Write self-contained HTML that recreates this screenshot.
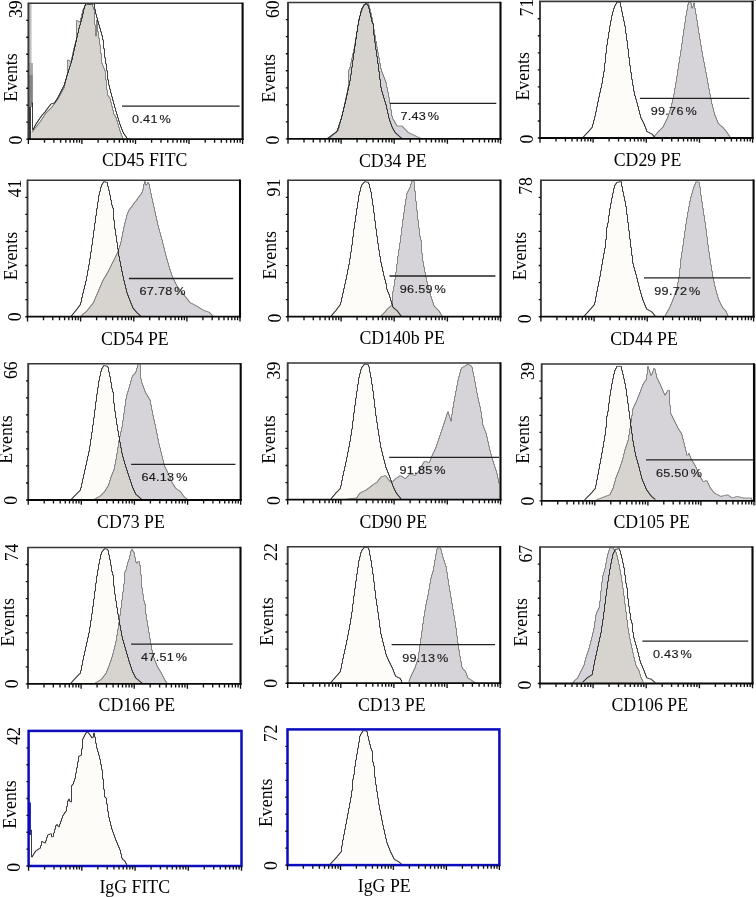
<!DOCTYPE html>
<html><head><meta charset="utf-8"><title>Flow cytometry histograms</title>
<style>html,body{margin:0;padding:0;background:#fff;width:756px;height:897px;overflow:hidden}svg{display:block;will-change:transform}</style>
</head><body>
<svg width="756" height="897" viewBox="0 0 756 897">
<defs><clipPath id="c0"><polygon points="31.5,139.1 31.5,103.0 32.5,103.0 32.5,129.8 33.5,129.8 33.5,127.9 34.5,127.9 34.5,125.9 35.5,125.9 35.5,124.0 36.5,124.0 36.5,122.5 37.5,122.5 37.5,121.1 38.5,121.1 38.5,119.6 39.5,119.6 39.5,118.1 40.5,118.1 40.5,116.7 41.5,116.7 41.5,115.3 42.5,115.3 42.5,114.2 43.5,114.2 43.5,113.1 44.5,113.1 44.5,112.0 45.5,112.0 45.5,110.6 46.5,110.6 46.5,109.2 47.5,109.2 47.5,107.9 48.5,107.9 48.5,106.6 49.5,106.6 49.5,105.3 50.5,105.3 50.5,104.0 51.5,104.0 51.5,103.7 52.5,103.7 52.5,103.4 53.5,103.4 53.5,103.1 54.5,103.1 54.5,102.1 55.5,102.1 55.5,100.6 56.5,100.6 56.5,99.0 57.5,99.0 57.5,97.2 58.5,97.2 58.5,95.4 59.5,95.4 59.5,93.4 60.5,93.4 60.5,91.4 61.5,91.4 61.5,89.5 62.5,89.5 62.5,87.5 63.5,87.5 63.5,85.5 64.5,85.5 64.5,82.3 65.5,82.3 65.5,79.0 66.5,79.0 66.5,75.8 67.5,75.8 67.5,72.6 68.5,72.6 68.5,69.4 69.5,69.4 69.5,66.2 70.5,66.2 70.5,63.1 71.5,63.1 71.5,59.8 72.5,59.8 72.5,55.3 73.5,55.3 73.5,50.8 74.5,50.8 74.5,46.4 75.5,46.4 75.5,41.9 76.5,41.9 76.5,37.4 77.5,37.4 77.5,33.0 78.5,33.0 78.5,28.5 79.5,28.5 79.5,25.0 80.5,25.0 80.5,21.6 81.5,21.6 81.5,18.1 82.5,18.1 82.5,13.7 83.5,13.7 83.5,9.1 84.5,9.1 84.5,5.6 85.5,5.6 85.5,3.7 86.5,3.7 86.5,3.9 87.5,3.9 87.5,4.3 88.5,4.3 88.5,4.4 89.5,4.4 89.5,4.3 90.5,4.3 90.5,4.1 91.5,4.1 91.5,4.0 92.5,4.0 92.5,4.0 93.5,4.0 93.5,4.0 94.5,4.0 94.5,9.4 95.5,9.4 95.5,14.1 96.5,14.1 96.5,17.7 97.5,17.7 97.5,21.3 98.5,21.3 98.5,24.9 99.5,24.9 99.5,28.4 100.5,28.4 100.5,31.8 101.5,31.8 101.5,35.3 102.5,35.3 102.5,39.8 103.5,39.8 103.5,48.7 104.5,48.7 104.5,57.7 105.5,57.7 105.5,63.9 106.5,63.9 106.5,70.7 107.5,70.7 107.5,79.7 108.5,79.7 108.5,85.2 109.5,85.2 109.5,89.1 110.5,89.1 110.5,93.0 111.5,93.0 111.5,96.8 112.5,96.8 112.5,100.5 113.5,100.5 113.5,104.2 114.5,104.2 114.5,107.8 115.5,107.8 115.5,111.3 116.5,111.3 116.5,114.5 117.5,114.5 117.5,117.8 118.5,117.8 118.5,121.1 119.5,121.1 119.5,124.3 120.5,124.3 120.5,127.0 121.5,127.0 121.5,129.5 122.5,129.5 122.5,132.0 123.5,132.0 123.5,133.9 124.5,133.9 124.5,135.3 125.5,135.3 125.5,136.7 126.5,136.7 126.5,138.2 127.5,138.2 127.5,138.8 128.5,138.8 128.5,139.1 129.5,139.1 129.5,139.4 130.5,139.4"/></clipPath><clipPath id="c1"><polygon points="326.5,138.5 327.5,138.5 327.5,138.0 328.5,138.0 328.5,137.3 329.5,137.3 329.5,136.6 330.5,136.6 330.5,135.9 331.5,135.9 331.5,135.1 332.5,135.1 332.5,134.4 333.5,134.4 333.5,133.7 334.5,133.7 334.5,133.0 335.5,133.0 335.5,132.3 336.5,132.3 336.5,131.1 337.5,131.1 337.5,128.2 338.5,128.2 338.5,125.2 339.5,125.2 339.5,122.2 340.5,122.2 340.5,119.3 341.5,119.3 341.5,115.9 342.5,115.9 342.5,111.8 343.5,111.8 343.5,107.7 344.5,107.7 344.5,103.7 345.5,103.7 345.5,99.6 346.5,99.6 346.5,95.1 347.5,95.1 347.5,90.3 348.5,90.3 348.5,85.6 349.5,85.6 349.5,80.8 350.5,80.8 350.5,74.4 351.5,74.4 351.5,67.2 352.5,67.2 352.5,60.1 353.5,60.1 353.5,52.9 354.5,52.9 354.5,46.0 355.5,46.0 355.5,39.0 356.5,39.0 356.5,32.1 357.5,32.1 357.5,25.2 358.5,25.2 358.5,20.2 359.5,20.2 359.5,15.8 360.5,15.8 360.5,11.3 361.5,11.3 361.5,8.5 362.5,8.5 362.5,6.9 363.5,6.9 363.5,5.4 364.5,5.4 364.5,4.4 365.5,4.4 365.5,3.4 366.5,3.4 366.5,4.3 367.5,4.3 367.5,5.6 368.5,5.6 368.5,8.5 369.5,8.5 369.5,12.9 370.5,12.9 370.5,17.2 371.5,17.2 371.5,21.6 372.5,21.6 372.5,23.8 373.5,23.8 373.5,35.0 374.5,35.0 374.5,42.4 375.5,42.4 375.5,49.7 376.5,49.7 376.5,56.6 377.5,56.6 377.5,63.5 378.5,63.5 378.5,71.4 379.5,71.4 379.5,79.4 380.5,79.4 380.5,87.3 381.5,87.3 381.5,91.6 382.5,91.6 382.5,94.9 383.5,94.9 383.5,98.2 384.5,98.2 384.5,101.5 385.5,101.5 385.5,104.8 386.5,104.8 386.5,109.2 387.5,109.2 387.5,113.7 388.5,113.7 388.5,118.1 389.5,118.1 389.5,121.2 390.5,121.2 390.5,124.0 391.5,124.0 391.5,126.8 392.5,126.8 392.5,128.8 393.5,128.8 393.5,130.5 394.5,130.5 394.5,132.2 395.5,132.2 395.5,133.4 396.5,133.4 396.5,134.3 397.5,134.3 397.5,135.1 398.5,135.1 398.5,136.0 399.5,136.0 399.5,136.9 400.5,136.9 400.5,137.7 401.5,137.7 401.5,138.5 402.5,138.5"/></clipPath><clipPath id="c2"><polygon points="582.5,137.3 583.5,137.3 583.5,136.3 584.5,136.3 584.5,135.2 585.5,135.2 585.5,134.2 586.5,134.2 586.5,133.1 587.5,133.1 587.5,132.1 588.5,132.1 588.5,131.0 589.5,131.0 589.5,129.8 590.5,129.8 590.5,128.6 591.5,128.6 591.5,127.4 592.5,127.4 592.5,124.2 593.5,124.2 593.5,120.3 594.5,120.3 594.5,116.3 595.5,116.3 595.5,111.8 596.5,111.8 596.5,106.8 597.5,106.8 597.5,101.9 598.5,101.9 598.5,97.1 599.5,97.1 599.5,92.6 600.5,92.6 600.5,88.1 601.5,88.1 601.5,83.5 602.5,83.5 602.5,77.5 603.5,77.5 603.5,71.6 604.5,71.6 604.5,63.0 605.5,63.0 605.5,53.4 606.5,53.4 606.5,45.0 607.5,45.0 607.5,38.6 608.5,38.6 608.5,32.1 609.5,32.1 609.5,25.9 610.5,25.9 610.5,20.6 611.5,20.6 611.5,15.4 612.5,15.4 612.5,11.6 613.5,11.6 613.5,8.3 614.5,8.3 614.5,5.7 615.5,5.7 615.5,4.0 616.5,4.0 616.5,2.4 617.5,2.4 617.5,2.4 618.5,2.4 618.5,2.4 619.5,2.4 619.5,2.4 620.5,2.4 620.5,6.9 621.5,6.9 621.5,11.8 622.5,11.8 622.5,16.6 623.5,16.6 623.5,21.2 624.5,21.2 624.5,26.1 625.5,26.1 625.5,33.4 626.5,33.4 626.5,40.7 627.5,40.7 627.5,48.9 628.5,48.9 628.5,57.5 629.5,57.5 629.5,65.6 630.5,65.6 630.5,72.5 631.5,72.5 631.5,79.4 632.5,79.4 632.5,85.4 633.5,85.4 633.5,91.3 634.5,91.3 634.5,95.8 635.5,95.8 635.5,99.2 636.5,99.2 636.5,102.7 637.5,102.7 637.5,106.4 638.5,106.4 638.5,110.4 639.5,110.4 639.5,114.3 640.5,114.3 640.5,117.9 641.5,117.9 641.5,119.9 642.5,119.9 642.5,121.8 643.5,121.8 643.5,123.8 644.5,123.8 644.5,126.3 645.5,126.3 645.5,128.9 646.5,128.9 646.5,131.4 647.5,131.4 647.5,132.1 648.5,132.1 648.5,132.6 649.5,132.6 649.5,133.1 650.5,133.1 650.5,133.6 651.5,133.6 651.5,134.1 652.5,134.1 652.5,135.2 653.5,135.2 653.5,136.4 654.5,136.4 654.5,137.5 655.5,137.5"/></clipPath><clipPath id="c3"><polygon points="70.5,316.4 71.5,316.4 71.5,315.2 72.5,315.2 72.5,314.0 73.5,314.0 73.5,312.8 74.5,312.8 74.5,311.6 75.5,311.6 75.5,310.4 76.5,310.4 76.5,309.0 77.5,309.0 77.5,307.7 78.5,307.7 78.5,306.3 79.5,306.3 79.5,305.0 80.5,305.0 80.5,302.1 81.5,302.1 81.5,297.6 82.5,297.6 82.5,293.1 83.5,293.1 83.5,289.1 84.5,289.1 84.5,285.1 85.5,285.1 85.5,281.1 86.5,281.1 86.5,275.9 87.5,275.9 87.5,270.3 88.5,270.3 88.5,264.8 89.5,264.8 89.5,258.6 90.5,258.6 90.5,251.9 91.5,251.9 91.5,245.1 92.5,245.1 92.5,237.8 93.5,237.8 93.5,230.4 94.5,230.4 94.5,223.0 95.5,223.0 95.5,215.7 96.5,215.7 96.5,208.6 97.5,208.6 97.5,202.0 98.5,202.0 98.5,195.3 99.5,195.3 99.5,191.3 100.5,191.3 100.5,187.2 101.5,187.2 101.5,184.6 102.5,184.6 102.5,182.9 103.5,182.9 103.5,181.7 104.5,181.7 104.5,181.9 105.5,181.9 105.5,182.2 106.5,182.2 106.5,182.4 107.5,182.4 107.5,186.4 108.5,186.4 108.5,190.4 109.5,190.4 109.5,195.0 110.5,195.0 110.5,200.1 111.5,200.1 111.5,205.1 112.5,205.1 112.5,208.1 113.5,208.1 113.5,220.2 114.5,220.2 114.5,228.9 115.5,228.9 115.5,235.6 116.5,235.6 116.5,242.3 117.5,242.3 117.5,249.2 118.5,249.2 118.5,256.2 119.5,256.2 119.5,261.3 120.5,261.3 120.5,266.4 121.5,266.4 121.5,271.4 122.5,271.4 122.5,276.1 123.5,276.1 123.5,280.7 124.5,280.7 124.5,284.7 125.5,284.7 125.5,288.7 126.5,288.7 126.5,292.7 127.5,292.7 127.5,295.4 128.5,295.4 128.5,298.0 129.5,298.0 129.5,300.6 130.5,300.6 130.5,303.2 131.5,303.2 131.5,305.6 132.5,305.6 132.5,308.0 133.5,308.0 133.5,309.2 134.5,309.2 134.5,310.4 135.5,310.4 135.5,311.6 136.5,311.6 136.5,312.7 137.5,312.7 137.5,313.6 138.5,313.6 138.5,314.5 139.5,314.5 139.5,315.4 140.5,315.4 140.5,316.3 141.5,316.3"/></clipPath><clipPath id="c4"><polygon points="330.5,316.1 331.5,316.1 331.5,315.0 332.5,315.0 332.5,313.8 333.5,313.8 333.5,312.7 334.5,312.7 334.5,311.6 335.5,311.6 335.5,310.4 336.5,310.4 336.5,309.0 337.5,309.0 337.5,307.7 338.5,307.7 338.5,306.3 339.5,306.3 339.5,305.0 340.5,305.0 340.5,302.1 341.5,302.1 341.5,297.6 342.5,297.6 342.5,293.1 343.5,293.1 343.5,288.6 344.5,288.6 344.5,284.1 345.5,284.1 345.5,279.6 346.5,279.6 346.5,274.7 347.5,274.7 347.5,269.6 348.5,269.6 348.5,264.6 349.5,264.6 349.5,258.6 350.5,258.6 350.5,251.9 351.5,251.9 351.5,245.0 352.5,245.0 352.5,236.9 353.5,236.9 353.5,228.9 354.5,228.9 354.5,222.0 355.5,222.0 355.5,215.3 356.5,215.3 356.5,208.6 357.5,208.6 357.5,202.0 358.5,202.0 358.5,195.3 359.5,195.3 359.5,191.3 360.5,191.3 360.5,187.2 361.5,187.2 361.5,184.8 362.5,184.8 362.5,183.6 363.5,183.6 363.5,182.4 364.5,182.4 364.5,181.7 365.5,181.7 365.5,181.9 366.5,181.9 366.5,182.1 367.5,182.1 367.5,182.3 368.5,182.3 368.5,184.0 369.5,184.0 369.5,188.0 370.5,188.0 370.5,192.0 371.5,192.0 371.5,198.7 372.5,198.7 372.5,205.4 373.5,205.4 373.5,212.9 374.5,212.9 374.5,220.9 375.5,220.9 375.5,228.8 376.5,228.8 376.5,236.2 377.5,236.2 377.5,243.5 378.5,243.5 378.5,250.1 379.5,250.1 379.5,256.5 380.5,256.5 380.5,262.4 381.5,262.4 381.5,266.9 382.5,266.9 382.5,271.4 383.5,271.4 383.5,275.9 384.5,275.9 384.5,279.7 385.5,279.7 385.5,283.5 386.5,283.5 386.5,289.3 387.5,289.3 387.5,292.0 388.5,292.0 388.5,294.2 389.5,294.2 389.5,297.4 390.5,297.4 390.5,300.8 391.5,300.8 391.5,303.9 392.5,303.9 392.5,307.0 393.5,307.0 393.5,308.2 394.5,308.2 394.5,309.0 395.5,309.0 395.5,309.8 396.5,309.8 396.5,310.6 397.5,310.6 397.5,311.9 398.5,311.9 398.5,313.2 399.5,313.2 399.5,314.6 400.5,314.6 400.5,315.9 401.5,315.9"/></clipPath><clipPath id="c5"><polygon points="583.5,316.2 584.5,316.2 584.5,315.2 585.5,315.2 585.5,314.1 586.5,314.1 586.5,313.0 587.5,313.0 587.5,311.9 588.5,311.9 588.5,310.8 589.5,310.8 589.5,309.7 590.5,309.7 590.5,308.6 591.5,308.6 591.5,307.4 592.5,307.4 592.5,306.2 593.5,306.2 593.5,305.0 594.5,305.0 594.5,302.2 595.5,302.2 595.5,296.8 596.5,296.8 596.5,291.5 597.5,291.5 597.5,286.5 598.5,286.5 598.5,281.5 599.5,281.5 599.5,276.5 600.5,276.5 600.5,270.7 601.5,270.7 601.5,264.6 602.5,264.6 602.5,258.9 603.5,258.9 603.5,253.5 604.5,253.5 604.5,248.2 605.5,248.2 605.5,239.5 606.5,239.5 606.5,227.3 607.5,227.3 607.5,222.9 608.5,222.9 608.5,215.6 609.5,215.6 609.5,208.6 610.5,208.6 610.5,203.3 611.5,203.3 611.5,198.0 612.5,198.0 612.5,193.1 613.5,193.1 613.5,188.4 614.5,188.4 614.5,185.1 615.5,185.1 615.5,183.7 616.5,183.7 616.5,182.4 617.5,182.4 617.5,182.2 618.5,182.2 618.5,182.0 619.5,182.0 619.5,181.8 620.5,181.8 620.5,181.6 621.5,181.6 621.5,186.6 622.5,186.6 622.5,191.6 623.5,191.6 623.5,196.4 624.5,196.4 624.5,201.1 625.5,201.1 625.5,206.5 626.5,206.5 626.5,214.5 627.5,214.5 627.5,222.5 628.5,222.5 628.5,230.8 629.5,230.8 629.5,239.1 630.5,239.1 630.5,247.4 631.5,247.4 631.5,255.4 632.5,255.4 632.5,263.4 633.5,263.4 633.5,267.4 634.5,267.4 634.5,270.9 635.5,270.9 635.5,274.4 636.5,274.4 636.5,278.3 637.5,278.3 637.5,282.3 638.5,282.3 638.5,286.3 639.5,286.3 639.5,290.1 640.5,290.1 640.5,293.5 641.5,293.5 641.5,297.0 642.5,297.0 642.5,300.2 643.5,300.2 643.5,302.7 644.5,302.7 644.5,305.1 645.5,305.1 645.5,307.5 646.5,307.5 646.5,309.3 647.5,309.3 647.5,309.8 648.5,309.8 648.5,310.3 649.5,310.3 649.5,310.9 650.5,310.9 650.5,311.4 651.5,311.4 651.5,312.2 652.5,312.2 652.5,313.3 653.5,313.3 653.5,314.5 654.5,314.5 654.5,315.6 655.5,315.6 655.5,316.7"/></clipPath><clipPath id="c6"><polygon points="70.5,499.6 71.5,499.6 71.5,498.6 72.5,498.6 72.5,497.6 73.5,497.6 73.5,496.5 74.5,496.5 74.5,495.5 75.5,495.5 75.5,494.5 76.5,494.5 76.5,493.5 77.5,493.5 77.5,492.5 78.5,492.5 78.5,491.5 79.5,491.5 79.5,490.5 80.5,490.5 80.5,487.7 81.5,487.7 81.5,483.2 82.5,483.2 82.5,478.7 83.5,478.7 83.5,474.2 84.5,474.2 84.5,469.7 85.5,469.7 85.5,465.2 86.5,465.2 86.5,460.7 87.5,460.7 87.5,456.1 88.5,456.1 88.5,451.6 89.5,451.6 89.5,445.8 90.5,445.8 90.5,439.1 91.5,439.1 91.5,432.3 92.5,432.3 92.5,425.0 93.5,425.0 93.5,417.7 94.5,417.7 94.5,409.8 95.5,409.8 95.5,401.7 96.5,401.7 96.5,394.2 97.5,394.2 97.5,387.6 98.5,387.6 98.5,380.9 99.5,380.9 99.5,376.2 100.5,376.2 100.5,371.5 101.5,371.5 101.5,368.6 102.5,368.6 102.5,366.9 103.5,366.9 103.5,365.6 104.5,365.6 104.5,365.8 105.5,365.8 105.5,366.0 106.5,366.0 106.5,366.2 107.5,366.2 107.5,367.3 108.5,367.3 108.5,372.0 109.5,372.0 109.5,376.7 110.5,376.7 110.5,382.4 111.5,382.4 111.5,388.5 112.5,388.5 112.5,392.1 113.5,392.1 113.5,403.3 114.5,403.3 114.5,411.3 115.5,411.3 115.5,418.0 116.5,418.0 116.5,424.7 117.5,424.7 117.5,430.9 118.5,430.9 118.5,436.6 119.5,436.6 119.5,442.3 120.5,442.3 120.5,447.7 121.5,447.7 121.5,453.1 122.5,453.1 122.5,457.1 123.5,457.1 123.5,460.6 124.5,460.6 124.5,464.1 125.5,464.1 125.5,467.4 126.5,467.4 126.5,470.4 127.5,470.4 127.5,473.5 128.5,473.5 128.5,476.5 129.5,476.5 129.5,479.5 130.5,479.5 130.5,482.5 131.5,482.5 131.5,485.5 132.5,485.5 132.5,488.1 133.5,488.1 133.5,490.4 134.5,490.4 134.5,492.6 135.5,492.6 135.5,494.4 136.5,494.4 136.5,495.2 137.5,495.2 137.5,496.1 138.5,496.1 138.5,497.0 139.5,497.0 139.5,497.9 140.5,497.9 140.5,498.8 141.5,498.8 141.5,499.7 142.5,499.7"/></clipPath><clipPath id="c7"><polygon points="330.5,499.0 331.5,499.0 331.5,497.7 332.5,497.7 332.5,496.5 333.5,496.5 333.5,495.3 334.5,495.3 334.5,494.1 335.5,494.1 335.5,492.9 336.5,492.9 336.5,491.9 337.5,491.9 337.5,490.9 338.5,490.9 338.5,489.8 339.5,489.8 339.5,488.8 340.5,488.8 340.5,485.7 341.5,485.7 341.5,480.6 342.5,480.6 342.5,475.5 343.5,475.5 343.5,471.0 344.5,471.0 344.5,466.5 345.5,466.5 345.5,462.0 346.5,462.0 346.5,457.1 347.5,457.1 347.5,452.0 348.5,452.0 348.5,447.0 349.5,447.0 349.5,441.4 350.5,441.4 350.5,435.4 351.5,435.4 351.5,429.0 352.5,429.0 352.5,421.0 353.5,421.0 353.5,412.9 354.5,412.9 354.5,405.4 355.5,405.4 355.5,398.1 356.5,398.1 356.5,391.0 357.5,391.0 357.5,384.3 358.5,384.3 358.5,377.6 359.5,377.6 359.5,373.6 360.5,373.6 360.5,369.6 361.5,369.6 361.5,367.2 362.5,367.2 362.5,366.0 363.5,366.0 363.5,364.8 364.5,364.8 364.5,364.1 365.5,364.1 365.5,364.3 366.5,364.3 366.5,364.5 367.5,364.5 367.5,364.7 368.5,364.7 368.5,366.9 369.5,366.9 369.5,372.3 370.5,372.3 370.5,377.6 371.5,377.6 371.5,384.3 372.5,384.3 372.5,391.0 373.5,391.0 373.5,398.9 374.5,398.9 374.5,407.6 375.5,407.6 375.5,415.8 376.5,415.8 376.5,422.6 377.5,422.6 377.5,429.3 378.5,429.3 378.5,435.7 379.5,435.7 379.5,442.1 380.5,442.1 380.5,447.8 381.5,447.8 381.5,451.8 382.5,451.8 382.5,455.9 383.5,455.9 383.5,459.9 384.5,459.9 384.5,463.7 385.5,463.7 385.5,467.5 386.5,467.5 386.5,470.0 387.5,470.0 387.5,472.5 388.5,472.5 388.5,475.0 389.5,475.0 389.5,477.7 390.5,477.7 390.5,480.5 391.5,480.5 391.5,483.3 392.5,483.3 392.5,486.1 393.5,486.1 393.5,488.3 394.5,488.3 394.5,490.4 395.5,490.4 395.5,492.4 396.5,492.4 396.5,493.9 397.5,493.9 397.5,495.2 398.5,495.2 398.5,496.4 399.5,496.4 399.5,497.6 400.5,497.6 400.5,498.9 401.5,498.9"/></clipPath><clipPath id="c8"><polygon points="584.5,499.5 585.5,499.5 585.5,498.5 586.5,498.5 586.5,497.5 587.5,497.5 587.5,496.5 588.5,496.5 588.5,495.5 589.5,495.5 589.5,494.5 590.5,494.5 590.5,493.4 591.5,493.4 591.5,492.3 592.5,492.3 592.5,491.1 593.5,491.1 593.5,489.9 594.5,489.9 594.5,488.8 595.5,488.8 595.5,485.1 596.5,485.1 596.5,479.8 597.5,479.8 597.5,474.4 598.5,474.4 598.5,469.1 599.5,469.1 599.5,463.8 600.5,463.8 600.5,458.4 601.5,458.4 601.5,453.0 602.5,453.0 602.5,447.4 603.5,447.4 603.5,441.4 604.5,441.4 604.5,435.4 605.5,435.4 605.5,427.4 606.5,427.4 606.5,416.2 607.5,416.2 607.5,411.4 608.5,411.4 608.5,403.3 609.5,403.3 609.5,395.7 610.5,395.7 610.5,389.7 611.5,389.7 611.5,383.7 612.5,383.7 612.5,378.7 613.5,378.7 613.5,374.0 614.5,374.0 614.5,370.4 615.5,370.4 615.5,368.4 616.5,368.4 616.5,366.4 617.5,366.4 617.5,366.4 618.5,366.4 618.5,366.4 619.5,366.4 619.5,366.4 620.5,366.4 620.5,366.4 621.5,366.4 621.5,370.4 622.5,370.4 622.5,374.4 623.5,374.4 623.5,378.8 624.5,378.8 624.5,383.5 625.5,383.5 625.5,388.8 626.5,388.8 626.5,396.1 627.5,396.1 627.5,403.4 628.5,403.4 628.5,411.1 629.5,411.1 629.5,418.8 630.5,418.8 630.5,426.4 631.5,426.4 631.5,433.7 632.5,433.7 632.5,441.1 633.5,441.1 633.5,446.6 634.5,446.6 634.5,452.0 635.5,452.0 635.5,456.4 636.5,456.4 636.5,459.9 637.5,459.9 637.5,463.4 638.5,463.4 638.5,467.1 639.5,467.1 639.5,471.1 640.5,471.1 640.5,475.1 641.5,475.1 641.5,478.9 642.5,478.9 642.5,481.3 643.5,481.3 643.5,483.6 644.5,483.6 644.5,486.0 645.5,486.0 645.5,488.4 646.5,488.4 646.5,490.4 647.5,490.4 647.5,491.7 648.5,491.7 648.5,493.1 649.5,493.1 649.5,494.4 650.5,494.4 650.5,495.7 651.5,495.7 651.5,496.8 652.5,496.8 652.5,497.6 653.5,497.6 653.5,498.4 654.5,498.4 654.5,499.2 655.5,499.2 655.5,500.8"/></clipPath><clipPath id="c9"><polygon points="70.5,683.1 71.5,683.1 71.5,682.0 72.5,682.0 72.5,680.8 73.5,680.8 73.5,679.7 74.5,679.7 74.5,678.6 75.5,678.6 75.5,677.5 76.5,677.5 76.5,676.5 77.5,676.5 77.5,675.5 78.5,675.5 78.5,674.5 79.5,674.5 79.5,673.5 80.5,673.5 80.5,670.4 81.5,670.4 81.5,665.3 82.5,665.3 82.5,660.1 83.5,660.1 83.5,655.6 84.5,655.6 84.5,651.1 85.5,651.1 85.5,646.6 86.5,646.6 86.5,642.1 87.5,642.1 87.5,637.5 88.5,637.5 88.5,633.0 89.5,633.0 89.5,627.2 90.5,627.2 90.5,620.5 91.5,620.5 91.5,613.7 92.5,613.7 92.5,606.4 93.5,606.4 93.5,599.0 94.5,599.0 94.5,591.1 95.5,591.1 95.5,583.1 96.5,583.1 96.5,575.9 97.5,575.9 97.5,569.9 98.5,569.9 98.5,563.9 99.5,563.9 99.5,559.2 100.5,559.2 100.5,554.5 101.5,554.5 101.5,551.9 102.5,551.9 102.5,550.6 103.5,550.6 103.5,549.4 104.5,549.4 104.5,548.7 105.5,548.7 105.5,549.0 106.5,549.0 106.5,549.2 107.5,549.2 107.5,550.3 108.5,550.3 108.5,555.0 109.5,555.0 109.5,559.7 110.5,559.7 110.5,565.4 111.5,565.4 111.5,571.5 112.5,571.5 112.5,575.1 113.5,575.1 113.5,586.3 114.5,586.3 114.5,594.3 115.5,594.3 115.5,601.0 116.5,601.0 116.5,607.7 117.5,607.7 117.5,613.9 118.5,613.9 118.5,619.6 119.5,619.6 119.5,625.3 120.5,625.3 120.5,630.7 121.5,630.7 121.5,636.1 122.5,636.1 122.5,640.2 123.5,640.2 123.5,643.6 124.5,643.6 124.5,647.1 125.5,647.1 125.5,650.6 126.5,650.6 126.5,654.1 127.5,654.1 127.5,657.5 128.5,657.5 128.5,661.0 129.5,661.0 129.5,664.1 130.5,664.1 130.5,667.1 131.5,667.1 131.5,670.1 132.5,670.1 132.5,672.5 133.5,672.5 133.5,674.5 134.5,674.5 134.5,676.6 135.5,676.6 135.5,678.1 136.5,678.1 136.5,679.0 137.5,679.0 137.5,679.8 138.5,679.8 138.5,680.7 139.5,680.7 139.5,681.5 140.5,681.5 140.5,682.4 141.5,682.4 141.5,683.2 142.5,683.2"/></clipPath><clipPath id="c10"><polygon points="330.5,682.3 331.5,682.3 331.5,681.2 332.5,681.2 332.5,680.0 333.5,680.0 333.5,678.9 334.5,678.9 334.5,677.8 335.5,677.8 335.5,676.6 336.5,676.6 336.5,675.5 337.5,675.5 337.5,674.3 338.5,674.3 338.5,673.1 339.5,673.1 339.5,671.9 340.5,671.9 340.5,668.7 341.5,668.7 341.5,663.6 342.5,663.6 342.5,658.5 343.5,658.5 343.5,654.0 344.5,654.0 344.5,649.5 345.5,649.5 345.5,645.0 346.5,645.0 346.5,640.1 347.5,640.1 347.5,635.0 348.5,635.0 348.5,630.0 349.5,630.0 349.5,624.4 350.5,624.4 350.5,618.4 351.5,618.4 351.5,612.0 352.5,612.0 352.5,604.0 353.5,604.0 353.5,595.9 354.5,595.9 354.5,588.4 355.5,588.4 355.5,581.1 356.5,581.1 356.5,574.0 357.5,574.0 357.5,567.3 358.5,567.3 358.5,560.6 359.5,560.6 359.5,556.6 360.5,556.6 360.5,552.6 361.5,552.6 361.5,550.2 362.5,550.2 362.5,549.0 363.5,549.0 363.5,547.8 364.5,547.8 364.5,547.1 365.5,547.1 365.5,547.3 366.5,547.3 366.5,547.5 367.5,547.5 367.5,547.7 368.5,547.7 368.5,549.9 369.5,549.9 369.5,555.3 370.5,555.3 370.5,560.6 371.5,560.6 371.5,567.3 372.5,567.3 372.5,574.0 373.5,574.0 373.5,581.9 374.5,581.9 374.5,590.6 375.5,590.6 375.5,598.8 376.5,598.8 376.5,605.5 377.5,605.5 377.5,612.3 378.5,612.3 378.5,619.7 379.5,619.7 379.5,627.4 380.5,627.4 380.5,634.0 381.5,634.0 381.5,638.1 382.5,638.1 382.5,642.1 383.5,642.1 383.5,646.1 384.5,646.1 384.5,650.1 385.5,650.1 385.5,654.1 386.5,654.1 386.5,656.8 387.5,656.8 387.5,659.1 388.5,659.1 388.5,661.3 389.5,661.3 389.5,663.3 390.5,663.3 390.5,665.3 391.5,665.3 391.5,667.3 392.5,667.3 392.5,669.6 393.5,669.6 393.5,672.2 394.5,672.2 394.5,674.7 395.5,674.7 395.5,676.4 396.5,676.4 396.5,676.9 397.5,676.9 397.5,677.4 398.5,677.4 398.5,677.9 399.5,677.9 399.5,678.4 400.5,678.4 400.5,680.0 401.5,680.0 401.5,682.4 402.5,682.4"/></clipPath><clipPath id="c11"><polygon points="582.5,681.8 583.5,681.8 583.5,680.9 584.5,680.9 584.5,680.0 585.5,680.0 585.5,679.0 586.5,679.0 586.5,678.1 587.5,678.1 587.5,677.3 588.5,677.3 588.5,676.7 589.5,676.7 589.5,676.0 590.5,676.0 590.5,675.4 591.5,675.4 591.5,674.7 592.5,674.7 592.5,670.3 593.5,670.3 593.5,664.9 594.5,664.9 594.5,659.9 595.5,659.9 595.5,655.4 596.5,655.4 596.5,650.9 597.5,650.9 597.5,646.4 598.5,646.4 598.5,641.9 599.5,641.9 599.5,637.3 600.5,637.3 600.5,632.8 601.5,632.8 601.5,626.1 602.5,626.1 602.5,619.5 603.5,619.5 603.5,612.0 604.5,612.0 604.5,603.9 605.5,603.9 605.5,596.0 606.5,596.0 606.5,588.7 607.5,588.7 607.5,581.4 608.5,581.4 608.5,575.1 609.5,575.1 609.5,569.1 610.5,569.1 610.5,563.6 611.5,563.6 611.5,558.9 612.5,558.9 612.5,554.2 613.5,554.2 613.5,552.2 614.5,552.2 614.5,550.2 615.5,550.2 615.5,549.3 616.5,549.3 616.5,549.1 617.5,549.1 617.5,548.9 618.5,548.9 618.5,548.7 619.5,548.7 619.5,550.8 620.5,550.8 620.5,554.5 621.5,554.5 621.5,558.3 622.5,558.3 622.5,563.0 623.5,563.0 623.5,567.8 624.5,567.8 624.5,575.1 625.5,575.1 625.5,583.1 626.5,583.1 626.5,587.9 627.5,587.9 627.5,598.7 628.5,598.7 628.5,606.4 629.5,606.4 629.5,613.2 630.5,613.2 630.5,619.9 631.5,619.9 631.5,623.2 632.5,623.2 632.5,632.3 633.5,632.3 633.5,638.1 634.5,638.1 634.5,641.6 635.5,641.6 635.5,645.0 636.5,645.0 636.5,648.5 637.5,648.5 637.5,652.5 638.5,652.5 638.5,656.5 639.5,656.5 639.5,660.5 640.5,660.5 640.5,663.4 641.5,663.4 641.5,665.8 642.5,665.8 642.5,668.2 643.5,668.2 643.5,670.6 644.5,670.6 644.5,673.2 645.5,673.2 645.5,675.9 646.5,675.9 646.5,677.9 647.5,677.9 647.5,678.2 648.5,678.2 648.5,678.6 649.5,678.6 649.5,678.9 650.5,678.9 650.5,679.2 651.5,679.2 651.5,679.9 652.5,679.9 652.5,680.8 653.5,680.8 653.5,681.7 654.5,681.7 654.5,682.3 655.5,682.3 655.5,683.5"/></clipPath><clipPath id="c12"><polygon points="30.5,866.0 30.5,830.0 31.5,830.0 31.5,857.0 32.5,857.0 32.5,855.3 33.5,855.3 33.5,853.7 34.5,853.7 34.5,852.1 35.5,852.1 35.5,850.8 36.5,850.8 36.5,850.2 37.5,850.2 37.5,849.5 38.5,849.5 38.5,848.8 39.5,848.8 39.5,848.2 40.5,848.2 40.5,845.5 41.5,845.5 41.5,841.5 42.5,841.5 42.5,842.0 43.5,842.0 43.5,842.5 44.5,842.5 44.5,843.0 45.5,843.0 45.5,840.8 46.5,840.8 46.5,837.4 47.5,837.4 47.5,835.0 48.5,835.0 48.5,834.5 49.5,834.5 49.5,834.0 50.5,834.0 50.5,833.8 51.5,833.8 51.5,836.8 52.5,836.8 52.5,836.5 53.5,836.5 53.5,832.9 54.5,832.9 54.5,829.3 55.5,829.3 55.5,825.7 56.5,825.7 56.5,824.6 57.5,824.6 57.5,825.9 58.5,825.9 58.5,826.8 59.5,826.8 59.5,824.0 60.5,824.0 60.5,821.2 61.5,821.2 61.5,818.3 62.5,818.3 62.5,815.6 63.5,815.6 63.5,814.1 64.5,814.1 64.5,812.6 65.5,812.6 65.5,811.1 66.5,811.1 66.5,806.2 67.5,806.2 67.5,800.9 68.5,800.9 68.5,799.2 69.5,799.2 69.5,801.2 70.5,801.2 70.5,801.9 71.5,801.9 71.5,785.4 72.5,785.4 72.5,784.1 73.5,784.1 73.5,781.4 74.5,781.4 74.5,778.5 75.5,778.5 75.5,773.1 76.5,773.1 76.5,767.7 77.5,767.7 77.5,761.9 78.5,761.9 78.5,756.4 79.5,756.4 79.5,755.8 80.5,755.8 80.5,755.2 81.5,755.2 81.5,748.9 82.5,748.9 82.5,738.8 83.5,738.8 83.5,736.8 84.5,736.8 84.5,734.8 85.5,734.8 85.5,733.1 86.5,733.1 86.5,731.5 87.5,731.5 87.5,732.5 88.5,732.5 88.5,733.6 89.5,733.6 89.5,734.9 90.5,734.9 90.5,736.4 91.5,736.4 91.5,737.9 92.5,737.9 92.5,737.2 93.5,737.2 93.5,733.2 94.5,733.2 94.5,737.2 95.5,737.2 95.5,743.3 96.5,743.3 96.5,748.3 97.5,748.3 97.5,751.8 98.5,751.8 98.5,755.3 99.5,755.3 99.5,759.2 100.5,759.2 100.5,764.5 101.5,764.5 101.5,769.8 102.5,769.8 102.5,779.0 103.5,779.0 103.5,789.4 104.5,789.4 104.5,797.0 105.5,797.0 105.5,798.0 106.5,798.0 106.5,804.1 107.5,804.1 107.5,811.4 108.5,811.4 108.5,817.4 109.5,817.4 109.5,821.4 110.5,821.4 110.5,825.5 111.5,825.5 111.5,829.3 112.5,829.3 112.5,832.1 113.5,832.1 113.5,834.9 114.5,834.9 114.5,837.7 115.5,837.7 115.5,840.4 116.5,840.4 116.5,842.7 117.5,842.7 117.5,845.1 118.5,845.1 118.5,847.4 119.5,847.4 119.5,849.9 120.5,849.9 120.5,853.9 121.5,853.9 121.5,858.0 122.5,858.0 122.5,859.7 123.5,859.7 123.5,860.3 124.5,860.3 124.5,861.4 125.5,861.4 125.5,863.3 126.5,863.3 126.5,865.3 127.5,865.3"/></clipPath><clipPath id="c13"><polygon points="329.5,864.4 330.5,864.4 330.5,863.3 331.5,863.3 331.5,862.2 332.5,862.2 332.5,861.1 333.5,861.1 333.5,860.1 334.5,860.1 334.5,859.0 335.5,859.0 335.5,857.9 336.5,857.9 336.5,856.8 337.5,856.8 337.5,855.5 338.5,855.5 338.5,854.3 339.5,854.3 339.5,853.1 340.5,853.1 340.5,851.9 341.5,851.9 341.5,845.8 342.5,845.8 342.5,839.9 343.5,839.9 343.5,834.6 344.5,834.6 344.5,829.4 345.5,829.4 345.5,824.1 346.5,824.1 346.5,818.9 347.5,818.9 347.5,813.6 348.5,813.6 348.5,808.3 349.5,808.3 349.5,802.8 350.5,802.8 350.5,797.4 351.5,797.4 351.5,790.7 352.5,790.7 352.5,779.4 353.5,779.4 353.5,774.6 354.5,774.6 354.5,766.5 355.5,766.5 355.5,760.0 356.5,760.0 356.5,754.1 357.5,754.1 357.5,748.2 358.5,748.2 358.5,742.2 359.5,742.2 359.5,736.1 360.5,736.1 360.5,734.0 361.5,734.0 361.5,732.4 362.5,732.4 362.5,730.8 363.5,730.8 363.5,730.8 364.5,730.8 364.5,730.8 365.5,730.8 365.5,730.8 366.5,730.8 366.5,731.7 367.5,731.7 367.5,736.2 368.5,736.2 368.5,740.6 369.5,740.6 369.5,744.5 370.5,744.5 370.5,748.4 371.5,748.4 371.5,750.8 372.5,750.8 372.5,762.1 373.5,762.1 373.5,766.1 374.5,766.1 374.5,777.3 375.5,777.3 375.5,784.8 376.5,784.8 376.5,791.6 377.5,791.6 377.5,798.2 378.5,798.2 378.5,804.8 379.5,804.8 379.5,810.1 380.5,810.1 380.5,815.1 381.5,815.1 381.5,820.2 382.5,820.2 382.5,825.2 383.5,825.2 383.5,829.7 384.5,829.7 384.5,834.2 385.5,834.2 385.5,838.7 386.5,838.7 386.5,842.8 387.5,842.8 387.5,845.3 388.5,845.3 388.5,847.9 389.5,847.9 389.5,850.4 390.5,850.4 390.5,852.7 391.5,852.7 391.5,854.7 392.5,854.7 392.5,856.7 393.5,856.7 393.5,858.7 394.5,858.7 394.5,859.8 395.5,859.8 395.5,860.3 396.5,860.3 396.5,860.8 397.5,860.8 397.5,861.3 398.5,861.3 398.5,862.0 399.5,862.0 399.5,862.9 400.5,862.9 400.5,863.8 401.5,863.8 401.5,864.7 402.5,864.7"/></clipPath></defs>
<rect width="756" height="897" fill="#fff"/>
<polygon points="31.5,139.1 31.5,103.0 32.5,103.0 32.5,129.8 33.5,129.8 33.5,127.9 34.5,127.9 34.5,125.9 35.5,125.9 35.5,124.0 36.5,124.0 36.5,122.5 37.5,122.5 37.5,121.1 38.5,121.1 38.5,119.6 39.5,119.6 39.5,118.1 40.5,118.1 40.5,116.7 41.5,116.7 41.5,115.3 42.5,115.3 42.5,114.2 43.5,114.2 43.5,113.1 44.5,113.1 44.5,112.0 45.5,112.0 45.5,110.6 46.5,110.6 46.5,109.2 47.5,109.2 47.5,107.9 48.5,107.9 48.5,106.6 49.5,106.6 49.5,105.3 50.5,105.3 50.5,104.0 51.5,104.0 51.5,103.7 52.5,103.7 52.5,103.4 53.5,103.4 53.5,103.1 54.5,103.1 54.5,102.1 55.5,102.1 55.5,100.6 56.5,100.6 56.5,99.0 57.5,99.0 57.5,97.2 58.5,97.2 58.5,95.4 59.5,95.4 59.5,93.4 60.5,93.4 60.5,91.4 61.5,91.4 61.5,89.5 62.5,89.5 62.5,87.5 63.5,87.5 63.5,85.5 64.5,85.5 64.5,82.3 65.5,82.3 65.5,79.0 66.5,79.0 66.5,75.8 67.5,75.8 67.5,72.6 68.5,72.6 68.5,69.4 69.5,69.4 69.5,66.2 70.5,66.2 70.5,63.1 71.5,63.1 71.5,59.8 72.5,59.8 72.5,55.3 73.5,55.3 73.5,50.8 74.5,50.8 74.5,46.4 75.5,46.4 75.5,41.9 76.5,41.9 76.5,37.4 77.5,37.4 77.5,33.0 78.5,33.0 78.5,28.5 79.5,28.5 79.5,25.0 80.5,25.0 80.5,21.6 81.5,21.6 81.5,18.1 82.5,18.1 82.5,13.7 83.5,13.7 83.5,9.1 84.5,9.1 84.5,5.6 85.5,5.6 85.5,3.7 86.5,3.7 86.5,3.9 87.5,3.9 87.5,4.3 88.5,4.3 88.5,4.4 89.5,4.4 89.5,4.3 90.5,4.3 90.5,4.1 91.5,4.1 91.5,4.0 92.5,4.0 92.5,4.0 93.5,4.0 93.5,4.0 94.5,4.0 94.5,9.4 95.5,9.4 95.5,14.1 96.5,14.1 96.5,17.7 97.5,17.7 97.5,21.3 98.5,21.3 98.5,24.9 99.5,24.9 99.5,28.4 100.5,28.4 100.5,31.8 101.5,31.8 101.5,35.3 102.5,35.3 102.5,39.8 103.5,39.8 103.5,48.7 104.5,48.7 104.5,57.7 105.5,57.7 105.5,63.9 106.5,63.9 106.5,70.7 107.5,70.7 107.5,79.7 108.5,79.7 108.5,85.2 109.5,85.2 109.5,89.1 110.5,89.1 110.5,93.0 111.5,93.0 111.5,96.8 112.5,96.8 112.5,100.5 113.5,100.5 113.5,104.2 114.5,104.2 114.5,107.8 115.5,107.8 115.5,111.3 116.5,111.3 116.5,114.5 117.5,114.5 117.5,117.8 118.5,117.8 118.5,121.1 119.5,121.1 119.5,124.3 120.5,124.3 120.5,127.0 121.5,127.0 121.5,129.5 122.5,129.5 122.5,132.0 123.5,132.0 123.5,133.9 124.5,133.9 124.5,135.3 125.5,135.3 125.5,136.7 126.5,136.7 126.5,138.2 127.5,138.2 127.5,138.8 128.5,138.8 128.5,139.1 129.5,139.1 129.5,139.4 130.5,139.4" fill="#fefcf8"/>
<polygon points="31.5,139.1 31.5,132.0 32.5,132.0 32.5,130.8 33.5,130.8 33.5,129.5 34.5,129.5 34.5,128.2 35.5,128.2 35.5,127.0 36.5,127.0 36.5,125.8 37.5,125.8 37.5,124.5 38.5,124.5 38.5,123.2 39.5,123.2 39.5,122.0 40.5,122.0 40.5,120.5 41.5,120.5 41.5,119.0 42.5,119.0 42.5,117.5 43.5,117.5 43.5,116.0 44.5,116.0 44.5,114.5 45.5,114.5 45.5,113.0 46.5,113.0 46.5,112.0 47.5,112.0 47.5,111.0 48.5,111.0 48.5,110.0 49.5,110.0 49.5,109.0 50.5,109.0 50.5,108.0 51.5,108.0 51.5,107.0 52.5,107.0 52.5,105.7 53.5,105.7 53.5,104.3 54.5,104.3 54.5,103.0 55.5,103.0 55.5,101.7 56.5,101.7 56.5,100.3 57.5,100.3 57.5,99.0 58.5,99.0 58.5,97.2 59.5,97.2 59.5,95.3 60.5,95.3 60.5,93.5 61.5,93.5 61.5,91.7 62.5,91.7 62.5,89.8 63.5,89.8 63.5,88.0 64.5,88.0 64.5,84.0 65.5,84.0 65.5,80.0 66.5,80.0 66.5,75.0 67.5,75.0 67.5,60.0 68.5,60.0 68.5,60.4 69.5,60.4 69.5,61.2 70.5,61.2 70.5,62.0 71.5,62.0 71.5,57.3 72.5,57.3 72.5,52.7 73.5,52.7 73.5,48.0 74.5,48.0 74.5,44.2 75.5,44.2 75.5,40.4 76.5,40.4 76.5,20.6 77.5,20.6 77.5,20.9 78.5,20.9 78.5,21.5 79.5,21.5 79.5,22.0 80.5,22.0 80.5,18.0 81.5,18.0 81.5,14.0 82.5,14.0 82.5,10.0 83.5,10.0 83.5,8.0 84.5,8.0 84.5,6.0 85.5,6.0 85.5,4.0 86.5,4.0 86.5,4.0 87.5,4.0 87.5,4.0 88.5,4.0 88.5,4.0 89.5,4.0 89.5,4.0 90.5,4.0 90.5,4.0 91.5,4.0 91.5,4.0 92.5,4.0 92.5,6.8 93.5,6.8 93.5,9.5 94.5,9.5 94.5,25.0 95.5,25.0 95.5,36.0 96.5,36.0 96.5,20.0 97.5,20.0 97.5,31.7 98.5,31.7 98.5,38.3 99.5,38.3 99.5,44.9 100.5,44.9 100.5,53.5 101.5,53.5 101.5,63.4 102.5,63.4 102.5,65.9 103.5,65.9 103.5,68.3 104.5,68.3 104.5,70.8 105.5,70.8 105.5,80.0 106.5,80.0 106.5,90.0 107.5,90.0 107.5,95.6 108.5,95.6 108.5,96.9 109.5,96.9 109.5,98.4 110.5,98.4 110.5,102.4 111.5,102.4 111.5,106.4 112.5,106.4 112.5,110.4 113.5,110.4 113.5,114.2 114.5,114.2 114.5,115.9 115.5,115.9 115.5,117.7 116.5,117.7 116.5,120.7 117.5,120.7 117.5,124.1 118.5,124.1 118.5,127.4 119.5,127.4 119.5,130.8 120.5,130.8 120.5,133.6 121.5,133.6 121.5,136.2 122.5,136.2 122.5,139.5 123.5,139.5 123.5,139.1" fill="#d7d4cf"/>
<polygon points="31.5,139.1 31.5,132.0 32.5,132.0 32.5,130.8 33.5,130.8 33.5,129.5 34.5,129.5 34.5,128.2 35.5,128.2 35.5,127.0 36.5,127.0 36.5,125.8 37.5,125.8 37.5,124.5 38.5,124.5 38.5,123.2 39.5,123.2 39.5,122.0 40.5,122.0 40.5,120.5 41.5,120.5 41.5,119.0 42.5,119.0 42.5,117.5 43.5,117.5 43.5,116.0 44.5,116.0 44.5,114.5 45.5,114.5 45.5,113.0 46.5,113.0 46.5,112.0 47.5,112.0 47.5,111.0 48.5,111.0 48.5,110.0 49.5,110.0 49.5,109.0 50.5,109.0 50.5,108.0 51.5,108.0 51.5,107.0 52.5,107.0 52.5,105.7 53.5,105.7 53.5,104.3 54.5,104.3 54.5,103.0 55.5,103.0 55.5,101.7 56.5,101.7 56.5,100.3 57.5,100.3 57.5,99.0 58.5,99.0 58.5,97.2 59.5,97.2 59.5,95.3 60.5,95.3 60.5,93.5 61.5,93.5 61.5,91.7 62.5,91.7 62.5,89.8 63.5,89.8 63.5,88.0 64.5,88.0 64.5,84.0 65.5,84.0 65.5,80.0 66.5,80.0 66.5,75.0 67.5,75.0 67.5,60.0 68.5,60.0 68.5,60.4 69.5,60.4 69.5,61.2 70.5,61.2 70.5,62.0 71.5,62.0 71.5,57.3 72.5,57.3 72.5,52.7 73.5,52.7 73.5,48.0 74.5,48.0 74.5,44.2 75.5,44.2 75.5,40.4 76.5,40.4 76.5,20.6 77.5,20.6 77.5,20.9 78.5,20.9 78.5,21.5 79.5,21.5 79.5,22.0 80.5,22.0 80.5,18.0 81.5,18.0 81.5,14.0 82.5,14.0 82.5,10.0 83.5,10.0 83.5,8.0 84.5,8.0 84.5,6.0 85.5,6.0 85.5,4.0 86.5,4.0 86.5,4.0 87.5,4.0 87.5,4.0 88.5,4.0 88.5,4.0 89.5,4.0 89.5,4.0 90.5,4.0 90.5,4.0 91.5,4.0 91.5,4.0 92.5,4.0 92.5,6.8 93.5,6.8 93.5,9.5 94.5,9.5 94.5,25.0 95.5,25.0 95.5,36.0 96.5,36.0 96.5,20.0 97.5,20.0 97.5,31.7 98.5,31.7 98.5,38.3 99.5,38.3 99.5,44.9 100.5,44.9 100.5,53.5 101.5,53.5 101.5,63.4 102.5,63.4 102.5,65.9 103.5,65.9 103.5,68.3 104.5,68.3 104.5,70.8 105.5,70.8 105.5,80.0 106.5,80.0 106.5,90.0 107.5,90.0 107.5,95.6 108.5,95.6 108.5,96.9 109.5,96.9 109.5,98.4 110.5,98.4 110.5,102.4 111.5,102.4 111.5,106.4 112.5,106.4 112.5,110.4 113.5,110.4 113.5,114.2 114.5,114.2 114.5,115.9 115.5,115.9 115.5,117.7 116.5,117.7 116.5,120.7 117.5,120.7 117.5,124.1 118.5,124.1 118.5,127.4 119.5,127.4 119.5,130.8 120.5,130.8 120.5,133.6 121.5,133.6 121.5,136.2 122.5,136.2 122.5,139.5 123.5,139.5 123.5,139.1" fill="#d7d4cf" clip-path="url(#c0)"/>
<polyline points="31.5,132.0 32.5,132.0 32.5,130.8 33.5,130.8 33.5,129.5 34.5,129.5 34.5,128.2 35.5,128.2 35.5,127.0 36.5,127.0 36.5,125.8 37.5,125.8 37.5,124.5 38.5,124.5 38.5,123.2 39.5,123.2 39.5,122.0 40.5,122.0 40.5,120.5 41.5,120.5 41.5,119.0 42.5,119.0 42.5,117.5 43.5,117.5 43.5,116.0 44.5,116.0 44.5,114.5 45.5,114.5 45.5,113.0 46.5,113.0 46.5,112.0 47.5,112.0 47.5,111.0 48.5,111.0 48.5,110.0 49.5,110.0 49.5,109.0 50.5,109.0 50.5,108.0 51.5,108.0 51.5,107.0 52.5,107.0 52.5,105.7 53.5,105.7 53.5,104.3 54.5,104.3 54.5,103.0 55.5,103.0 55.5,101.7 56.5,101.7 56.5,100.3 57.5,100.3 57.5,99.0 58.5,99.0 58.5,97.2 59.5,97.2 59.5,95.3 60.5,95.3 60.5,93.5 61.5,93.5 61.5,91.7 62.5,91.7 62.5,89.8 63.5,89.8 63.5,88.0 64.5,88.0 64.5,84.0 65.5,84.0 65.5,80.0 66.5,80.0 66.5,75.0 67.5,75.0 67.5,60.0 68.5,60.0 68.5,60.4 69.5,60.4 69.5,61.2 70.5,61.2 70.5,62.0 71.5,62.0 71.5,57.3 72.5,57.3 72.5,52.7 73.5,52.7 73.5,48.0 74.5,48.0 74.5,44.2 75.5,44.2 75.5,40.4 76.5,40.4 76.5,20.6 77.5,20.6 77.5,20.9 78.5,20.9 78.5,21.5 79.5,21.5 79.5,22.0 80.5,22.0 80.5,18.0 81.5,18.0 81.5,14.0 82.5,14.0 82.5,10.0 83.5,10.0 83.5,8.0 84.5,8.0 84.5,6.0 85.5,6.0 85.5,4.0 86.5,4.0 86.5,4.0 87.5,4.0 87.5,4.0 88.5,4.0 88.5,4.0 89.5,4.0 89.5,4.0 90.5,4.0 90.5,4.0 91.5,4.0 91.5,4.0 92.5,4.0 92.5,6.8 93.5,6.8 93.5,9.5 94.5,9.5 94.5,25.0 95.5,25.0 95.5,36.0 96.5,36.0 96.5,20.0 97.5,20.0 97.5,31.7 98.5,31.7 98.5,38.3 99.5,38.3 99.5,44.9 100.5,44.9 100.5,53.5 101.5,53.5 101.5,63.4 102.5,63.4 102.5,65.9 103.5,65.9 103.5,68.3 104.5,68.3 104.5,70.8 105.5,70.8 105.5,80.0 106.5,80.0 106.5,90.0 107.5,90.0 107.5,95.6 108.5,95.6 108.5,96.9 109.5,96.9 109.5,98.4 110.5,98.4 110.5,102.4 111.5,102.4 111.5,106.4 112.5,106.4 112.5,110.4 113.5,110.4 113.5,114.2 114.5,114.2 114.5,115.9 115.5,115.9 115.5,117.7 116.5,117.7 116.5,120.7 117.5,120.7 117.5,124.1 118.5,124.1 118.5,127.4 119.5,127.4 119.5,130.8 120.5,130.8 120.5,133.6 121.5,133.6 121.5,136.2 122.5,136.2 122.5,139.5 123.5,139.5" fill="none" stroke="#7a7a7a" stroke-width="0.9" stroke-linejoin="miter"/>
<rect x="29" y="3.5" width="2.6" height="70" fill="#c2c2c2"/>
<rect x="29" y="63" width="3.9" height="12" fill="#a8a8a8"/>
<rect x="29" y="75" width="3.9" height="32" fill="#858585"/>
<rect x="28.6" y="107" width="2.4" height="32" fill="#3a3a3a"/>
<polyline points="31.5,103.0 32.5,103.0 32.5,129.8 33.5,129.8 33.5,127.9 34.5,127.9 34.5,125.9 35.5,125.9 35.5,124.0 36.5,124.0 36.5,122.5 37.5,122.5 37.5,121.1 38.5,121.1 38.5,119.6 39.5,119.6 39.5,118.1 40.5,118.1 40.5,116.7 41.5,116.7 41.5,115.3 42.5,115.3 42.5,114.2 43.5,114.2 43.5,113.1 44.5,113.1 44.5,112.0 45.5,112.0 45.5,110.6 46.5,110.6 46.5,109.2 47.5,109.2 47.5,107.9 48.5,107.9 48.5,106.6 49.5,106.6 49.5,105.3 50.5,105.3 50.5,104.0 51.5,104.0 51.5,103.7 52.5,103.7 52.5,103.4 53.5,103.4 53.5,103.1 54.5,103.1 54.5,102.1 55.5,102.1 55.5,100.6 56.5,100.6 56.5,99.0 57.5,99.0 57.5,97.2 58.5,97.2 58.5,95.4 59.5,95.4 59.5,93.4 60.5,93.4 60.5,91.4 61.5,91.4 61.5,89.5 62.5,89.5 62.5,87.5 63.5,87.5 63.5,85.5 64.5,85.5 64.5,82.3 65.5,82.3 65.5,79.0 66.5,79.0 66.5,75.8 67.5,75.8 67.5,72.6 68.5,72.6 68.5,69.4 69.5,69.4 69.5,66.2 70.5,66.2 70.5,63.1 71.5,63.1 71.5,59.8 72.5,59.8 72.5,55.3 73.5,55.3 73.5,50.8 74.5,50.8 74.5,46.4 75.5,46.4 75.5,41.9 76.5,41.9 76.5,37.4 77.5,37.4 77.5,33.0 78.5,33.0 78.5,28.5 79.5,28.5 79.5,25.0 80.5,25.0 80.5,21.6 81.5,21.6 81.5,18.1 82.5,18.1 82.5,13.7 83.5,13.7 83.5,9.1 84.5,9.1 84.5,5.6 85.5,5.6 85.5,3.7 86.5,3.7 86.5,3.9 87.5,3.9 87.5,4.3 88.5,4.3 88.5,4.4 89.5,4.4 89.5,4.3 90.5,4.3 90.5,4.1 91.5,4.1 91.5,4.0 92.5,4.0 92.5,4.0 93.5,4.0 93.5,4.0 94.5,4.0 94.5,9.4 95.5,9.4 95.5,14.1 96.5,14.1 96.5,17.7 97.5,17.7 97.5,21.3 98.5,21.3 98.5,24.9 99.5,24.9 99.5,28.4 100.5,28.4 100.5,31.8 101.5,31.8 101.5,35.3 102.5,35.3 102.5,39.8 103.5,39.8 103.5,48.7 104.5,48.7 104.5,57.7 105.5,57.7 105.5,63.9 106.5,63.9 106.5,70.7 107.5,70.7 107.5,79.7 108.5,79.7 108.5,85.2 109.5,85.2 109.5,89.1 110.5,89.1 110.5,93.0 111.5,93.0 111.5,96.8 112.5,96.8 112.5,100.5 113.5,100.5 113.5,104.2 114.5,104.2 114.5,107.8 115.5,107.8 115.5,111.3 116.5,111.3 116.5,114.5 117.5,114.5 117.5,117.8 118.5,117.8 118.5,121.1 119.5,121.1 119.5,124.3 120.5,124.3 120.5,127.0 121.5,127.0 121.5,129.5 122.5,129.5 122.5,132.0 123.5,132.0 123.5,133.9 124.5,133.9 124.5,135.3 125.5,135.3 125.5,136.7 126.5,136.7 126.5,138.2 127.5,138.2 127.5,138.8 128.5,138.8 128.5,139.1 129.5,139.1 129.5,139.4 130.5,139.4" fill="none" stroke="#1c1c1c" stroke-width="0.85" stroke-linejoin="miter"/>
<line x1="27.9" y1="3.3" x2="242.6" y2="3.3" stroke="#363636" stroke-width="1.4"/>
<line x1="28.4" y1="2.8" x2="28.4" y2="139.1" stroke="#3a3a3a" stroke-width="1.9"/>
<line x1="242.6" y1="2.5999999999999996" x2="242.6" y2="140.1" stroke="#080808" stroke-width="2.1"/>
<line x1="27.599999999999998" y1="139.1" x2="243.6" y2="139.1" stroke="#080808" stroke-width="1.8"/>
<path d="M26.2 20.3H28.4 M26.2 37.2H28.4 M26.2 54.2H28.4 M26.2 71.2H28.4 M26.2 88.2H28.4 M26.2 105.1H28.4 M26.2 122.1H28.4 M26.2 139.1H28.4 M28.4 139.1V143.9 M44.5 139.1V142.7 M53.9 139.1V142.7 M60.6 139.1V142.7 M65.8 139.1V142.7 M70.1 139.1V142.7 M73.7 139.1V142.7 M76.8 139.1V142.7 M79.5 139.1V142.7 M81.9 139.1V143.9 M98.1 139.1V142.7 M107.5 139.1V142.7 M114.2 139.1V142.7 M119.4 139.1V142.7 M123.6 139.1V142.7 M127.2 139.1V142.7 M130.3 139.1V142.7 M133.0 139.1V142.7 M135.5 139.1V143.9 M151.6 139.1V142.7 M161.0 139.1V142.7 M167.7 139.1V142.7 M172.9 139.1V142.7 M177.2 139.1V142.7 M180.8 139.1V142.7 M183.9 139.1V142.7 M186.6 139.1V142.7 M189.0 139.1V143.9 M205.2 139.1V142.7 M214.6 139.1V142.7 M221.3 139.1V142.7 M226.5 139.1V142.7 M230.7 139.1V142.7 M234.3 139.1V142.7 M237.4 139.1V142.7 M240.1 139.1V142.7 M242.6 139.1V143.9" stroke="#111" stroke-width="1.35" fill="none"/>
<line x1="122" y1="106.1" x2="239.6" y2="106.1" stroke="#222" stroke-width="1.3"/>
<text x="0" y="0" transform="translate(132.0,122.6) scale(1.1,1)" font-family="Liberation Sans, sans-serif" font-size="11.5" letter-spacing="0.25" fill="#1a1a1a" stroke="#1a1a1a" stroke-width="0.15">0.41<tspan dx="1.6">%</tspan></text>
<text x="102.0" y="165.7" font-family="Liberation Serif, serif" font-size="17.8" fill="#000">CD45 FITC</text>
<text transform="translate(21.9,9.2) rotate(-90)" text-anchor="middle" font-family="Liberation Serif, serif" font-size="17.8" fill="#000">39</text>
<text transform="translate(17.4,77.5) rotate(-90)" text-anchor="middle" font-family="Liberation Serif, serif" font-size="17.8" fill="#000">Events</text>
<text transform="translate(21.6,140.0) rotate(-90)" text-anchor="middle" font-family="Liberation Serif, serif" font-size="17.8" fill="#000">0</text>
<polygon points="326.5,138.5 327.5,138.5 327.5,138.0 328.5,138.0 328.5,137.3 329.5,137.3 329.5,136.6 330.5,136.6 330.5,135.9 331.5,135.9 331.5,135.1 332.5,135.1 332.5,134.4 333.5,134.4 333.5,133.7 334.5,133.7 334.5,133.0 335.5,133.0 335.5,132.3 336.5,132.3 336.5,131.1 337.5,131.1 337.5,128.2 338.5,128.2 338.5,125.2 339.5,125.2 339.5,122.2 340.5,122.2 340.5,119.3 341.5,119.3 341.5,115.9 342.5,115.9 342.5,111.8 343.5,111.8 343.5,107.7 344.5,107.7 344.5,103.7 345.5,103.7 345.5,99.6 346.5,99.6 346.5,95.1 347.5,95.1 347.5,90.3 348.5,90.3 348.5,85.6 349.5,85.6 349.5,80.8 350.5,80.8 350.5,74.4 351.5,74.4 351.5,67.2 352.5,67.2 352.5,60.1 353.5,60.1 353.5,52.9 354.5,52.9 354.5,46.0 355.5,46.0 355.5,39.0 356.5,39.0 356.5,32.1 357.5,32.1 357.5,25.2 358.5,25.2 358.5,20.2 359.5,20.2 359.5,15.8 360.5,15.8 360.5,11.3 361.5,11.3 361.5,8.5 362.5,8.5 362.5,6.9 363.5,6.9 363.5,5.4 364.5,5.4 364.5,4.4 365.5,4.4 365.5,3.4 366.5,3.4 366.5,4.3 367.5,4.3 367.5,5.6 368.5,5.6 368.5,8.5 369.5,8.5 369.5,12.9 370.5,12.9 370.5,17.2 371.5,17.2 371.5,21.6 372.5,21.6 372.5,23.8 373.5,23.8 373.5,35.0 374.5,35.0 374.5,42.4 375.5,42.4 375.5,49.7 376.5,49.7 376.5,56.6 377.5,56.6 377.5,63.5 378.5,63.5 378.5,71.4 379.5,71.4 379.5,79.4 380.5,79.4 380.5,87.3 381.5,87.3 381.5,91.6 382.5,91.6 382.5,94.9 383.5,94.9 383.5,98.2 384.5,98.2 384.5,101.5 385.5,101.5 385.5,104.8 386.5,104.8 386.5,109.2 387.5,109.2 387.5,113.7 388.5,113.7 388.5,118.1 389.5,118.1 389.5,121.2 390.5,121.2 390.5,124.0 391.5,124.0 391.5,126.8 392.5,126.8 392.5,128.8 393.5,128.8 393.5,130.5 394.5,130.5 394.5,132.2 395.5,132.2 395.5,133.4 396.5,133.4 396.5,134.3 397.5,134.3 397.5,135.1 398.5,135.1 398.5,136.0 399.5,136.0 399.5,136.9 400.5,136.9 400.5,137.7 401.5,137.7 401.5,138.5 402.5,138.5" fill="#fefcf8"/>
<polygon points="328.5,138.9 328.5,138.4 329.5,138.4 329.5,137.5 330.5,137.5 330.5,136.6 331.5,136.6 331.5,135.7 332.5,135.7 332.5,134.8 333.5,134.8 333.5,133.9 334.5,133.9 334.5,133.0 335.5,133.0 335.5,132.1 336.5,132.1 336.5,131.3 337.5,131.3 337.5,130.4 338.5,130.4 338.5,127.6 339.5,127.6 339.5,123.5 340.5,123.5 340.5,119.5 341.5,119.5 341.5,115.4 342.5,115.4 342.5,111.4 343.5,111.4 343.5,106.9 344.5,106.9 344.5,102.3 345.5,102.3 345.5,97.6 346.5,97.6 346.5,93.0 347.5,93.0 347.5,87.7 348.5,87.7 348.5,69.8 349.5,69.8 349.5,67.5 350.5,67.5 350.5,62.9 351.5,62.9 351.5,58.2 352.5,58.2 352.5,53.6 353.5,53.6 353.5,49.0 354.5,49.0 354.5,43.3 355.5,43.3 355.5,37.3 356.5,37.3 356.5,31.2 357.5,31.2 357.5,25.1 358.5,25.1 358.5,19.0 359.5,19.0 359.5,16.0 360.5,16.0 360.5,13.1 361.5,13.1 361.5,10.1 362.5,10.1 362.5,7.2 363.5,7.2 363.5,4.7 364.5,4.7 364.5,4.4 365.5,4.4 365.5,4.1 366.5,4.1 366.5,3.7 367.5,3.7 367.5,3.4 368.5,3.4 368.5,5.2 369.5,5.2 369.5,9.2 370.5,9.2 370.5,13.1 371.5,13.1 371.5,17.7 372.5,17.7 372.5,23.6 373.5,23.6 373.5,29.6 374.5,29.6 374.5,35.5 375.5,35.5 375.5,41.4 376.5,41.4 376.5,47.1 377.5,47.1 377.5,52.5 378.5,52.5 378.5,57.9 379.5,57.9 379.5,63.3 380.5,63.3 380.5,68.7 381.5,68.7 381.5,71.9 382.5,71.9 382.5,74.6 383.5,74.6 383.5,77.2 384.5,77.2 384.5,79.9 385.5,79.9 385.5,82.5 386.5,82.5 386.5,87.5 387.5,87.5 387.5,92.4 388.5,92.4 388.5,97.4 389.5,97.4 389.5,103.5 390.5,103.5 390.5,109.8 391.5,109.8 391.5,116.1 392.5,116.1 392.5,119.1 393.5,119.1 393.5,120.6 394.5,120.6 394.5,122.3 395.5,122.3 395.5,124.1 396.5,124.1 396.5,125.8 397.5,125.8 397.5,126.0 398.5,126.0 398.5,126.0 399.5,126.0 399.5,126.0 400.5,126.0 400.5,126.0 401.5,126.0 401.5,126.1 402.5,126.1 402.5,127.1 403.5,127.1 403.5,128.1 404.5,128.1 404.5,129.1 405.5,129.1 405.5,130.2 406.5,130.2 406.5,131.2 407.5,131.2 407.5,132.2 408.5,132.2 408.5,132.8 409.5,132.8 409.5,133.3 410.5,133.3 410.5,133.8 411.5,133.8 411.5,134.3 412.5,134.3 412.5,134.7 413.5,134.7 413.5,135.2 414.5,135.2 414.5,135.7 415.5,135.7 415.5,136.2 416.5,136.2 416.5,136.7 417.5,136.7 417.5,137.1 418.5,137.1 418.5,137.6 419.5,137.6 419.5,138.0 420.5,138.0 420.5,138.5 421.5,138.5 421.5,138.9" fill="#d6d4d8"/>
<polygon points="328.5,138.9 328.5,138.4 329.5,138.4 329.5,137.5 330.5,137.5 330.5,136.6 331.5,136.6 331.5,135.7 332.5,135.7 332.5,134.8 333.5,134.8 333.5,133.9 334.5,133.9 334.5,133.0 335.5,133.0 335.5,132.1 336.5,132.1 336.5,131.3 337.5,131.3 337.5,130.4 338.5,130.4 338.5,127.6 339.5,127.6 339.5,123.5 340.5,123.5 340.5,119.5 341.5,119.5 341.5,115.4 342.5,115.4 342.5,111.4 343.5,111.4 343.5,106.9 344.5,106.9 344.5,102.3 345.5,102.3 345.5,97.6 346.5,97.6 346.5,93.0 347.5,93.0 347.5,87.7 348.5,87.7 348.5,69.8 349.5,69.8 349.5,67.5 350.5,67.5 350.5,62.9 351.5,62.9 351.5,58.2 352.5,58.2 352.5,53.6 353.5,53.6 353.5,49.0 354.5,49.0 354.5,43.3 355.5,43.3 355.5,37.3 356.5,37.3 356.5,31.2 357.5,31.2 357.5,25.1 358.5,25.1 358.5,19.0 359.5,19.0 359.5,16.0 360.5,16.0 360.5,13.1 361.5,13.1 361.5,10.1 362.5,10.1 362.5,7.2 363.5,7.2 363.5,4.7 364.5,4.7 364.5,4.4 365.5,4.4 365.5,4.1 366.5,4.1 366.5,3.7 367.5,3.7 367.5,3.4 368.5,3.4 368.5,5.2 369.5,5.2 369.5,9.2 370.5,9.2 370.5,13.1 371.5,13.1 371.5,17.7 372.5,17.7 372.5,23.6 373.5,23.6 373.5,29.6 374.5,29.6 374.5,35.5 375.5,35.5 375.5,41.4 376.5,41.4 376.5,47.1 377.5,47.1 377.5,52.5 378.5,52.5 378.5,57.9 379.5,57.9 379.5,63.3 380.5,63.3 380.5,68.7 381.5,68.7 381.5,71.9 382.5,71.9 382.5,74.6 383.5,74.6 383.5,77.2 384.5,77.2 384.5,79.9 385.5,79.9 385.5,82.5 386.5,82.5 386.5,87.5 387.5,87.5 387.5,92.4 388.5,92.4 388.5,97.4 389.5,97.4 389.5,103.5 390.5,103.5 390.5,109.8 391.5,109.8 391.5,116.1 392.5,116.1 392.5,119.1 393.5,119.1 393.5,120.6 394.5,120.6 394.5,122.3 395.5,122.3 395.5,124.1 396.5,124.1 396.5,125.8 397.5,125.8 397.5,126.0 398.5,126.0 398.5,126.0 399.5,126.0 399.5,126.0 400.5,126.0 400.5,126.0 401.5,126.0 401.5,126.1 402.5,126.1 402.5,127.1 403.5,127.1 403.5,128.1 404.5,128.1 404.5,129.1 405.5,129.1 405.5,130.2 406.5,130.2 406.5,131.2 407.5,131.2 407.5,132.2 408.5,132.2 408.5,132.8 409.5,132.8 409.5,133.3 410.5,133.3 410.5,133.8 411.5,133.8 411.5,134.3 412.5,134.3 412.5,134.7 413.5,134.7 413.5,135.2 414.5,135.2 414.5,135.7 415.5,135.7 415.5,136.2 416.5,136.2 416.5,136.7 417.5,136.7 417.5,137.1 418.5,137.1 418.5,137.6 419.5,137.6 419.5,138.0 420.5,138.0 420.5,138.5 421.5,138.5 421.5,138.9" fill="#d7d4cf" clip-path="url(#c1)"/>
<polyline points="328.5,138.4 329.5,138.4 329.5,137.5 330.5,137.5 330.5,136.6 331.5,136.6 331.5,135.7 332.5,135.7 332.5,134.8 333.5,134.8 333.5,133.9 334.5,133.9 334.5,133.0 335.5,133.0 335.5,132.1 336.5,132.1 336.5,131.3 337.5,131.3 337.5,130.4 338.5,130.4 338.5,127.6 339.5,127.6 339.5,123.5 340.5,123.5 340.5,119.5 341.5,119.5 341.5,115.4 342.5,115.4 342.5,111.4 343.5,111.4 343.5,106.9 344.5,106.9 344.5,102.3 345.5,102.3 345.5,97.6 346.5,97.6 346.5,93.0 347.5,93.0 347.5,87.7 348.5,87.7 348.5,69.8 349.5,69.8 349.5,67.5 350.5,67.5 350.5,62.9 351.5,62.9 351.5,58.2 352.5,58.2 352.5,53.6 353.5,53.6 353.5,49.0 354.5,49.0 354.5,43.3 355.5,43.3 355.5,37.3 356.5,37.3 356.5,31.2 357.5,31.2 357.5,25.1 358.5,25.1 358.5,19.0 359.5,19.0 359.5,16.0 360.5,16.0 360.5,13.1 361.5,13.1 361.5,10.1 362.5,10.1 362.5,7.2 363.5,7.2 363.5,4.7 364.5,4.7 364.5,4.4 365.5,4.4 365.5,4.1 366.5,4.1 366.5,3.7 367.5,3.7 367.5,3.4 368.5,3.4 368.5,5.2 369.5,5.2 369.5,9.2 370.5,9.2 370.5,13.1 371.5,13.1 371.5,17.7 372.5,17.7 372.5,23.6 373.5,23.6 373.5,29.6 374.5,29.6 374.5,35.5 375.5,35.5 375.5,41.4 376.5,41.4 376.5,47.1 377.5,47.1 377.5,52.5 378.5,52.5 378.5,57.9 379.5,57.9 379.5,63.3 380.5,63.3 380.5,68.7 381.5,68.7 381.5,71.9 382.5,71.9 382.5,74.6 383.5,74.6 383.5,77.2 384.5,77.2 384.5,79.9 385.5,79.9 385.5,82.5 386.5,82.5 386.5,87.5 387.5,87.5 387.5,92.4 388.5,92.4 388.5,97.4 389.5,97.4 389.5,103.5 390.5,103.5 390.5,109.8 391.5,109.8 391.5,116.1 392.5,116.1 392.5,119.1 393.5,119.1 393.5,120.6 394.5,120.6 394.5,122.3 395.5,122.3 395.5,124.1 396.5,124.1 396.5,125.8 397.5,125.8 397.5,126.0 398.5,126.0 398.5,126.0 399.5,126.0 399.5,126.0 400.5,126.0 400.5,126.0 401.5,126.0 401.5,126.1 402.5,126.1 402.5,127.1 403.5,127.1 403.5,128.1 404.5,128.1 404.5,129.1 405.5,129.1 405.5,130.2 406.5,130.2 406.5,131.2 407.5,131.2 407.5,132.2 408.5,132.2 408.5,132.8 409.5,132.8 409.5,133.3 410.5,133.3 410.5,133.8 411.5,133.8 411.5,134.3 412.5,134.3 412.5,134.7 413.5,134.7 413.5,135.2 414.5,135.2 414.5,135.7 415.5,135.7 415.5,136.2 416.5,136.2 416.5,136.7 417.5,136.7 417.5,137.1 418.5,137.1 418.5,137.6 419.5,137.6 419.5,138.0 420.5,138.0 420.5,138.5 421.5,138.5" fill="none" stroke="#7a7a7a" stroke-width="0.9" stroke-linejoin="miter"/>
<polyline points="326.5,138.5 327.5,138.5 327.5,138.0 328.5,138.0 328.5,137.3 329.5,137.3 329.5,136.6 330.5,136.6 330.5,135.9 331.5,135.9 331.5,135.1 332.5,135.1 332.5,134.4 333.5,134.4 333.5,133.7 334.5,133.7 334.5,133.0 335.5,133.0 335.5,132.3 336.5,132.3 336.5,131.1 337.5,131.1 337.5,128.2 338.5,128.2 338.5,125.2 339.5,125.2 339.5,122.2 340.5,122.2 340.5,119.3 341.5,119.3 341.5,115.9 342.5,115.9 342.5,111.8 343.5,111.8 343.5,107.7 344.5,107.7 344.5,103.7 345.5,103.7 345.5,99.6 346.5,99.6 346.5,95.1 347.5,95.1 347.5,90.3 348.5,90.3 348.5,85.6 349.5,85.6 349.5,80.8 350.5,80.8 350.5,74.4 351.5,74.4 351.5,67.2 352.5,67.2 352.5,60.1 353.5,60.1 353.5,52.9 354.5,52.9 354.5,46.0 355.5,46.0 355.5,39.0 356.5,39.0 356.5,32.1 357.5,32.1 357.5,25.2 358.5,25.2 358.5,20.2 359.5,20.2 359.5,15.8 360.5,15.8 360.5,11.3 361.5,11.3 361.5,8.5 362.5,8.5 362.5,6.9 363.5,6.9 363.5,5.4 364.5,5.4 364.5,4.4 365.5,4.4 365.5,3.4 366.5,3.4 366.5,4.3 367.5,4.3 367.5,5.6 368.5,5.6 368.5,8.5 369.5,8.5 369.5,12.9 370.5,12.9 370.5,17.2 371.5,17.2 371.5,21.6 372.5,21.6 372.5,23.8 373.5,23.8 373.5,35.0 374.5,35.0 374.5,42.4 375.5,42.4 375.5,49.7 376.5,49.7 376.5,56.6 377.5,56.6 377.5,63.5 378.5,63.5 378.5,71.4 379.5,71.4 379.5,79.4 380.5,79.4 380.5,87.3 381.5,87.3 381.5,91.6 382.5,91.6 382.5,94.9 383.5,94.9 383.5,98.2 384.5,98.2 384.5,101.5 385.5,101.5 385.5,104.8 386.5,104.8 386.5,109.2 387.5,109.2 387.5,113.7 388.5,113.7 388.5,118.1 389.5,118.1 389.5,121.2 390.5,121.2 390.5,124.0 391.5,124.0 391.5,126.8 392.5,126.8 392.5,128.8 393.5,128.8 393.5,130.5 394.5,130.5 394.5,132.2 395.5,132.2 395.5,133.4 396.5,133.4 396.5,134.3 397.5,134.3 397.5,135.1 398.5,135.1 398.5,136.0 399.5,136.0 399.5,136.9 400.5,136.9 400.5,137.7 401.5,137.7 401.5,138.5 402.5,138.5" fill="none" stroke="#1c1c1c" stroke-width="0.85" stroke-linejoin="miter"/>
<line x1="287.5" y1="2.5" x2="500.5" y2="2.5" stroke="#363636" stroke-width="1.4"/>
<line x1="288" y1="2.0" x2="288" y2="138.9" stroke="#3a3a3a" stroke-width="1.9"/>
<line x1="500.5" y1="1.8" x2="500.5" y2="139.9" stroke="#080808" stroke-width="2.1"/>
<line x1="287.2" y1="138.9" x2="501.5" y2="138.9" stroke="#080808" stroke-width="1.8"/>
<path d="M285.8 19.6H288 M285.8 36.6H288 M285.8 53.7H288 M285.8 70.7H288 M285.8 87.8H288 M285.8 104.8H288 M285.8 121.9H288 M285.8 138.9H288 M288.0 138.9V143.7 M304.0 138.9V142.5 M313.3 138.9V142.5 M320.0 138.9V142.5 M325.1 138.9V142.5 M329.3 138.9V142.5 M332.9 138.9V142.5 M336.0 138.9V142.5 M338.7 138.9V142.5 M341.1 138.9V143.7 M357.1 138.9V142.5 M366.5 138.9V142.5 M373.1 138.9V142.5 M378.3 138.9V142.5 M382.5 138.9V142.5 M386.0 138.9V142.5 M389.1 138.9V142.5 M391.8 138.9V142.5 M394.2 138.9V143.7 M410.2 138.9V142.5 M419.6 138.9V142.5 M426.2 138.9V142.5 M431.4 138.9V142.5 M435.6 138.9V142.5 M439.1 138.9V142.5 M442.2 138.9V142.5 M444.9 138.9V142.5 M447.4 138.9V143.7 M463.4 138.9V142.5 M472.7 138.9V142.5 M479.4 138.9V142.5 M484.5 138.9V142.5 M488.7 138.9V142.5 M492.3 138.9V142.5 M495.4 138.9V142.5 M498.1 138.9V142.5 M500.5 138.9V143.7" stroke="#111" stroke-width="1.35" fill="none"/>
<line x1="390" y1="103.3" x2="496.3" y2="103.3" stroke="#222" stroke-width="1.3"/>
<text x="0" y="0" transform="translate(400.4,120.0) scale(1.1,1)" font-family="Liberation Sans, sans-serif" font-size="11.5" letter-spacing="0.25" fill="#1a1a1a" stroke="#1a1a1a" stroke-width="0.15">7.43<tspan dx="1.6">%</tspan></text>
<text x="359.0" y="166.9" font-family="Liberation Serif, serif" font-size="17.8" fill="#000">CD34 PE</text>
<text transform="translate(279.3,9.2) rotate(-90)" text-anchor="middle" font-family="Liberation Serif, serif" font-size="17.8" fill="#000">60</text>
<text transform="translate(274.8,78.3) rotate(-90)" text-anchor="middle" font-family="Liberation Serif, serif" font-size="17.8" fill="#000">Events</text>
<text transform="translate(278.8,140.0) rotate(-90)" text-anchor="middle" font-family="Liberation Serif, serif" font-size="17.8" fill="#000">0</text>
<polygon points="582.5,137.3 583.5,137.3 583.5,136.3 584.5,136.3 584.5,135.2 585.5,135.2 585.5,134.2 586.5,134.2 586.5,133.1 587.5,133.1 587.5,132.1 588.5,132.1 588.5,131.0 589.5,131.0 589.5,129.8 590.5,129.8 590.5,128.6 591.5,128.6 591.5,127.4 592.5,127.4 592.5,124.2 593.5,124.2 593.5,120.3 594.5,120.3 594.5,116.3 595.5,116.3 595.5,111.8 596.5,111.8 596.5,106.8 597.5,106.8 597.5,101.9 598.5,101.9 598.5,97.1 599.5,97.1 599.5,92.6 600.5,92.6 600.5,88.1 601.5,88.1 601.5,83.5 602.5,83.5 602.5,77.5 603.5,77.5 603.5,71.6 604.5,71.6 604.5,63.0 605.5,63.0 605.5,53.4 606.5,53.4 606.5,45.0 607.5,45.0 607.5,38.6 608.5,38.6 608.5,32.1 609.5,32.1 609.5,25.9 610.5,25.9 610.5,20.6 611.5,20.6 611.5,15.4 612.5,15.4 612.5,11.6 613.5,11.6 613.5,8.3 614.5,8.3 614.5,5.7 615.5,5.7 615.5,4.0 616.5,4.0 616.5,2.4 617.5,2.4 617.5,2.4 618.5,2.4 618.5,2.4 619.5,2.4 619.5,2.4 620.5,2.4 620.5,6.9 621.5,6.9 621.5,11.8 622.5,11.8 622.5,16.6 623.5,16.6 623.5,21.2 624.5,21.2 624.5,26.1 625.5,26.1 625.5,33.4 626.5,33.4 626.5,40.7 627.5,40.7 627.5,48.9 628.5,48.9 628.5,57.5 629.5,57.5 629.5,65.6 630.5,65.6 630.5,72.5 631.5,72.5 631.5,79.4 632.5,79.4 632.5,85.4 633.5,85.4 633.5,91.3 634.5,91.3 634.5,95.8 635.5,95.8 635.5,99.2 636.5,99.2 636.5,102.7 637.5,102.7 637.5,106.4 638.5,106.4 638.5,110.4 639.5,110.4 639.5,114.3 640.5,114.3 640.5,117.9 641.5,117.9 641.5,119.9 642.5,119.9 642.5,121.8 643.5,121.8 643.5,123.8 644.5,123.8 644.5,126.3 645.5,126.3 645.5,128.9 646.5,128.9 646.5,131.4 647.5,131.4 647.5,132.1 648.5,132.1 648.5,132.6 649.5,132.6 649.5,133.1 650.5,133.1 650.5,133.6 651.5,133.6 651.5,134.1 652.5,134.1 652.5,135.2 653.5,135.2 653.5,136.4 654.5,136.4 654.5,137.5 655.5,137.5" fill="#fefcf8"/>
<polygon points="653.5,138.0 653.5,136.9 654.5,136.9 654.5,135.6 655.5,135.6 655.5,134.4 656.5,134.4 656.5,133.2 657.5,133.2 657.5,131.9 658.5,131.9 658.5,130.9 659.5,130.9 659.5,129.9 660.5,129.9 660.5,129.0 661.5,129.0 661.5,128.0 662.5,128.0 662.5,127.0 663.5,127.0 663.5,125.0 664.5,125.0 664.5,123.0 665.5,123.0 665.5,120.9 666.5,120.9 666.5,118.9 667.5,118.9 667.5,116.6 668.5,116.6 668.5,113.6 669.5,113.6 669.5,110.7 670.5,110.7 670.5,107.6 671.5,107.6 671.5,103.1 672.5,103.1 672.5,98.6 673.5,98.6 673.5,94.1 674.5,94.1 674.5,88.3 675.5,88.3 675.5,82.4 676.5,82.4 676.5,76.1 677.5,76.1 677.5,69.5 678.5,69.5 678.5,62.9 679.5,62.9 679.5,56.7 680.5,56.7 680.5,50.4 681.5,50.4 681.5,43.4 682.5,43.4 682.5,36.1 683.5,36.1 683.5,29.1 684.5,29.1 684.5,22.5 685.5,22.5 685.5,15.9 686.5,15.9 686.5,10.3 687.5,10.3 687.5,4.6 688.5,4.6 688.5,2.4 689.5,2.4 689.5,2.4 690.5,2.4 690.5,3.3 691.5,3.3 691.5,8.1 692.5,8.1 692.5,6.4 693.5,6.4 693.5,3.0 694.5,3.0 694.5,8.6 695.5,8.6 695.5,14.2 696.5,14.2 696.5,20.4 697.5,20.4 697.5,26.8 698.5,26.8 698.5,33.3 699.5,33.3 699.5,39.5 700.5,39.5 700.5,45.5 701.5,45.5 701.5,51.4 702.5,51.4 702.5,57.1 703.5,57.1 703.5,62.2 704.5,62.2 704.5,67.3 705.5,67.3 705.5,72.5 706.5,72.5 706.5,78.0 707.5,78.0 707.5,83.4 708.5,83.4 708.5,88.9 709.5,88.9 709.5,94.2 710.5,94.2 710.5,99.5 711.5,99.5 711.5,104.0 712.5,104.0 712.5,107.9 713.5,107.9 713.5,111.9 714.5,111.9 714.5,115.3 715.5,115.3 715.5,117.7 716.5,117.7 716.5,120.1 717.5,120.1 717.5,122.6 718.5,122.6 718.5,124.2 719.5,124.2 719.5,125.0 720.5,125.0 720.5,125.8 721.5,125.8 721.5,126.6 722.5,126.6 722.5,127.6 723.5,127.6 723.5,128.8 724.5,128.8 724.5,129.9 725.5,129.9 725.5,131.1 726.5,131.1 726.5,132.4 727.5,132.4 727.5,133.9 728.5,133.9 728.5,135.4 729.5,135.4 729.5,136.9 730.5,136.9 730.5,138.0" fill="#d6d4d8"/>
<polygon points="653.5,138.0 653.5,136.9 654.5,136.9 654.5,135.6 655.5,135.6 655.5,134.4 656.5,134.4 656.5,133.2 657.5,133.2 657.5,131.9 658.5,131.9 658.5,130.9 659.5,130.9 659.5,129.9 660.5,129.9 660.5,129.0 661.5,129.0 661.5,128.0 662.5,128.0 662.5,127.0 663.5,127.0 663.5,125.0 664.5,125.0 664.5,123.0 665.5,123.0 665.5,120.9 666.5,120.9 666.5,118.9 667.5,118.9 667.5,116.6 668.5,116.6 668.5,113.6 669.5,113.6 669.5,110.7 670.5,110.7 670.5,107.6 671.5,107.6 671.5,103.1 672.5,103.1 672.5,98.6 673.5,98.6 673.5,94.1 674.5,94.1 674.5,88.3 675.5,88.3 675.5,82.4 676.5,82.4 676.5,76.1 677.5,76.1 677.5,69.5 678.5,69.5 678.5,62.9 679.5,62.9 679.5,56.7 680.5,56.7 680.5,50.4 681.5,50.4 681.5,43.4 682.5,43.4 682.5,36.1 683.5,36.1 683.5,29.1 684.5,29.1 684.5,22.5 685.5,22.5 685.5,15.9 686.5,15.9 686.5,10.3 687.5,10.3 687.5,4.6 688.5,4.6 688.5,2.4 689.5,2.4 689.5,2.4 690.5,2.4 690.5,3.3 691.5,3.3 691.5,8.1 692.5,8.1 692.5,6.4 693.5,6.4 693.5,3.0 694.5,3.0 694.5,8.6 695.5,8.6 695.5,14.2 696.5,14.2 696.5,20.4 697.5,20.4 697.5,26.8 698.5,26.8 698.5,33.3 699.5,33.3 699.5,39.5 700.5,39.5 700.5,45.5 701.5,45.5 701.5,51.4 702.5,51.4 702.5,57.1 703.5,57.1 703.5,62.2 704.5,62.2 704.5,67.3 705.5,67.3 705.5,72.5 706.5,72.5 706.5,78.0 707.5,78.0 707.5,83.4 708.5,83.4 708.5,88.9 709.5,88.9 709.5,94.2 710.5,94.2 710.5,99.5 711.5,99.5 711.5,104.0 712.5,104.0 712.5,107.9 713.5,107.9 713.5,111.9 714.5,111.9 714.5,115.3 715.5,115.3 715.5,117.7 716.5,117.7 716.5,120.1 717.5,120.1 717.5,122.6 718.5,122.6 718.5,124.2 719.5,124.2 719.5,125.0 720.5,125.0 720.5,125.8 721.5,125.8 721.5,126.6 722.5,126.6 722.5,127.6 723.5,127.6 723.5,128.8 724.5,128.8 724.5,129.9 725.5,129.9 725.5,131.1 726.5,131.1 726.5,132.4 727.5,132.4 727.5,133.9 728.5,133.9 728.5,135.4 729.5,135.4 729.5,136.9 730.5,136.9 730.5,138.0" fill="#d7d4cf" clip-path="url(#c2)"/>
<polyline points="653.5,136.9 654.5,136.9 654.5,135.6 655.5,135.6 655.5,134.4 656.5,134.4 656.5,133.2 657.5,133.2 657.5,131.9 658.5,131.9 658.5,130.9 659.5,130.9 659.5,129.9 660.5,129.9 660.5,129.0 661.5,129.0 661.5,128.0 662.5,128.0 662.5,127.0 663.5,127.0 663.5,125.0 664.5,125.0 664.5,123.0 665.5,123.0 665.5,120.9 666.5,120.9 666.5,118.9 667.5,118.9 667.5,116.6 668.5,116.6 668.5,113.6 669.5,113.6 669.5,110.7 670.5,110.7 670.5,107.6 671.5,107.6 671.5,103.1 672.5,103.1 672.5,98.6 673.5,98.6 673.5,94.1 674.5,94.1 674.5,88.3 675.5,88.3 675.5,82.4 676.5,82.4 676.5,76.1 677.5,76.1 677.5,69.5 678.5,69.5 678.5,62.9 679.5,62.9 679.5,56.7 680.5,56.7 680.5,50.4 681.5,50.4 681.5,43.4 682.5,43.4 682.5,36.1 683.5,36.1 683.5,29.1 684.5,29.1 684.5,22.5 685.5,22.5 685.5,15.9 686.5,15.9 686.5,10.3 687.5,10.3 687.5,4.6 688.5,4.6 688.5,2.4 689.5,2.4 689.5,2.4 690.5,2.4 690.5,3.3 691.5,3.3 691.5,8.1 692.5,8.1 692.5,6.4 693.5,6.4 693.5,3.0 694.5,3.0 694.5,8.6 695.5,8.6 695.5,14.2 696.5,14.2 696.5,20.4 697.5,20.4 697.5,26.8 698.5,26.8 698.5,33.3 699.5,33.3 699.5,39.5 700.5,39.5 700.5,45.5 701.5,45.5 701.5,51.4 702.5,51.4 702.5,57.1 703.5,57.1 703.5,62.2 704.5,62.2 704.5,67.3 705.5,67.3 705.5,72.5 706.5,72.5 706.5,78.0 707.5,78.0 707.5,83.4 708.5,83.4 708.5,88.9 709.5,88.9 709.5,94.2 710.5,94.2 710.5,99.5 711.5,99.5 711.5,104.0 712.5,104.0 712.5,107.9 713.5,107.9 713.5,111.9 714.5,111.9 714.5,115.3 715.5,115.3 715.5,117.7 716.5,117.7 716.5,120.1 717.5,120.1 717.5,122.6 718.5,122.6 718.5,124.2 719.5,124.2 719.5,125.0 720.5,125.0 720.5,125.8 721.5,125.8 721.5,126.6 722.5,126.6 722.5,127.6 723.5,127.6 723.5,128.8 724.5,128.8 724.5,129.9 725.5,129.9 725.5,131.1 726.5,131.1 726.5,132.4 727.5,132.4 727.5,133.9 728.5,133.9 728.5,135.4 729.5,135.4 729.5,136.9 730.5,136.9" fill="none" stroke="#7a7a7a" stroke-width="0.9" stroke-linejoin="miter"/>
<rect x="539" y="0" width="217" height="1.0" fill="#a8a8a8"/>
<polyline points="582.5,137.3 583.5,137.3 583.5,136.3 584.5,136.3 584.5,135.2 585.5,135.2 585.5,134.2 586.5,134.2 586.5,133.1 587.5,133.1 587.5,132.1 588.5,132.1 588.5,131.0 589.5,131.0 589.5,129.8 590.5,129.8 590.5,128.6 591.5,128.6 591.5,127.4 592.5,127.4 592.5,124.2 593.5,124.2 593.5,120.3 594.5,120.3 594.5,116.3 595.5,116.3 595.5,111.8 596.5,111.8 596.5,106.8 597.5,106.8 597.5,101.9 598.5,101.9 598.5,97.1 599.5,97.1 599.5,92.6 600.5,92.6 600.5,88.1 601.5,88.1 601.5,83.5 602.5,83.5 602.5,77.5 603.5,77.5 603.5,71.6 604.5,71.6 604.5,63.0 605.5,63.0 605.5,53.4 606.5,53.4 606.5,45.0 607.5,45.0 607.5,38.6 608.5,38.6 608.5,32.1 609.5,32.1 609.5,25.9 610.5,25.9 610.5,20.6 611.5,20.6 611.5,15.4 612.5,15.4 612.5,11.6 613.5,11.6 613.5,8.3 614.5,8.3 614.5,5.7 615.5,5.7 615.5,4.0 616.5,4.0 616.5,2.4 617.5,2.4 617.5,2.4 618.5,2.4 618.5,2.4 619.5,2.4 619.5,2.4 620.5,2.4 620.5,6.9 621.5,6.9 621.5,11.8 622.5,11.8 622.5,16.6 623.5,16.6 623.5,21.2 624.5,21.2 624.5,26.1 625.5,26.1 625.5,33.4 626.5,33.4 626.5,40.7 627.5,40.7 627.5,48.9 628.5,48.9 628.5,57.5 629.5,57.5 629.5,65.6 630.5,65.6 630.5,72.5 631.5,72.5 631.5,79.4 632.5,79.4 632.5,85.4 633.5,85.4 633.5,91.3 634.5,91.3 634.5,95.8 635.5,95.8 635.5,99.2 636.5,99.2 636.5,102.7 637.5,102.7 637.5,106.4 638.5,106.4 638.5,110.4 639.5,110.4 639.5,114.3 640.5,114.3 640.5,117.9 641.5,117.9 641.5,119.9 642.5,119.9 642.5,121.8 643.5,121.8 643.5,123.8 644.5,123.8 644.5,126.3 645.5,126.3 645.5,128.9 646.5,128.9 646.5,131.4 647.5,131.4 647.5,132.1 648.5,132.1 648.5,132.6 649.5,132.6 649.5,133.1 650.5,133.1 650.5,133.6 651.5,133.6 651.5,134.1 652.5,134.1 652.5,135.2 653.5,135.2 653.5,136.4 654.5,136.4 654.5,137.5 655.5,137.5" fill="none" stroke="#1c1c1c" stroke-width="0.85" stroke-linejoin="miter"/>
<line x1="539.5" y1="1.6" x2="752.6" y2="1.6" stroke="#363636" stroke-width="1.4"/>
<line x1="540" y1="1.1" x2="540" y2="138" stroke="#3a3a3a" stroke-width="1.9"/>
<line x1="752.6" y1="0.9000000000000001" x2="752.6" y2="139" stroke="#080808" stroke-width="2.1"/>
<line x1="539.2" y1="138" x2="753.6" y2="138" stroke="#080808" stroke-width="1.8"/>
<path d="M537.8 18.7H540 M537.8 35.7H540 M537.8 52.8H540 M537.8 69.8H540 M537.8 86.8H540 M537.8 103.9H540 M537.8 121.0H540 M537.8 138.0H540 M540.0 138V142.8 M556.0 138V141.6 M565.4 138V141.6 M572.0 138V141.6 M577.2 138V141.6 M581.4 138V141.6 M584.9 138V141.6 M588.0 138V141.6 M590.7 138V141.6 M593.1 138V142.8 M609.1 138V141.6 M618.5 138V141.6 M625.1 138V141.6 M630.3 138V141.6 M634.5 138V141.6 M638.1 138V141.6 M641.1 138V141.6 M643.9 138V141.6 M646.3 138V142.8 M662.3 138V141.6 M671.7 138V141.6 M678.3 138V141.6 M683.5 138V141.6 M687.7 138V141.6 M691.2 138V141.6 M694.3 138V141.6 M697.0 138V141.6 M699.5 138V142.8 M715.4 138V141.6 M724.8 138V141.6 M731.4 138V141.6 M736.6 138V141.6 M740.8 138V141.6 M744.4 138V141.6 M747.4 138V141.6 M750.2 138V141.6 M752.6 138V142.8" stroke="#111" stroke-width="1.35" fill="none"/>
<line x1="640" y1="98.4" x2="749.5" y2="98.4" stroke="#222" stroke-width="1.3"/>
<text x="0" y="0" transform="translate(650.7,114.6) scale(1.1,1)" font-family="Liberation Sans, sans-serif" font-size="11.5" letter-spacing="0.25" fill="#1a1a1a" stroke="#1a1a1a" stroke-width="0.15">99.76<tspan dx="1.6">%</tspan></text>
<text x="613.7" y="165.6" font-family="Liberation Serif, serif" font-size="17.8" fill="#000">CD29 PE</text>
<text transform="translate(532.9,7.6) rotate(-90)" text-anchor="middle" font-family="Liberation Serif, serif" font-size="17.8" fill="#000">71</text>
<text transform="translate(529.3,76.3) rotate(-90)" text-anchor="middle" font-family="Liberation Serif, serif" font-size="17.8" fill="#000">Events</text>
<text transform="translate(532.7,139.0) rotate(-90)" text-anchor="middle" font-family="Liberation Serif, serif" font-size="17.8" fill="#000">0</text>
<polygon points="70.5,316.4 71.5,316.4 71.5,315.2 72.5,315.2 72.5,314.0 73.5,314.0 73.5,312.8 74.5,312.8 74.5,311.6 75.5,311.6 75.5,310.4 76.5,310.4 76.5,309.0 77.5,309.0 77.5,307.7 78.5,307.7 78.5,306.3 79.5,306.3 79.5,305.0 80.5,305.0 80.5,302.1 81.5,302.1 81.5,297.6 82.5,297.6 82.5,293.1 83.5,293.1 83.5,289.1 84.5,289.1 84.5,285.1 85.5,285.1 85.5,281.1 86.5,281.1 86.5,275.9 87.5,275.9 87.5,270.3 88.5,270.3 88.5,264.8 89.5,264.8 89.5,258.6 90.5,258.6 90.5,251.9 91.5,251.9 91.5,245.1 92.5,245.1 92.5,237.8 93.5,237.8 93.5,230.4 94.5,230.4 94.5,223.0 95.5,223.0 95.5,215.7 96.5,215.7 96.5,208.6 97.5,208.6 97.5,202.0 98.5,202.0 98.5,195.3 99.5,195.3 99.5,191.3 100.5,191.3 100.5,187.2 101.5,187.2 101.5,184.6 102.5,184.6 102.5,182.9 103.5,182.9 103.5,181.7 104.5,181.7 104.5,181.9 105.5,181.9 105.5,182.2 106.5,182.2 106.5,182.4 107.5,182.4 107.5,186.4 108.5,186.4 108.5,190.4 109.5,190.4 109.5,195.0 110.5,195.0 110.5,200.1 111.5,200.1 111.5,205.1 112.5,205.1 112.5,208.1 113.5,208.1 113.5,220.2 114.5,220.2 114.5,228.9 115.5,228.9 115.5,235.6 116.5,235.6 116.5,242.3 117.5,242.3 117.5,249.2 118.5,249.2 118.5,256.2 119.5,256.2 119.5,261.3 120.5,261.3 120.5,266.4 121.5,266.4 121.5,271.4 122.5,271.4 122.5,276.1 123.5,276.1 123.5,280.7 124.5,280.7 124.5,284.7 125.5,284.7 125.5,288.7 126.5,288.7 126.5,292.7 127.5,292.7 127.5,295.4 128.5,295.4 128.5,298.0 129.5,298.0 129.5,300.6 130.5,300.6 130.5,303.2 131.5,303.2 131.5,305.6 132.5,305.6 132.5,308.0 133.5,308.0 133.5,309.2 134.5,309.2 134.5,310.4 135.5,310.4 135.5,311.6 136.5,311.6 136.5,312.7 137.5,312.7 137.5,313.6 138.5,313.6 138.5,314.5 139.5,314.5 139.5,315.4 140.5,315.4 140.5,316.3 141.5,316.3" fill="#fefcf8"/>
<polygon points="80.5,316.7 80.5,316.1 81.5,316.1 81.5,315.2 82.5,315.2 82.5,314.3 83.5,314.3 83.5,313.4 84.5,313.4 84.5,312.6 85.5,312.6 85.5,311.7 86.5,311.7 86.5,310.8 87.5,310.8 87.5,309.5 88.5,309.5 88.5,308.3 89.5,308.3 89.5,307.0 90.5,307.0 90.5,305.7 91.5,305.7 91.5,304.5 92.5,304.5 92.5,303.2 93.5,303.2 93.5,301.3 94.5,301.3 94.5,299.0 95.5,299.0 95.5,296.6 96.5,296.6 96.5,294.3 97.5,294.3 97.5,292.0 98.5,292.0 98.5,289.6 99.5,289.6 99.5,287.3 100.5,287.3 100.5,285.0 101.5,285.0 101.5,282.6 102.5,282.6 102.5,280.3 103.5,280.3 103.5,278.6 104.5,278.6 104.5,277.0 105.5,277.0 105.5,275.3 106.5,275.3 106.5,273.6 107.5,273.6 107.5,271.9 108.5,271.9 108.5,269.9 109.5,269.9 109.5,267.9 110.5,267.9 110.5,265.8 111.5,265.8 111.5,263.8 112.5,263.8 112.5,261.8 113.5,261.8 113.5,259.8 114.5,259.8 114.5,257.8 115.5,257.8 115.5,255.8 116.5,255.8 116.5,253.8 117.5,253.8 117.5,251.3 118.5,251.3 118.5,248.3 119.5,248.3 119.5,245.4 120.5,245.4 120.5,241.9 121.5,241.9 121.5,236.9 122.5,236.9 122.5,231.8 123.5,231.8 123.5,226.9 124.5,226.9 124.5,222.9 125.5,222.9 125.5,218.9 126.5,218.9 126.5,214.9 127.5,214.9 127.5,212.4 128.5,212.4 128.5,210.2 129.5,210.2 129.5,208.8 130.5,208.8 130.5,207.6 131.5,207.6 131.5,206.3 132.5,206.3 132.5,204.8 133.5,204.8 133.5,203.3 134.5,203.3 134.5,202.1 135.5,202.1 135.5,200.9 136.5,200.9 136.5,199.6 137.5,199.6 137.5,198.1 138.5,198.1 138.5,196.7 139.5,196.7 139.5,195.4 140.5,195.4 140.5,194.2 141.5,194.2 141.5,192.4 142.5,192.4 142.5,189.4 143.5,189.4 143.5,184.2 144.5,184.2 144.5,181.6 145.5,181.6 145.5,185.0 146.5,185.0 146.5,184.2 147.5,184.2 147.5,182.4 148.5,182.4 148.5,184.0 149.5,184.0 149.5,188.8 150.5,188.8 150.5,193.6 151.5,193.6 151.5,198.3 152.5,198.3 152.5,202.8 153.5,202.8 153.5,207.2 154.5,207.2 154.5,211.8 155.5,211.8 155.5,216.2 156.5,216.2 156.5,220.8 157.5,220.8 157.5,225.2 158.5,225.2 158.5,229.0 159.5,229.0 159.5,232.6 160.5,232.6 160.5,236.2 161.5,236.2 161.5,239.8 162.5,239.8 162.5,243.8 163.5,243.8 163.5,247.8 164.5,247.8 164.5,251.8 165.5,251.8 165.5,255.8 166.5,255.8 166.5,259.3 167.5,259.3 167.5,262.8 168.5,262.8 168.5,266.3 169.5,266.3 169.5,269.5 170.5,269.5 170.5,272.6 171.5,272.6 171.5,275.6 172.5,275.6 172.5,278.1 173.5,278.1 173.5,280.1 174.5,280.1 174.5,282.1 175.5,282.1 175.5,284.1 176.5,284.1 176.5,286.1 177.5,286.1 177.5,287.6 178.5,287.6 178.5,288.8 179.5,288.8 179.5,290.0 180.5,290.0 180.5,291.3 181.5,291.3 181.5,292.5 182.5,292.5 182.5,293.7 183.5,293.7 183.5,294.9 184.5,294.9 184.5,296.2 185.5,296.2 185.5,297.4 186.5,297.4 186.5,298.7 187.5,298.7 187.5,299.9 188.5,299.9 188.5,301.2 189.5,301.2 189.5,302.4 190.5,302.4 190.5,303.1 191.5,303.1 191.5,303.6 192.5,303.6 192.5,304.1 193.5,304.1 193.5,304.7 194.5,304.7 194.5,305.2 195.5,305.2 195.5,305.7 196.5,305.7 196.5,306.2 197.5,306.2 197.5,306.9 198.5,306.9 198.5,307.5 199.5,307.5 199.5,308.1 200.5,308.1 200.5,308.8 201.5,308.8 201.5,309.4 202.5,309.4 202.5,310.0 203.5,310.0 203.5,310.4 204.5,310.4 204.5,310.8 205.5,310.8 205.5,311.1 206.5,311.1 206.5,311.5 207.5,311.5 207.5,311.9 208.5,311.9 208.5,312.2 209.5,312.2 209.5,313.0 210.5,313.0 210.5,314.0 211.5,314.0 211.5,315.1 212.5,315.1 212.5,316.1 213.5,316.1 213.5,316.7" fill="#d6d4d8"/>
<polygon points="80.5,316.7 80.5,316.1 81.5,316.1 81.5,315.2 82.5,315.2 82.5,314.3 83.5,314.3 83.5,313.4 84.5,313.4 84.5,312.6 85.5,312.6 85.5,311.7 86.5,311.7 86.5,310.8 87.5,310.8 87.5,309.5 88.5,309.5 88.5,308.3 89.5,308.3 89.5,307.0 90.5,307.0 90.5,305.7 91.5,305.7 91.5,304.5 92.5,304.5 92.5,303.2 93.5,303.2 93.5,301.3 94.5,301.3 94.5,299.0 95.5,299.0 95.5,296.6 96.5,296.6 96.5,294.3 97.5,294.3 97.5,292.0 98.5,292.0 98.5,289.6 99.5,289.6 99.5,287.3 100.5,287.3 100.5,285.0 101.5,285.0 101.5,282.6 102.5,282.6 102.5,280.3 103.5,280.3 103.5,278.6 104.5,278.6 104.5,277.0 105.5,277.0 105.5,275.3 106.5,275.3 106.5,273.6 107.5,273.6 107.5,271.9 108.5,271.9 108.5,269.9 109.5,269.9 109.5,267.9 110.5,267.9 110.5,265.8 111.5,265.8 111.5,263.8 112.5,263.8 112.5,261.8 113.5,261.8 113.5,259.8 114.5,259.8 114.5,257.8 115.5,257.8 115.5,255.8 116.5,255.8 116.5,253.8 117.5,253.8 117.5,251.3 118.5,251.3 118.5,248.3 119.5,248.3 119.5,245.4 120.5,245.4 120.5,241.9 121.5,241.9 121.5,236.9 122.5,236.9 122.5,231.8 123.5,231.8 123.5,226.9 124.5,226.9 124.5,222.9 125.5,222.9 125.5,218.9 126.5,218.9 126.5,214.9 127.5,214.9 127.5,212.4 128.5,212.4 128.5,210.2 129.5,210.2 129.5,208.8 130.5,208.8 130.5,207.6 131.5,207.6 131.5,206.3 132.5,206.3 132.5,204.8 133.5,204.8 133.5,203.3 134.5,203.3 134.5,202.1 135.5,202.1 135.5,200.9 136.5,200.9 136.5,199.6 137.5,199.6 137.5,198.1 138.5,198.1 138.5,196.7 139.5,196.7 139.5,195.4 140.5,195.4 140.5,194.2 141.5,194.2 141.5,192.4 142.5,192.4 142.5,189.4 143.5,189.4 143.5,184.2 144.5,184.2 144.5,181.6 145.5,181.6 145.5,185.0 146.5,185.0 146.5,184.2 147.5,184.2 147.5,182.4 148.5,182.4 148.5,184.0 149.5,184.0 149.5,188.8 150.5,188.8 150.5,193.6 151.5,193.6 151.5,198.3 152.5,198.3 152.5,202.8 153.5,202.8 153.5,207.2 154.5,207.2 154.5,211.8 155.5,211.8 155.5,216.2 156.5,216.2 156.5,220.8 157.5,220.8 157.5,225.2 158.5,225.2 158.5,229.0 159.5,229.0 159.5,232.6 160.5,232.6 160.5,236.2 161.5,236.2 161.5,239.8 162.5,239.8 162.5,243.8 163.5,243.8 163.5,247.8 164.5,247.8 164.5,251.8 165.5,251.8 165.5,255.8 166.5,255.8 166.5,259.3 167.5,259.3 167.5,262.8 168.5,262.8 168.5,266.3 169.5,266.3 169.5,269.5 170.5,269.5 170.5,272.6 171.5,272.6 171.5,275.6 172.5,275.6 172.5,278.1 173.5,278.1 173.5,280.1 174.5,280.1 174.5,282.1 175.5,282.1 175.5,284.1 176.5,284.1 176.5,286.1 177.5,286.1 177.5,287.6 178.5,287.6 178.5,288.8 179.5,288.8 179.5,290.0 180.5,290.0 180.5,291.3 181.5,291.3 181.5,292.5 182.5,292.5 182.5,293.7 183.5,293.7 183.5,294.9 184.5,294.9 184.5,296.2 185.5,296.2 185.5,297.4 186.5,297.4 186.5,298.7 187.5,298.7 187.5,299.9 188.5,299.9 188.5,301.2 189.5,301.2 189.5,302.4 190.5,302.4 190.5,303.1 191.5,303.1 191.5,303.6 192.5,303.6 192.5,304.1 193.5,304.1 193.5,304.7 194.5,304.7 194.5,305.2 195.5,305.2 195.5,305.7 196.5,305.7 196.5,306.2 197.5,306.2 197.5,306.9 198.5,306.9 198.5,307.5 199.5,307.5 199.5,308.1 200.5,308.1 200.5,308.8 201.5,308.8 201.5,309.4 202.5,309.4 202.5,310.0 203.5,310.0 203.5,310.4 204.5,310.4 204.5,310.8 205.5,310.8 205.5,311.1 206.5,311.1 206.5,311.5 207.5,311.5 207.5,311.9 208.5,311.9 208.5,312.2 209.5,312.2 209.5,313.0 210.5,313.0 210.5,314.0 211.5,314.0 211.5,315.1 212.5,315.1 212.5,316.1 213.5,316.1 213.5,316.7" fill="#d7d4cf" clip-path="url(#c3)"/>
<polyline points="80.5,316.1 81.5,316.1 81.5,315.2 82.5,315.2 82.5,314.3 83.5,314.3 83.5,313.4 84.5,313.4 84.5,312.6 85.5,312.6 85.5,311.7 86.5,311.7 86.5,310.8 87.5,310.8 87.5,309.5 88.5,309.5 88.5,308.3 89.5,308.3 89.5,307.0 90.5,307.0 90.5,305.7 91.5,305.7 91.5,304.5 92.5,304.5 92.5,303.2 93.5,303.2 93.5,301.3 94.5,301.3 94.5,299.0 95.5,299.0 95.5,296.6 96.5,296.6 96.5,294.3 97.5,294.3 97.5,292.0 98.5,292.0 98.5,289.6 99.5,289.6 99.5,287.3 100.5,287.3 100.5,285.0 101.5,285.0 101.5,282.6 102.5,282.6 102.5,280.3 103.5,280.3 103.5,278.6 104.5,278.6 104.5,277.0 105.5,277.0 105.5,275.3 106.5,275.3 106.5,273.6 107.5,273.6 107.5,271.9 108.5,271.9 108.5,269.9 109.5,269.9 109.5,267.9 110.5,267.9 110.5,265.8 111.5,265.8 111.5,263.8 112.5,263.8 112.5,261.8 113.5,261.8 113.5,259.8 114.5,259.8 114.5,257.8 115.5,257.8 115.5,255.8 116.5,255.8 116.5,253.8 117.5,253.8 117.5,251.3 118.5,251.3 118.5,248.3 119.5,248.3 119.5,245.4 120.5,245.4 120.5,241.9 121.5,241.9 121.5,236.9 122.5,236.9 122.5,231.8 123.5,231.8 123.5,226.9 124.5,226.9 124.5,222.9 125.5,222.9 125.5,218.9 126.5,218.9 126.5,214.9 127.5,214.9 127.5,212.4 128.5,212.4 128.5,210.2 129.5,210.2 129.5,208.8 130.5,208.8 130.5,207.6 131.5,207.6 131.5,206.3 132.5,206.3 132.5,204.8 133.5,204.8 133.5,203.3 134.5,203.3 134.5,202.1 135.5,202.1 135.5,200.9 136.5,200.9 136.5,199.6 137.5,199.6 137.5,198.1 138.5,198.1 138.5,196.7 139.5,196.7 139.5,195.4 140.5,195.4 140.5,194.2 141.5,194.2 141.5,192.4 142.5,192.4 142.5,189.4 143.5,189.4 143.5,184.2 144.5,184.2 144.5,181.6 145.5,181.6 145.5,185.0 146.5,185.0 146.5,184.2 147.5,184.2 147.5,182.4 148.5,182.4 148.5,184.0 149.5,184.0 149.5,188.8 150.5,188.8 150.5,193.6 151.5,193.6 151.5,198.3 152.5,198.3 152.5,202.8 153.5,202.8 153.5,207.2 154.5,207.2 154.5,211.8 155.5,211.8 155.5,216.2 156.5,216.2 156.5,220.8 157.5,220.8 157.5,225.2 158.5,225.2 158.5,229.0 159.5,229.0 159.5,232.6 160.5,232.6 160.5,236.2 161.5,236.2 161.5,239.8 162.5,239.8 162.5,243.8 163.5,243.8 163.5,247.8 164.5,247.8 164.5,251.8 165.5,251.8 165.5,255.8 166.5,255.8 166.5,259.3 167.5,259.3 167.5,262.8 168.5,262.8 168.5,266.3 169.5,266.3 169.5,269.5 170.5,269.5 170.5,272.6 171.5,272.6 171.5,275.6 172.5,275.6 172.5,278.1 173.5,278.1 173.5,280.1 174.5,280.1 174.5,282.1 175.5,282.1 175.5,284.1 176.5,284.1 176.5,286.1 177.5,286.1 177.5,287.6 178.5,287.6 178.5,288.8 179.5,288.8 179.5,290.0 180.5,290.0 180.5,291.3 181.5,291.3 181.5,292.5 182.5,292.5 182.5,293.7 183.5,293.7 183.5,294.9 184.5,294.9 184.5,296.2 185.5,296.2 185.5,297.4 186.5,297.4 186.5,298.7 187.5,298.7 187.5,299.9 188.5,299.9 188.5,301.2 189.5,301.2 189.5,302.4 190.5,302.4 190.5,303.1 191.5,303.1 191.5,303.6 192.5,303.6 192.5,304.1 193.5,304.1 193.5,304.7 194.5,304.7 194.5,305.2 195.5,305.2 195.5,305.7 196.5,305.7 196.5,306.2 197.5,306.2 197.5,306.9 198.5,306.9 198.5,307.5 199.5,307.5 199.5,308.1 200.5,308.1 200.5,308.8 201.5,308.8 201.5,309.4 202.5,309.4 202.5,310.0 203.5,310.0 203.5,310.4 204.5,310.4 204.5,310.8 205.5,310.8 205.5,311.1 206.5,311.1 206.5,311.5 207.5,311.5 207.5,311.9 208.5,311.9 208.5,312.2 209.5,312.2 209.5,313.0 210.5,313.0 210.5,314.0 211.5,314.0 211.5,315.1 212.5,315.1 212.5,316.1 213.5,316.1" fill="none" stroke="#7a7a7a" stroke-width="0.9" stroke-linejoin="miter"/>
<polyline points="70.5,316.4 71.5,316.4 71.5,315.2 72.5,315.2 72.5,314.0 73.5,314.0 73.5,312.8 74.5,312.8 74.5,311.6 75.5,311.6 75.5,310.4 76.5,310.4 76.5,309.0 77.5,309.0 77.5,307.7 78.5,307.7 78.5,306.3 79.5,306.3 79.5,305.0 80.5,305.0 80.5,302.1 81.5,302.1 81.5,297.6 82.5,297.6 82.5,293.1 83.5,293.1 83.5,289.1 84.5,289.1 84.5,285.1 85.5,285.1 85.5,281.1 86.5,281.1 86.5,275.9 87.5,275.9 87.5,270.3 88.5,270.3 88.5,264.8 89.5,264.8 89.5,258.6 90.5,258.6 90.5,251.9 91.5,251.9 91.5,245.1 92.5,245.1 92.5,237.8 93.5,237.8 93.5,230.4 94.5,230.4 94.5,223.0 95.5,223.0 95.5,215.7 96.5,215.7 96.5,208.6 97.5,208.6 97.5,202.0 98.5,202.0 98.5,195.3 99.5,195.3 99.5,191.3 100.5,191.3 100.5,187.2 101.5,187.2 101.5,184.6 102.5,184.6 102.5,182.9 103.5,182.9 103.5,181.7 104.5,181.7 104.5,181.9 105.5,181.9 105.5,182.2 106.5,182.2 106.5,182.4 107.5,182.4 107.5,186.4 108.5,186.4 108.5,190.4 109.5,190.4 109.5,195.0 110.5,195.0 110.5,200.1 111.5,200.1 111.5,205.1 112.5,205.1 112.5,208.1 113.5,208.1 113.5,220.2 114.5,220.2 114.5,228.9 115.5,228.9 115.5,235.6 116.5,235.6 116.5,242.3 117.5,242.3 117.5,249.2 118.5,249.2 118.5,256.2 119.5,256.2 119.5,261.3 120.5,261.3 120.5,266.4 121.5,266.4 121.5,271.4 122.5,271.4 122.5,276.1 123.5,276.1 123.5,280.7 124.5,280.7 124.5,284.7 125.5,284.7 125.5,288.7 126.5,288.7 126.5,292.7 127.5,292.7 127.5,295.4 128.5,295.4 128.5,298.0 129.5,298.0 129.5,300.6 130.5,300.6 130.5,303.2 131.5,303.2 131.5,305.6 132.5,305.6 132.5,308.0 133.5,308.0 133.5,309.2 134.5,309.2 134.5,310.4 135.5,310.4 135.5,311.6 136.5,311.6 136.5,312.7 137.5,312.7 137.5,313.6 138.5,313.6 138.5,314.5 139.5,314.5 139.5,315.4 140.5,315.4 140.5,316.3 141.5,316.3" fill="none" stroke="#1c1c1c" stroke-width="0.85" stroke-linejoin="miter"/>
<line x1="27.0" y1="180.2" x2="240" y2="180.2" stroke="#363636" stroke-width="1.4"/>
<line x1="27.5" y1="179.7" x2="27.5" y2="316.7" stroke="#3a3a3a" stroke-width="1.9"/>
<line x1="240" y1="179.5" x2="240" y2="317.7" stroke="#080808" stroke-width="2.1"/>
<line x1="26.7" y1="316.7" x2="241" y2="316.7" stroke="#080808" stroke-width="1.8"/>
<path d="M25.3 197.3H27.5 M25.3 214.3H27.5 M25.3 231.4H27.5 M25.3 248.4H27.5 M25.3 265.5H27.5 M25.3 282.6H27.5 M25.3 299.6H27.5 M25.3 316.7H27.5 M27.5 316.7V321.5 M43.5 316.7V320.3 M52.8 316.7V320.3 M59.5 316.7V320.3 M64.6 316.7V320.3 M68.8 316.7V320.3 M72.4 316.7V320.3 M75.5 316.7V320.3 M78.2 316.7V320.3 M80.6 316.7V321.5 M96.6 316.7V320.3 M106.0 316.7V320.3 M112.6 316.7V320.3 M117.8 316.7V320.3 M122.0 316.7V320.3 M125.5 316.7V320.3 M128.6 316.7V320.3 M131.3 316.7V320.3 M133.8 316.7V321.5 M149.7 316.7V320.3 M159.1 316.7V320.3 M165.7 316.7V320.3 M170.9 316.7V320.3 M175.1 316.7V320.3 M178.6 316.7V320.3 M181.7 316.7V320.3 M184.4 316.7V320.3 M186.9 316.7V321.5 M202.9 316.7V320.3 M212.2 316.7V320.3 M218.9 316.7V320.3 M224.0 316.7V320.3 M228.2 316.7V320.3 M231.8 316.7V320.3 M234.9 316.7V320.3 M237.6 316.7V320.3 M240.0 316.7V321.5" stroke="#111" stroke-width="1.35" fill="none"/>
<line x1="128.9" y1="278.5" x2="233.2" y2="278.5" stroke="#222" stroke-width="1.3"/>
<text x="0" y="0" transform="translate(139.5,295.0) scale(1.1,1)" font-family="Liberation Sans, sans-serif" font-size="11.5" letter-spacing="0.25" fill="#1a1a1a" stroke="#1a1a1a" stroke-width="0.15">67.78<tspan dx="1.6">%</tspan></text>
<text x="101.0" y="345.0" font-family="Liberation Serif, serif" font-size="17.8" fill="#000">CD54 PE</text>
<text transform="translate(20.7,188.4) rotate(-90)" text-anchor="middle" font-family="Liberation Serif, serif" font-size="17.8" fill="#000">41</text>
<text transform="translate(16.5,256.1) rotate(-90)" text-anchor="middle" font-family="Liberation Serif, serif" font-size="17.8" fill="#000">Events</text>
<text transform="translate(21.2,316.9) rotate(-90)" text-anchor="middle" font-family="Liberation Serif, serif" font-size="17.8" fill="#000">0</text>
<polygon points="330.5,316.1 331.5,316.1 331.5,315.0 332.5,315.0 332.5,313.8 333.5,313.8 333.5,312.7 334.5,312.7 334.5,311.6 335.5,311.6 335.5,310.4 336.5,310.4 336.5,309.0 337.5,309.0 337.5,307.7 338.5,307.7 338.5,306.3 339.5,306.3 339.5,305.0 340.5,305.0 340.5,302.1 341.5,302.1 341.5,297.6 342.5,297.6 342.5,293.1 343.5,293.1 343.5,288.6 344.5,288.6 344.5,284.1 345.5,284.1 345.5,279.6 346.5,279.6 346.5,274.7 347.5,274.7 347.5,269.6 348.5,269.6 348.5,264.6 349.5,264.6 349.5,258.6 350.5,258.6 350.5,251.9 351.5,251.9 351.5,245.0 352.5,245.0 352.5,236.9 353.5,236.9 353.5,228.9 354.5,228.9 354.5,222.0 355.5,222.0 355.5,215.3 356.5,215.3 356.5,208.6 357.5,208.6 357.5,202.0 358.5,202.0 358.5,195.3 359.5,195.3 359.5,191.3 360.5,191.3 360.5,187.2 361.5,187.2 361.5,184.8 362.5,184.8 362.5,183.6 363.5,183.6 363.5,182.4 364.5,182.4 364.5,181.7 365.5,181.7 365.5,181.9 366.5,181.9 366.5,182.1 367.5,182.1 367.5,182.3 368.5,182.3 368.5,184.0 369.5,184.0 369.5,188.0 370.5,188.0 370.5,192.0 371.5,192.0 371.5,198.7 372.5,198.7 372.5,205.4 373.5,205.4 373.5,212.9 374.5,212.9 374.5,220.9 375.5,220.9 375.5,228.8 376.5,228.8 376.5,236.2 377.5,236.2 377.5,243.5 378.5,243.5 378.5,250.1 379.5,250.1 379.5,256.5 380.5,256.5 380.5,262.4 381.5,262.4 381.5,266.9 382.5,266.9 382.5,271.4 383.5,271.4 383.5,275.9 384.5,275.9 384.5,279.7 385.5,279.7 385.5,283.5 386.5,283.5 386.5,289.3 387.5,289.3 387.5,292.0 388.5,292.0 388.5,294.2 389.5,294.2 389.5,297.4 390.5,297.4 390.5,300.8 391.5,300.8 391.5,303.9 392.5,303.9 392.5,307.0 393.5,307.0 393.5,308.2 394.5,308.2 394.5,309.0 395.5,309.0 395.5,309.8 396.5,309.8 396.5,310.6 397.5,310.6 397.5,311.9 398.5,311.9 398.5,313.2 399.5,313.2 399.5,314.6 400.5,314.6 400.5,315.9 401.5,315.9" fill="#fefcf8"/>
<polygon points="380.5,316.7 380.5,315.9 381.5,315.9 381.5,314.9 382.5,314.9 382.5,314.0 383.5,314.0 383.5,313.0 384.5,313.0 384.5,312.0 385.5,312.0 385.5,310.7 386.5,310.7 386.5,309.3 387.5,309.3 387.5,308.4 388.5,308.4 388.5,307.6 389.5,307.6 389.5,306.7 390.5,306.7 390.5,305.8 391.5,305.8 391.5,304.6 392.5,304.6 392.5,291.5 393.5,291.5 393.5,286.2 394.5,286.2 394.5,279.5 395.5,279.5 395.5,272.3 396.5,272.3 396.5,264.2 397.5,264.2 397.5,256.2 398.5,256.2 398.5,249.5 399.5,249.5 399.5,242.9 400.5,242.9 400.5,235.4 401.5,235.4 401.5,227.3 402.5,227.3 402.5,219.5 403.5,219.5 403.5,212.5 404.5,212.5 404.5,205.4 405.5,205.4 405.5,199.1 406.5,199.1 406.5,193.4 407.5,193.4 407.5,191.4 408.5,191.4 408.5,189.4 409.5,189.4 409.5,187.4 410.5,187.4 410.5,184.1 411.5,184.1 411.5,181.6 412.5,181.6 412.5,181.6 413.5,181.6 413.5,181.6 414.5,181.6 414.5,191.1 415.5,191.1 415.5,201.3 416.5,201.3 416.5,210.6 417.5,210.6 417.5,220.0 418.5,220.0 418.5,228.1 419.5,228.1 419.5,236.2 420.5,236.2 420.5,240.2 421.5,240.2 421.5,253.2 422.5,253.2 422.5,261.5 423.5,261.5 423.5,266.9 424.5,266.9 424.5,272.3 425.5,272.3 425.5,277.2 426.5,277.2 426.5,281.8 427.5,281.8 427.5,286.2 428.5,286.2 428.5,289.7 429.5,289.7 429.5,293.2 430.5,293.2 430.5,296.6 431.5,296.6 431.5,299.6 432.5,299.6 432.5,302.7 433.5,302.7 433.5,305.7 434.5,305.7 434.5,306.9 435.5,306.9 435.5,307.9 436.5,307.9 436.5,308.9 437.5,308.9 437.5,309.9 438.5,309.9 438.5,311.0 439.5,311.0 439.5,312.6 440.5,312.6 440.5,314.2 441.5,314.2 441.5,315.9 442.5,315.9 442.5,316.7" fill="#d6d4d8"/>
<polygon points="380.5,316.7 380.5,315.9 381.5,315.9 381.5,314.9 382.5,314.9 382.5,314.0 383.5,314.0 383.5,313.0 384.5,313.0 384.5,312.0 385.5,312.0 385.5,310.7 386.5,310.7 386.5,309.3 387.5,309.3 387.5,308.4 388.5,308.4 388.5,307.6 389.5,307.6 389.5,306.7 390.5,306.7 390.5,305.8 391.5,305.8 391.5,304.6 392.5,304.6 392.5,291.5 393.5,291.5 393.5,286.2 394.5,286.2 394.5,279.5 395.5,279.5 395.5,272.3 396.5,272.3 396.5,264.2 397.5,264.2 397.5,256.2 398.5,256.2 398.5,249.5 399.5,249.5 399.5,242.9 400.5,242.9 400.5,235.4 401.5,235.4 401.5,227.3 402.5,227.3 402.5,219.5 403.5,219.5 403.5,212.5 404.5,212.5 404.5,205.4 405.5,205.4 405.5,199.1 406.5,199.1 406.5,193.4 407.5,193.4 407.5,191.4 408.5,191.4 408.5,189.4 409.5,189.4 409.5,187.4 410.5,187.4 410.5,184.1 411.5,184.1 411.5,181.6 412.5,181.6 412.5,181.6 413.5,181.6 413.5,181.6 414.5,181.6 414.5,191.1 415.5,191.1 415.5,201.3 416.5,201.3 416.5,210.6 417.5,210.6 417.5,220.0 418.5,220.0 418.5,228.1 419.5,228.1 419.5,236.2 420.5,236.2 420.5,240.2 421.5,240.2 421.5,253.2 422.5,253.2 422.5,261.5 423.5,261.5 423.5,266.9 424.5,266.9 424.5,272.3 425.5,272.3 425.5,277.2 426.5,277.2 426.5,281.8 427.5,281.8 427.5,286.2 428.5,286.2 428.5,289.7 429.5,289.7 429.5,293.2 430.5,293.2 430.5,296.6 431.5,296.6 431.5,299.6 432.5,299.6 432.5,302.7 433.5,302.7 433.5,305.7 434.5,305.7 434.5,306.9 435.5,306.9 435.5,307.9 436.5,307.9 436.5,308.9 437.5,308.9 437.5,309.9 438.5,309.9 438.5,311.0 439.5,311.0 439.5,312.6 440.5,312.6 440.5,314.2 441.5,314.2 441.5,315.9 442.5,315.9 442.5,316.7" fill="#d7d4cf" clip-path="url(#c4)"/>
<polyline points="380.5,315.9 381.5,315.9 381.5,314.9 382.5,314.9 382.5,314.0 383.5,314.0 383.5,313.0 384.5,313.0 384.5,312.0 385.5,312.0 385.5,310.7 386.5,310.7 386.5,309.3 387.5,309.3 387.5,308.4 388.5,308.4 388.5,307.6 389.5,307.6 389.5,306.7 390.5,306.7 390.5,305.8 391.5,305.8 391.5,304.6 392.5,304.6 392.5,291.5 393.5,291.5 393.5,286.2 394.5,286.2 394.5,279.5 395.5,279.5 395.5,272.3 396.5,272.3 396.5,264.2 397.5,264.2 397.5,256.2 398.5,256.2 398.5,249.5 399.5,249.5 399.5,242.9 400.5,242.9 400.5,235.4 401.5,235.4 401.5,227.3 402.5,227.3 402.5,219.5 403.5,219.5 403.5,212.5 404.5,212.5 404.5,205.4 405.5,205.4 405.5,199.1 406.5,199.1 406.5,193.4 407.5,193.4 407.5,191.4 408.5,191.4 408.5,189.4 409.5,189.4 409.5,187.4 410.5,187.4 410.5,184.1 411.5,184.1 411.5,181.6 412.5,181.6 412.5,181.6 413.5,181.6 413.5,181.6 414.5,181.6 414.5,191.1 415.5,191.1 415.5,201.3 416.5,201.3 416.5,210.6 417.5,210.6 417.5,220.0 418.5,220.0 418.5,228.1 419.5,228.1 419.5,236.2 420.5,236.2 420.5,240.2 421.5,240.2 421.5,253.2 422.5,253.2 422.5,261.5 423.5,261.5 423.5,266.9 424.5,266.9 424.5,272.3 425.5,272.3 425.5,277.2 426.5,277.2 426.5,281.8 427.5,281.8 427.5,286.2 428.5,286.2 428.5,289.7 429.5,289.7 429.5,293.2 430.5,293.2 430.5,296.6 431.5,296.6 431.5,299.6 432.5,299.6 432.5,302.7 433.5,302.7 433.5,305.7 434.5,305.7 434.5,306.9 435.5,306.9 435.5,307.9 436.5,307.9 436.5,308.9 437.5,308.9 437.5,309.9 438.5,309.9 438.5,311.0 439.5,311.0 439.5,312.6 440.5,312.6 440.5,314.2 441.5,314.2 441.5,315.9 442.5,315.9" fill="none" stroke="#7a7a7a" stroke-width="0.9" stroke-linejoin="miter"/>
<polyline points="330.5,316.1 331.5,316.1 331.5,315.0 332.5,315.0 332.5,313.8 333.5,313.8 333.5,312.7 334.5,312.7 334.5,311.6 335.5,311.6 335.5,310.4 336.5,310.4 336.5,309.0 337.5,309.0 337.5,307.7 338.5,307.7 338.5,306.3 339.5,306.3 339.5,305.0 340.5,305.0 340.5,302.1 341.5,302.1 341.5,297.6 342.5,297.6 342.5,293.1 343.5,293.1 343.5,288.6 344.5,288.6 344.5,284.1 345.5,284.1 345.5,279.6 346.5,279.6 346.5,274.7 347.5,274.7 347.5,269.6 348.5,269.6 348.5,264.6 349.5,264.6 349.5,258.6 350.5,258.6 350.5,251.9 351.5,251.9 351.5,245.0 352.5,245.0 352.5,236.9 353.5,236.9 353.5,228.9 354.5,228.9 354.5,222.0 355.5,222.0 355.5,215.3 356.5,215.3 356.5,208.6 357.5,208.6 357.5,202.0 358.5,202.0 358.5,195.3 359.5,195.3 359.5,191.3 360.5,191.3 360.5,187.2 361.5,187.2 361.5,184.8 362.5,184.8 362.5,183.6 363.5,183.6 363.5,182.4 364.5,182.4 364.5,181.7 365.5,181.7 365.5,181.9 366.5,181.9 366.5,182.1 367.5,182.1 367.5,182.3 368.5,182.3 368.5,184.0 369.5,184.0 369.5,188.0 370.5,188.0 370.5,192.0 371.5,192.0 371.5,198.7 372.5,198.7 372.5,205.4 373.5,205.4 373.5,212.9 374.5,212.9 374.5,220.9 375.5,220.9 375.5,228.8 376.5,228.8 376.5,236.2 377.5,236.2 377.5,243.5 378.5,243.5 378.5,250.1 379.5,250.1 379.5,256.5 380.5,256.5 380.5,262.4 381.5,262.4 381.5,266.9 382.5,266.9 382.5,271.4 383.5,271.4 383.5,275.9 384.5,275.9 384.5,279.7 385.5,279.7 385.5,283.5 386.5,283.5 386.5,289.3 387.5,289.3 387.5,292.0 388.5,292.0 388.5,294.2 389.5,294.2 389.5,297.4 390.5,297.4 390.5,300.8 391.5,300.8 391.5,303.9 392.5,303.9 392.5,307.0 393.5,307.0 393.5,308.2 394.5,308.2 394.5,309.0 395.5,309.0 395.5,309.8 396.5,309.8 396.5,310.6 397.5,310.6 397.5,311.9 398.5,311.9 398.5,313.2 399.5,313.2 399.5,314.6 400.5,314.6 400.5,315.9 401.5,315.9" fill="none" stroke="#1c1c1c" stroke-width="0.85" stroke-linejoin="miter"/>
<line x1="287.5" y1="180.3" x2="500.5" y2="180.3" stroke="#363636" stroke-width="1.4"/>
<line x1="288" y1="179.8" x2="288" y2="316.7" stroke="#3a3a3a" stroke-width="1.9"/>
<line x1="500.5" y1="179.60000000000002" x2="500.5" y2="317.7" stroke="#080808" stroke-width="2.1"/>
<line x1="287.2" y1="316.7" x2="501.5" y2="316.7" stroke="#080808" stroke-width="1.8"/>
<path d="M285.8 197.4H288 M285.8 214.4H288 M285.8 231.4H288 M285.8 248.5H288 M285.8 265.6H288 M285.8 282.6H288 M285.8 299.6H288 M285.8 316.7H288 M288.0 316.7V321.5 M304.0 316.7V320.3 M313.3 316.7V320.3 M320.0 316.7V320.3 M325.1 316.7V320.3 M329.3 316.7V320.3 M332.9 316.7V320.3 M336.0 316.7V320.3 M338.7 316.7V320.3 M341.1 316.7V321.5 M357.1 316.7V320.3 M366.5 316.7V320.3 M373.1 316.7V320.3 M378.3 316.7V320.3 M382.5 316.7V320.3 M386.0 316.7V320.3 M389.1 316.7V320.3 M391.8 316.7V320.3 M394.2 316.7V321.5 M410.2 316.7V320.3 M419.6 316.7V320.3 M426.2 316.7V320.3 M431.4 316.7V320.3 M435.6 316.7V320.3 M439.1 316.7V320.3 M442.2 316.7V320.3 M444.9 316.7V320.3 M447.4 316.7V321.5 M463.4 316.7V320.3 M472.7 316.7V320.3 M479.4 316.7V320.3 M484.5 316.7V320.3 M488.7 316.7V320.3 M492.3 316.7V320.3 M495.4 316.7V320.3 M498.1 316.7V320.3 M500.5 316.7V321.5" stroke="#111" stroke-width="1.35" fill="none"/>
<line x1="389.5" y1="276.0" x2="495.4" y2="276.0" stroke="#222" stroke-width="1.3"/>
<text x="0" y="0" transform="translate(399.8,293.3) scale(1.1,1)" font-family="Liberation Sans, sans-serif" font-size="11.5" letter-spacing="0.25" fill="#1a1a1a" stroke="#1a1a1a" stroke-width="0.15">96.59<tspan dx="1.6">%</tspan></text>
<text x="359.4" y="344.2" font-family="Liberation Serif, serif" font-size="17.8" fill="#000">CD140b PE</text>
<text transform="translate(279.9,187.6) rotate(-90)" text-anchor="middle" font-family="Liberation Serif, serif" font-size="17.8" fill="#000">91</text>
<text transform="translate(275.7,255.3) rotate(-90)" text-anchor="middle" font-family="Liberation Serif, serif" font-size="17.8" fill="#000">Events</text>
<text transform="translate(280.8,318.0) rotate(-90)" text-anchor="middle" font-family="Liberation Serif, serif" font-size="17.8" fill="#000">0</text>
<polygon points="583.5,316.2 584.5,316.2 584.5,315.2 585.5,315.2 585.5,314.1 586.5,314.1 586.5,313.0 587.5,313.0 587.5,311.9 588.5,311.9 588.5,310.8 589.5,310.8 589.5,309.7 590.5,309.7 590.5,308.6 591.5,308.6 591.5,307.4 592.5,307.4 592.5,306.2 593.5,306.2 593.5,305.0 594.5,305.0 594.5,302.2 595.5,302.2 595.5,296.8 596.5,296.8 596.5,291.5 597.5,291.5 597.5,286.5 598.5,286.5 598.5,281.5 599.5,281.5 599.5,276.5 600.5,276.5 600.5,270.7 601.5,270.7 601.5,264.6 602.5,264.6 602.5,258.9 603.5,258.9 603.5,253.5 604.5,253.5 604.5,248.2 605.5,248.2 605.5,239.5 606.5,239.5 606.5,227.3 607.5,227.3 607.5,222.9 608.5,222.9 608.5,215.6 609.5,215.6 609.5,208.6 610.5,208.6 610.5,203.3 611.5,203.3 611.5,198.0 612.5,198.0 612.5,193.1 613.5,193.1 613.5,188.4 614.5,188.4 614.5,185.1 615.5,185.1 615.5,183.7 616.5,183.7 616.5,182.4 617.5,182.4 617.5,182.2 618.5,182.2 618.5,182.0 619.5,182.0 619.5,181.8 620.5,181.8 620.5,181.6 621.5,181.6 621.5,186.6 622.5,186.6 622.5,191.6 623.5,191.6 623.5,196.4 624.5,196.4 624.5,201.1 625.5,201.1 625.5,206.5 626.5,206.5 626.5,214.5 627.5,214.5 627.5,222.5 628.5,222.5 628.5,230.8 629.5,230.8 629.5,239.1 630.5,239.1 630.5,247.4 631.5,247.4 631.5,255.4 632.5,255.4 632.5,263.4 633.5,263.4 633.5,267.4 634.5,267.4 634.5,270.9 635.5,270.9 635.5,274.4 636.5,274.4 636.5,278.3 637.5,278.3 637.5,282.3 638.5,282.3 638.5,286.3 639.5,286.3 639.5,290.1 640.5,290.1 640.5,293.5 641.5,293.5 641.5,297.0 642.5,297.0 642.5,300.2 643.5,300.2 643.5,302.7 644.5,302.7 644.5,305.1 645.5,305.1 645.5,307.5 646.5,307.5 646.5,309.3 647.5,309.3 647.5,309.8 648.5,309.8 648.5,310.3 649.5,310.3 649.5,310.9 650.5,310.9 650.5,311.4 651.5,311.4 651.5,312.2 652.5,312.2 652.5,313.3 653.5,313.3 653.5,314.5 654.5,314.5 654.5,315.6 655.5,315.6 655.5,316.7" fill="#fefcf8"/>
<polygon points="664.5,316.7 664.5,316.0 665.5,316.0 665.5,314.2 666.5,314.2 666.5,312.4 667.5,312.4 667.5,310.6 668.5,310.6 668.5,308.9 669.5,308.9 669.5,306.9 670.5,306.9 670.5,304.4 671.5,304.4 671.5,302.0 672.5,302.0 672.5,299.6 673.5,299.6 673.5,297.0 674.5,297.0 674.5,294.0 675.5,294.0 675.5,291.0 676.5,291.0 676.5,287.8 677.5,287.8 677.5,282.4 678.5,282.4 678.5,277.1 679.5,277.1 679.5,268.5 680.5,268.5 680.5,258.7 681.5,258.7 681.5,252.1 682.5,252.1 682.5,245.4 683.5,245.4 683.5,238.2 684.5,238.2 684.5,230.9 685.5,230.9 685.5,223.9 686.5,223.9 686.5,217.9 687.5,217.9 687.5,211.9 688.5,211.9 688.5,206.5 689.5,206.5 689.5,201.2 690.5,201.2 690.5,196.8 691.5,196.8 691.5,193.4 692.5,193.4 692.5,189.9 693.5,189.9 693.5,186.7 694.5,186.7 694.5,184.4 695.5,184.4 695.5,182.1 696.5,182.1 696.5,181.8 697.5,181.8 697.5,182.1 698.5,182.1 698.5,182.3 699.5,182.3 699.5,187.2 700.5,187.2 700.5,195.3 701.5,195.3 701.5,202.0 702.5,202.0 702.5,208.6 703.5,208.6 703.5,215.3 704.5,215.3 704.5,222.0 705.5,222.0 705.5,228.9 706.5,228.9 706.5,236.9 707.5,236.9 707.5,245.0 708.5,245.0 708.5,251.9 709.5,251.9 709.5,258.6 710.5,258.6 710.5,265.0 711.5,265.0 711.5,271.1 712.5,271.1 712.5,277.1 713.5,277.1 713.5,281.8 714.5,281.8 714.5,286.4 715.5,286.4 715.5,290.4 716.5,290.4 716.5,293.9 717.5,293.9 717.5,297.4 718.5,297.4 718.5,300.3 719.5,300.3 719.5,302.3 720.5,302.3 720.5,304.4 721.5,304.4 721.5,306.4 722.5,306.4 722.5,308.0 723.5,308.0 723.5,309.0 724.5,309.0 724.5,310.0 725.5,310.0 725.5,311.3 726.5,311.3 726.5,313.5 727.5,313.5 727.5,315.7 728.5,315.7 728.5,316.7" fill="#d6d4d8"/>
<polygon points="664.5,316.7 664.5,316.0 665.5,316.0 665.5,314.2 666.5,314.2 666.5,312.4 667.5,312.4 667.5,310.6 668.5,310.6 668.5,308.9 669.5,308.9 669.5,306.9 670.5,306.9 670.5,304.4 671.5,304.4 671.5,302.0 672.5,302.0 672.5,299.6 673.5,299.6 673.5,297.0 674.5,297.0 674.5,294.0 675.5,294.0 675.5,291.0 676.5,291.0 676.5,287.8 677.5,287.8 677.5,282.4 678.5,282.4 678.5,277.1 679.5,277.1 679.5,268.5 680.5,268.5 680.5,258.7 681.5,258.7 681.5,252.1 682.5,252.1 682.5,245.4 683.5,245.4 683.5,238.2 684.5,238.2 684.5,230.9 685.5,230.9 685.5,223.9 686.5,223.9 686.5,217.9 687.5,217.9 687.5,211.9 688.5,211.9 688.5,206.5 689.5,206.5 689.5,201.2 690.5,201.2 690.5,196.8 691.5,196.8 691.5,193.4 692.5,193.4 692.5,189.9 693.5,189.9 693.5,186.7 694.5,186.7 694.5,184.4 695.5,184.4 695.5,182.1 696.5,182.1 696.5,181.8 697.5,181.8 697.5,182.1 698.5,182.1 698.5,182.3 699.5,182.3 699.5,187.2 700.5,187.2 700.5,195.3 701.5,195.3 701.5,202.0 702.5,202.0 702.5,208.6 703.5,208.6 703.5,215.3 704.5,215.3 704.5,222.0 705.5,222.0 705.5,228.9 706.5,228.9 706.5,236.9 707.5,236.9 707.5,245.0 708.5,245.0 708.5,251.9 709.5,251.9 709.5,258.6 710.5,258.6 710.5,265.0 711.5,265.0 711.5,271.1 712.5,271.1 712.5,277.1 713.5,277.1 713.5,281.8 714.5,281.8 714.5,286.4 715.5,286.4 715.5,290.4 716.5,290.4 716.5,293.9 717.5,293.9 717.5,297.4 718.5,297.4 718.5,300.3 719.5,300.3 719.5,302.3 720.5,302.3 720.5,304.4 721.5,304.4 721.5,306.4 722.5,306.4 722.5,308.0 723.5,308.0 723.5,309.0 724.5,309.0 724.5,310.0 725.5,310.0 725.5,311.3 726.5,311.3 726.5,313.5 727.5,313.5 727.5,315.7 728.5,315.7 728.5,316.7" fill="#d7d4cf" clip-path="url(#c5)"/>
<polyline points="664.5,316.0 665.5,316.0 665.5,314.2 666.5,314.2 666.5,312.4 667.5,312.4 667.5,310.6 668.5,310.6 668.5,308.9 669.5,308.9 669.5,306.9 670.5,306.9 670.5,304.4 671.5,304.4 671.5,302.0 672.5,302.0 672.5,299.6 673.5,299.6 673.5,297.0 674.5,297.0 674.5,294.0 675.5,294.0 675.5,291.0 676.5,291.0 676.5,287.8 677.5,287.8 677.5,282.4 678.5,282.4 678.5,277.1 679.5,277.1 679.5,268.5 680.5,268.5 680.5,258.7 681.5,258.7 681.5,252.1 682.5,252.1 682.5,245.4 683.5,245.4 683.5,238.2 684.5,238.2 684.5,230.9 685.5,230.9 685.5,223.9 686.5,223.9 686.5,217.9 687.5,217.9 687.5,211.9 688.5,211.9 688.5,206.5 689.5,206.5 689.5,201.2 690.5,201.2 690.5,196.8 691.5,196.8 691.5,193.4 692.5,193.4 692.5,189.9 693.5,189.9 693.5,186.7 694.5,186.7 694.5,184.4 695.5,184.4 695.5,182.1 696.5,182.1 696.5,181.8 697.5,181.8 697.5,182.1 698.5,182.1 698.5,182.3 699.5,182.3 699.5,187.2 700.5,187.2 700.5,195.3 701.5,195.3 701.5,202.0 702.5,202.0 702.5,208.6 703.5,208.6 703.5,215.3 704.5,215.3 704.5,222.0 705.5,222.0 705.5,228.9 706.5,228.9 706.5,236.9 707.5,236.9 707.5,245.0 708.5,245.0 708.5,251.9 709.5,251.9 709.5,258.6 710.5,258.6 710.5,265.0 711.5,265.0 711.5,271.1 712.5,271.1 712.5,277.1 713.5,277.1 713.5,281.8 714.5,281.8 714.5,286.4 715.5,286.4 715.5,290.4 716.5,290.4 716.5,293.9 717.5,293.9 717.5,297.4 718.5,297.4 718.5,300.3 719.5,300.3 719.5,302.3 720.5,302.3 720.5,304.4 721.5,304.4 721.5,306.4 722.5,306.4 722.5,308.0 723.5,308.0 723.5,309.0 724.5,309.0 724.5,310.0 725.5,310.0 725.5,311.3 726.5,311.3 726.5,313.5 727.5,313.5 727.5,315.7 728.5,315.7" fill="none" stroke="#7a7a7a" stroke-width="0.9" stroke-linejoin="miter"/>
<polyline points="583.5,316.2 584.5,316.2 584.5,315.2 585.5,315.2 585.5,314.1 586.5,314.1 586.5,313.0 587.5,313.0 587.5,311.9 588.5,311.9 588.5,310.8 589.5,310.8 589.5,309.7 590.5,309.7 590.5,308.6 591.5,308.6 591.5,307.4 592.5,307.4 592.5,306.2 593.5,306.2 593.5,305.0 594.5,305.0 594.5,302.2 595.5,302.2 595.5,296.8 596.5,296.8 596.5,291.5 597.5,291.5 597.5,286.5 598.5,286.5 598.5,281.5 599.5,281.5 599.5,276.5 600.5,276.5 600.5,270.7 601.5,270.7 601.5,264.6 602.5,264.6 602.5,258.9 603.5,258.9 603.5,253.5 604.5,253.5 604.5,248.2 605.5,248.2 605.5,239.5 606.5,239.5 606.5,227.3 607.5,227.3 607.5,222.9 608.5,222.9 608.5,215.6 609.5,215.6 609.5,208.6 610.5,208.6 610.5,203.3 611.5,203.3 611.5,198.0 612.5,198.0 612.5,193.1 613.5,193.1 613.5,188.4 614.5,188.4 614.5,185.1 615.5,185.1 615.5,183.7 616.5,183.7 616.5,182.4 617.5,182.4 617.5,182.2 618.5,182.2 618.5,182.0 619.5,182.0 619.5,181.8 620.5,181.8 620.5,181.6 621.5,181.6 621.5,186.6 622.5,186.6 622.5,191.6 623.5,191.6 623.5,196.4 624.5,196.4 624.5,201.1 625.5,201.1 625.5,206.5 626.5,206.5 626.5,214.5 627.5,214.5 627.5,222.5 628.5,222.5 628.5,230.8 629.5,230.8 629.5,239.1 630.5,239.1 630.5,247.4 631.5,247.4 631.5,255.4 632.5,255.4 632.5,263.4 633.5,263.4 633.5,267.4 634.5,267.4 634.5,270.9 635.5,270.9 635.5,274.4 636.5,274.4 636.5,278.3 637.5,278.3 637.5,282.3 638.5,282.3 638.5,286.3 639.5,286.3 639.5,290.1 640.5,290.1 640.5,293.5 641.5,293.5 641.5,297.0 642.5,297.0 642.5,300.2 643.5,300.2 643.5,302.7 644.5,302.7 644.5,305.1 645.5,305.1 645.5,307.5 646.5,307.5 646.5,309.3 647.5,309.3 647.5,309.8 648.5,309.8 648.5,310.3 649.5,310.3 649.5,310.9 650.5,310.9 650.5,311.4 651.5,311.4 651.5,312.2 652.5,312.2 652.5,313.3 653.5,313.3 653.5,314.5 654.5,314.5 654.5,315.6 655.5,315.6" fill="none" stroke="#1c1c1c" stroke-width="0.85" stroke-linejoin="miter"/>
<line x1="540.4" y1="180.2" x2="753.6" y2="180.2" stroke="#363636" stroke-width="1.4"/>
<line x1="540.9" y1="179.7" x2="540.9" y2="316.7" stroke="#3a3a3a" stroke-width="1.9"/>
<line x1="753.6" y1="179.5" x2="753.6" y2="317.7" stroke="#080808" stroke-width="2.1"/>
<line x1="540.1" y1="316.7" x2="754.6" y2="316.7" stroke="#080808" stroke-width="1.8"/>
<path d="M538.7 197.3H540.9 M538.7 214.3H540.9 M538.7 231.4H540.9 M538.7 248.4H540.9 M538.7 265.5H540.9 M538.7 282.6H540.9 M538.7 299.6H540.9 M538.7 316.7H540.9 M540.9 316.7V321.5 M556.9 316.7V320.3 M566.3 316.7V320.3 M572.9 316.7V320.3 M578.1 316.7V320.3 M582.3 316.7V320.3 M585.8 316.7V320.3 M588.9 316.7V320.3 M591.6 316.7V320.3 M594.1 316.7V321.5 M610.1 316.7V320.3 M619.4 316.7V320.3 M626.1 316.7V320.3 M631.2 316.7V320.3 M635.5 316.7V320.3 M639.0 316.7V320.3 M642.1 316.7V320.3 M644.8 316.7V320.3 M647.2 316.7V321.5 M663.3 316.7V320.3 M672.6 316.7V320.3 M679.3 316.7V320.3 M684.4 316.7V320.3 M688.6 316.7V320.3 M692.2 316.7V320.3 M695.3 316.7V320.3 M698.0 316.7V320.3 M700.4 316.7V321.5 M716.4 316.7V320.3 M725.8 316.7V320.3 M732.4 316.7V320.3 M737.6 316.7V320.3 M741.8 316.7V320.3 M745.4 316.7V320.3 M748.4 316.7V320.3 M751.2 316.7V320.3 M753.6 316.7V321.5" stroke="#111" stroke-width="1.35" fill="none"/>
<line x1="644" y1="277.9" x2="750.7" y2="277.9" stroke="#222" stroke-width="1.3"/>
<text x="0" y="0" transform="translate(654.3,295.0) scale(1.1,1)" font-family="Liberation Sans, sans-serif" font-size="11.5" letter-spacing="0.25" fill="#1a1a1a" stroke="#1a1a1a" stroke-width="0.15">99.72<tspan dx="1.6">%</tspan></text>
<text x="610.2" y="345.0" font-family="Liberation Serif, serif" font-size="17.8" fill="#000">CD44 PE</text>
<text transform="translate(531.9,185.9) rotate(-90)" text-anchor="middle" font-family="Liberation Serif, serif" font-size="17.8" fill="#000">78</text>
<text transform="translate(526.1,256.1) rotate(-90)" text-anchor="middle" font-family="Liberation Serif, serif" font-size="17.8" fill="#000">Events</text>
<text transform="translate(531.1,318.8) rotate(-90)" text-anchor="middle" font-family="Liberation Serif, serif" font-size="17.8" fill="#000">0</text>
<polygon points="70.5,499.6 71.5,499.6 71.5,498.6 72.5,498.6 72.5,497.6 73.5,497.6 73.5,496.5 74.5,496.5 74.5,495.5 75.5,495.5 75.5,494.5 76.5,494.5 76.5,493.5 77.5,493.5 77.5,492.5 78.5,492.5 78.5,491.5 79.5,491.5 79.5,490.5 80.5,490.5 80.5,487.7 81.5,487.7 81.5,483.2 82.5,483.2 82.5,478.7 83.5,478.7 83.5,474.2 84.5,474.2 84.5,469.7 85.5,469.7 85.5,465.2 86.5,465.2 86.5,460.7 87.5,460.7 87.5,456.1 88.5,456.1 88.5,451.6 89.5,451.6 89.5,445.8 90.5,445.8 90.5,439.1 91.5,439.1 91.5,432.3 92.5,432.3 92.5,425.0 93.5,425.0 93.5,417.7 94.5,417.7 94.5,409.8 95.5,409.8 95.5,401.7 96.5,401.7 96.5,394.2 97.5,394.2 97.5,387.6 98.5,387.6 98.5,380.9 99.5,380.9 99.5,376.2 100.5,376.2 100.5,371.5 101.5,371.5 101.5,368.6 102.5,368.6 102.5,366.9 103.5,366.9 103.5,365.6 104.5,365.6 104.5,365.8 105.5,365.8 105.5,366.0 106.5,366.0 106.5,366.2 107.5,366.2 107.5,367.3 108.5,367.3 108.5,372.0 109.5,372.0 109.5,376.7 110.5,376.7 110.5,382.4 111.5,382.4 111.5,388.5 112.5,388.5 112.5,392.1 113.5,392.1 113.5,403.3 114.5,403.3 114.5,411.3 115.5,411.3 115.5,418.0 116.5,418.0 116.5,424.7 117.5,424.7 117.5,430.9 118.5,430.9 118.5,436.6 119.5,436.6 119.5,442.3 120.5,442.3 120.5,447.7 121.5,447.7 121.5,453.1 122.5,453.1 122.5,457.1 123.5,457.1 123.5,460.6 124.5,460.6 124.5,464.1 125.5,464.1 125.5,467.4 126.5,467.4 126.5,470.4 127.5,470.4 127.5,473.5 128.5,473.5 128.5,476.5 129.5,476.5 129.5,479.5 130.5,479.5 130.5,482.5 131.5,482.5 131.5,485.5 132.5,485.5 132.5,488.1 133.5,488.1 133.5,490.4 134.5,490.4 134.5,492.6 135.5,492.6 135.5,494.4 136.5,494.4 136.5,495.2 137.5,495.2 137.5,496.1 138.5,496.1 138.5,497.0 139.5,497.0 139.5,497.9 140.5,497.9 140.5,498.8 141.5,498.8 141.5,499.7 142.5,499.7" fill="#fefcf8"/>
<polygon points="92.5,500.0 92.5,499.7 93.5,499.7 93.5,499.4 94.5,499.4 94.5,498.9 95.5,498.9 95.5,498.4 96.5,498.4 96.5,497.8 97.5,497.8 97.5,497.3 98.5,497.3 98.5,496.8 99.5,496.8 99.5,496.2 100.5,496.2 100.5,495.2 101.5,495.2 101.5,494.2 102.5,494.2 102.5,493.2 103.5,493.2 103.5,492.2 104.5,492.2 104.5,490.9 105.5,490.9 105.5,489.3 106.5,489.3 106.5,487.7 107.5,487.7 107.5,486.1 108.5,486.1 108.5,483.8 109.5,483.8 109.5,480.4 110.5,480.4 110.5,477.1 111.5,477.1 111.5,474.6 112.5,474.6 112.5,472.1 113.5,472.1 113.5,469.6 114.5,469.6 114.5,464.8 115.5,464.8 115.5,459.5 116.5,459.5 116.5,453.7 117.5,453.7 117.5,447.3 118.5,447.3 118.5,440.8 119.5,440.8 119.5,436.1 120.5,436.1 120.5,431.6 121.5,431.6 121.5,427.1 122.5,427.1 122.5,420.6 123.5,420.6 123.5,413.3 124.5,413.3 124.5,406.0 125.5,406.0 125.5,399.0 126.5,399.0 126.5,394.6 127.5,394.6 127.5,391.3 128.5,391.3 128.5,388.0 129.5,388.0 129.5,384.5 130.5,384.5 130.5,380.9 131.5,380.9 131.5,377.4 132.5,377.4 132.5,375.4 133.5,375.4 133.5,374.4 134.5,374.4 134.5,373.4 135.5,373.4 135.5,371.5 136.5,371.5 136.5,368.1 137.5,368.1 137.5,364.8 138.5,364.8 138.5,364.8 139.5,364.8 139.5,364.8 140.5,364.8 140.5,378.9 141.5,378.9 141.5,383.1 142.5,383.1 142.5,385.8 143.5,385.8 143.5,388.5 144.5,388.5 144.5,391.3 145.5,391.3 145.5,393.3 146.5,393.3 146.5,394.9 147.5,394.9 147.5,396.6 148.5,396.6 148.5,398.3 149.5,398.3 149.5,399.9 150.5,399.9 150.5,404.9 151.5,404.9 151.5,410.2 152.5,410.2 152.5,415.2 153.5,415.2 153.5,419.7 154.5,419.7 154.5,424.2 155.5,424.2 155.5,428.9 156.5,428.9 156.5,433.9 157.5,433.9 157.5,438.9 158.5,438.9 158.5,443.8 159.5,443.8 159.5,447.8 160.5,447.8 160.5,451.9 161.5,451.9 161.5,455.9 162.5,455.9 162.5,459.9 163.5,459.9 163.5,463.9 164.5,463.9 164.5,466.9 165.5,466.9 165.5,468.9 166.5,468.9 166.5,470.9 167.5,470.9 167.5,473.0 168.5,473.0 168.5,475.4 169.5,475.4 169.5,477.8 170.5,477.8 170.5,480.2 171.5,480.2 171.5,482.4 172.5,482.4 172.5,484.0 173.5,484.0 173.5,485.6 174.5,485.6 174.5,487.2 175.5,487.2 175.5,488.5 176.5,488.5 176.5,489.2 177.5,489.2 177.5,489.9 178.5,489.9 178.5,490.6 179.5,490.6 179.5,491.3 180.5,491.3 180.5,492.3 181.5,492.3 181.5,493.8 182.5,493.8 182.5,495.2 183.5,495.2 183.5,496.6 184.5,496.6 184.5,497.4 185.5,497.4 185.5,498.2 186.5,498.2 186.5,499.0 187.5,499.0 187.5,499.7 188.5,499.7 188.5,500.0" fill="#d6d4d8"/>
<polygon points="92.5,500.0 92.5,499.7 93.5,499.7 93.5,499.4 94.5,499.4 94.5,498.9 95.5,498.9 95.5,498.4 96.5,498.4 96.5,497.8 97.5,497.8 97.5,497.3 98.5,497.3 98.5,496.8 99.5,496.8 99.5,496.2 100.5,496.2 100.5,495.2 101.5,495.2 101.5,494.2 102.5,494.2 102.5,493.2 103.5,493.2 103.5,492.2 104.5,492.2 104.5,490.9 105.5,490.9 105.5,489.3 106.5,489.3 106.5,487.7 107.5,487.7 107.5,486.1 108.5,486.1 108.5,483.8 109.5,483.8 109.5,480.4 110.5,480.4 110.5,477.1 111.5,477.1 111.5,474.6 112.5,474.6 112.5,472.1 113.5,472.1 113.5,469.6 114.5,469.6 114.5,464.8 115.5,464.8 115.5,459.5 116.5,459.5 116.5,453.7 117.5,453.7 117.5,447.3 118.5,447.3 118.5,440.8 119.5,440.8 119.5,436.1 120.5,436.1 120.5,431.6 121.5,431.6 121.5,427.1 122.5,427.1 122.5,420.6 123.5,420.6 123.5,413.3 124.5,413.3 124.5,406.0 125.5,406.0 125.5,399.0 126.5,399.0 126.5,394.6 127.5,394.6 127.5,391.3 128.5,391.3 128.5,388.0 129.5,388.0 129.5,384.5 130.5,384.5 130.5,380.9 131.5,380.9 131.5,377.4 132.5,377.4 132.5,375.4 133.5,375.4 133.5,374.4 134.5,374.4 134.5,373.4 135.5,373.4 135.5,371.5 136.5,371.5 136.5,368.1 137.5,368.1 137.5,364.8 138.5,364.8 138.5,364.8 139.5,364.8 139.5,364.8 140.5,364.8 140.5,378.9 141.5,378.9 141.5,383.1 142.5,383.1 142.5,385.8 143.5,385.8 143.5,388.5 144.5,388.5 144.5,391.3 145.5,391.3 145.5,393.3 146.5,393.3 146.5,394.9 147.5,394.9 147.5,396.6 148.5,396.6 148.5,398.3 149.5,398.3 149.5,399.9 150.5,399.9 150.5,404.9 151.5,404.9 151.5,410.2 152.5,410.2 152.5,415.2 153.5,415.2 153.5,419.7 154.5,419.7 154.5,424.2 155.5,424.2 155.5,428.9 156.5,428.9 156.5,433.9 157.5,433.9 157.5,438.9 158.5,438.9 158.5,443.8 159.5,443.8 159.5,447.8 160.5,447.8 160.5,451.9 161.5,451.9 161.5,455.9 162.5,455.9 162.5,459.9 163.5,459.9 163.5,463.9 164.5,463.9 164.5,466.9 165.5,466.9 165.5,468.9 166.5,468.9 166.5,470.9 167.5,470.9 167.5,473.0 168.5,473.0 168.5,475.4 169.5,475.4 169.5,477.8 170.5,477.8 170.5,480.2 171.5,480.2 171.5,482.4 172.5,482.4 172.5,484.0 173.5,484.0 173.5,485.6 174.5,485.6 174.5,487.2 175.5,487.2 175.5,488.5 176.5,488.5 176.5,489.2 177.5,489.2 177.5,489.9 178.5,489.9 178.5,490.6 179.5,490.6 179.5,491.3 180.5,491.3 180.5,492.3 181.5,492.3 181.5,493.8 182.5,493.8 182.5,495.2 183.5,495.2 183.5,496.6 184.5,496.6 184.5,497.4 185.5,497.4 185.5,498.2 186.5,498.2 186.5,499.0 187.5,499.0 187.5,499.7 188.5,499.7 188.5,500.0" fill="#d7d4cf" clip-path="url(#c6)"/>
<polyline points="92.5,499.7 93.5,499.7 93.5,499.4 94.5,499.4 94.5,498.9 95.5,498.9 95.5,498.4 96.5,498.4 96.5,497.8 97.5,497.8 97.5,497.3 98.5,497.3 98.5,496.8 99.5,496.8 99.5,496.2 100.5,496.2 100.5,495.2 101.5,495.2 101.5,494.2 102.5,494.2 102.5,493.2 103.5,493.2 103.5,492.2 104.5,492.2 104.5,490.9 105.5,490.9 105.5,489.3 106.5,489.3 106.5,487.7 107.5,487.7 107.5,486.1 108.5,486.1 108.5,483.8 109.5,483.8 109.5,480.4 110.5,480.4 110.5,477.1 111.5,477.1 111.5,474.6 112.5,474.6 112.5,472.1 113.5,472.1 113.5,469.6 114.5,469.6 114.5,464.8 115.5,464.8 115.5,459.5 116.5,459.5 116.5,453.7 117.5,453.7 117.5,447.3 118.5,447.3 118.5,440.8 119.5,440.8 119.5,436.1 120.5,436.1 120.5,431.6 121.5,431.6 121.5,427.1 122.5,427.1 122.5,420.6 123.5,420.6 123.5,413.3 124.5,413.3 124.5,406.0 125.5,406.0 125.5,399.0 126.5,399.0 126.5,394.6 127.5,394.6 127.5,391.3 128.5,391.3 128.5,388.0 129.5,388.0 129.5,384.5 130.5,384.5 130.5,380.9 131.5,380.9 131.5,377.4 132.5,377.4 132.5,375.4 133.5,375.4 133.5,374.4 134.5,374.4 134.5,373.4 135.5,373.4 135.5,371.5 136.5,371.5 136.5,368.1 137.5,368.1 137.5,364.8 138.5,364.8 138.5,364.8 139.5,364.8 139.5,364.8 140.5,364.8 140.5,378.9 141.5,378.9 141.5,383.1 142.5,383.1 142.5,385.8 143.5,385.8 143.5,388.5 144.5,388.5 144.5,391.3 145.5,391.3 145.5,393.3 146.5,393.3 146.5,394.9 147.5,394.9 147.5,396.6 148.5,396.6 148.5,398.3 149.5,398.3 149.5,399.9 150.5,399.9 150.5,404.9 151.5,404.9 151.5,410.2 152.5,410.2 152.5,415.2 153.5,415.2 153.5,419.7 154.5,419.7 154.5,424.2 155.5,424.2 155.5,428.9 156.5,428.9 156.5,433.9 157.5,433.9 157.5,438.9 158.5,438.9 158.5,443.8 159.5,443.8 159.5,447.8 160.5,447.8 160.5,451.9 161.5,451.9 161.5,455.9 162.5,455.9 162.5,459.9 163.5,459.9 163.5,463.9 164.5,463.9 164.5,466.9 165.5,466.9 165.5,468.9 166.5,468.9 166.5,470.9 167.5,470.9 167.5,473.0 168.5,473.0 168.5,475.4 169.5,475.4 169.5,477.8 170.5,477.8 170.5,480.2 171.5,480.2 171.5,482.4 172.5,482.4 172.5,484.0 173.5,484.0 173.5,485.6 174.5,485.6 174.5,487.2 175.5,487.2 175.5,488.5 176.5,488.5 176.5,489.2 177.5,489.2 177.5,489.9 178.5,489.9 178.5,490.6 179.5,490.6 179.5,491.3 180.5,491.3 180.5,492.3 181.5,492.3 181.5,493.8 182.5,493.8 182.5,495.2 183.5,495.2 183.5,496.6 184.5,496.6 184.5,497.4 185.5,497.4 185.5,498.2 186.5,498.2 186.5,499.0 187.5,499.0 187.5,499.7 188.5,499.7" fill="none" stroke="#7a7a7a" stroke-width="0.9" stroke-linejoin="miter"/>
<polyline points="70.5,499.6 71.5,499.6 71.5,498.6 72.5,498.6 72.5,497.6 73.5,497.6 73.5,496.5 74.5,496.5 74.5,495.5 75.5,495.5 75.5,494.5 76.5,494.5 76.5,493.5 77.5,493.5 77.5,492.5 78.5,492.5 78.5,491.5 79.5,491.5 79.5,490.5 80.5,490.5 80.5,487.7 81.5,487.7 81.5,483.2 82.5,483.2 82.5,478.7 83.5,478.7 83.5,474.2 84.5,474.2 84.5,469.7 85.5,469.7 85.5,465.2 86.5,465.2 86.5,460.7 87.5,460.7 87.5,456.1 88.5,456.1 88.5,451.6 89.5,451.6 89.5,445.8 90.5,445.8 90.5,439.1 91.5,439.1 91.5,432.3 92.5,432.3 92.5,425.0 93.5,425.0 93.5,417.7 94.5,417.7 94.5,409.8 95.5,409.8 95.5,401.7 96.5,401.7 96.5,394.2 97.5,394.2 97.5,387.6 98.5,387.6 98.5,380.9 99.5,380.9 99.5,376.2 100.5,376.2 100.5,371.5 101.5,371.5 101.5,368.6 102.5,368.6 102.5,366.9 103.5,366.9 103.5,365.6 104.5,365.6 104.5,365.8 105.5,365.8 105.5,366.0 106.5,366.0 106.5,366.2 107.5,366.2 107.5,367.3 108.5,367.3 108.5,372.0 109.5,372.0 109.5,376.7 110.5,376.7 110.5,382.4 111.5,382.4 111.5,388.5 112.5,388.5 112.5,392.1 113.5,392.1 113.5,403.3 114.5,403.3 114.5,411.3 115.5,411.3 115.5,418.0 116.5,418.0 116.5,424.7 117.5,424.7 117.5,430.9 118.5,430.9 118.5,436.6 119.5,436.6 119.5,442.3 120.5,442.3 120.5,447.7 121.5,447.7 121.5,453.1 122.5,453.1 122.5,457.1 123.5,457.1 123.5,460.6 124.5,460.6 124.5,464.1 125.5,464.1 125.5,467.4 126.5,467.4 126.5,470.4 127.5,470.4 127.5,473.5 128.5,473.5 128.5,476.5 129.5,476.5 129.5,479.5 130.5,479.5 130.5,482.5 131.5,482.5 131.5,485.5 132.5,485.5 132.5,488.1 133.5,488.1 133.5,490.4 134.5,490.4 134.5,492.6 135.5,492.6 135.5,494.4 136.5,494.4 136.5,495.2 137.5,495.2 137.5,496.1 138.5,496.1 138.5,497.0 139.5,497.0 139.5,497.9 140.5,497.9 140.5,498.8 141.5,498.8 141.5,499.7 142.5,499.7" fill="none" stroke="#1c1c1c" stroke-width="0.85" stroke-linejoin="miter"/>
<line x1="27.7" y1="363.8" x2="240.7" y2="363.8" stroke="#363636" stroke-width="1.4"/>
<line x1="28.2" y1="363.3" x2="28.2" y2="500" stroke="#3a3a3a" stroke-width="1.9"/>
<line x1="240.7" y1="363.1" x2="240.7" y2="501" stroke="#080808" stroke-width="2.1"/>
<line x1="27.4" y1="500" x2="241.7" y2="500" stroke="#080808" stroke-width="1.8"/>
<path d="M26.0 380.8H28.2 M26.0 397.9H28.2 M26.0 414.9H28.2 M26.0 431.9H28.2 M26.0 448.9H28.2 M26.0 465.9H28.2 M26.0 483.0H28.2 M26.0 500.0H28.2 M28.2 500V504.8 M44.2 500V503.6 M53.5 500V503.6 M60.2 500V503.6 M65.3 500V503.6 M69.5 500V503.6 M73.1 500V503.6 M76.2 500V503.6 M78.9 500V503.6 M81.3 500V504.8 M97.3 500V503.6 M106.7 500V503.6 M113.3 500V503.6 M118.5 500V503.6 M122.7 500V503.6 M126.2 500V503.6 M129.3 500V503.6 M132.0 500V503.6 M134.4 500V504.8 M150.4 500V503.6 M159.8 500V503.6 M166.4 500V503.6 M171.6 500V503.6 M175.8 500V503.6 M179.3 500V503.6 M182.4 500V503.6 M185.1 500V503.6 M187.6 500V504.8 M203.6 500V503.6 M212.9 500V503.6 M219.6 500V503.6 M224.7 500V503.6 M228.9 500V503.6 M232.5 500V503.6 M235.6 500V503.6 M238.3 500V503.6 M240.7 500V504.8" stroke="#111" stroke-width="1.35" fill="none"/>
<line x1="131.1" y1="464.4" x2="235.4" y2="464.4" stroke="#222" stroke-width="1.3"/>
<text x="0" y="0" transform="translate(141.4,481.4) scale(1.1,1)" font-family="Liberation Sans, sans-serif" font-size="11.5" letter-spacing="0.25" fill="#1a1a1a" stroke="#1a1a1a" stroke-width="0.15">64.13<tspan dx="1.6">%</tspan></text>
<text x="97.1" y="528.0" font-family="Liberation Serif, serif" font-size="17.8" fill="#000">CD73 PE</text>
<text transform="translate(16.9,370.2) rotate(-90)" text-anchor="middle" font-family="Liberation Serif, serif" font-size="17.8" fill="#000">66</text>
<text transform="translate(12.3,439.5) rotate(-90)" text-anchor="middle" font-family="Liberation Serif, serif" font-size="17.8" fill="#000">Events</text>
<text transform="translate(16.5,500.2) rotate(-90)" text-anchor="middle" font-family="Liberation Serif, serif" font-size="17.8" fill="#000">0</text>
<polygon points="330.5,499.0 331.5,499.0 331.5,497.7 332.5,497.7 332.5,496.5 333.5,496.5 333.5,495.3 334.5,495.3 334.5,494.1 335.5,494.1 335.5,492.9 336.5,492.9 336.5,491.9 337.5,491.9 337.5,490.9 338.5,490.9 338.5,489.8 339.5,489.8 339.5,488.8 340.5,488.8 340.5,485.7 341.5,485.7 341.5,480.6 342.5,480.6 342.5,475.5 343.5,475.5 343.5,471.0 344.5,471.0 344.5,466.5 345.5,466.5 345.5,462.0 346.5,462.0 346.5,457.1 347.5,457.1 347.5,452.0 348.5,452.0 348.5,447.0 349.5,447.0 349.5,441.4 350.5,441.4 350.5,435.4 351.5,435.4 351.5,429.0 352.5,429.0 352.5,421.0 353.5,421.0 353.5,412.9 354.5,412.9 354.5,405.4 355.5,405.4 355.5,398.1 356.5,398.1 356.5,391.0 357.5,391.0 357.5,384.3 358.5,384.3 358.5,377.6 359.5,377.6 359.5,373.6 360.5,373.6 360.5,369.6 361.5,369.6 361.5,367.2 362.5,367.2 362.5,366.0 363.5,366.0 363.5,364.8 364.5,364.8 364.5,364.1 365.5,364.1 365.5,364.3 366.5,364.3 366.5,364.5 367.5,364.5 367.5,364.7 368.5,364.7 368.5,366.9 369.5,366.9 369.5,372.3 370.5,372.3 370.5,377.6 371.5,377.6 371.5,384.3 372.5,384.3 372.5,391.0 373.5,391.0 373.5,398.9 374.5,398.9 374.5,407.6 375.5,407.6 375.5,415.8 376.5,415.8 376.5,422.6 377.5,422.6 377.5,429.3 378.5,429.3 378.5,435.7 379.5,435.7 379.5,442.1 380.5,442.1 380.5,447.8 381.5,447.8 381.5,451.8 382.5,451.8 382.5,455.9 383.5,455.9 383.5,459.9 384.5,459.9 384.5,463.7 385.5,463.7 385.5,467.5 386.5,467.5 386.5,470.0 387.5,470.0 387.5,472.5 388.5,472.5 388.5,475.0 389.5,475.0 389.5,477.7 390.5,477.7 390.5,480.5 391.5,480.5 391.5,483.3 392.5,483.3 392.5,486.1 393.5,486.1 393.5,488.3 394.5,488.3 394.5,490.4 395.5,490.4 395.5,492.4 396.5,492.4 396.5,493.9 397.5,493.9 397.5,495.2 398.5,495.2 398.5,496.4 399.5,496.4 399.5,497.6 400.5,497.6 400.5,498.9 401.5,498.9" fill="#fefcf8"/>
<polygon points="346.5,499.7 346.5,499.1 347.5,499.1 347.5,499.0 348.5,499.0 348.5,498.9 349.5,498.9 349.5,498.8 350.5,498.8 350.5,498.6 351.5,498.6 351.5,498.5 352.5,498.5 352.5,498.4 353.5,498.4 353.5,498.3 354.5,498.3 354.5,498.2 355.5,498.2 355.5,498.1 356.5,498.1 356.5,497.4 357.5,497.4 357.5,495.9 358.5,495.9 358.5,494.4 359.5,494.4 359.5,493.1 360.5,493.1 360.5,492.6 361.5,492.6 361.5,492.1 362.5,492.1 362.5,491.6 363.5,491.6 363.5,491.1 364.5,491.1 364.5,490.6 365.5,490.6 365.5,490.1 366.5,490.1 366.5,489.4 367.5,489.4 367.5,488.6 368.5,488.6 368.5,487.9 369.5,487.9 369.5,487.1 370.5,487.1 370.5,486.3 371.5,486.3 371.5,485.6 372.5,485.6 372.5,484.8 373.5,484.8 373.5,484.2 374.5,484.2 374.5,483.5 375.5,483.5 375.5,482.8 376.5,482.8 376.5,482.2 377.5,482.2 377.5,481.0 378.5,481.0 378.5,479.6 379.5,479.6 379.5,478.1 380.5,478.1 380.5,477.0 381.5,477.0 381.5,476.7 382.5,476.7 382.5,476.3 383.5,476.3 383.5,476.0 384.5,476.0 384.5,475.7 385.5,475.7 385.5,476.2 386.5,476.2 386.5,477.5 387.5,477.5 387.5,478.8 388.5,478.8 388.5,480.2 389.5,480.2 389.5,481.5 390.5,481.5 390.5,481.9 391.5,481.9 391.5,481.9 392.5,481.9 392.5,481.3 393.5,481.3 393.5,480.3 394.5,480.3 394.5,479.3 395.5,479.3 395.5,478.4 396.5,478.4 396.5,477.8 397.5,477.8 397.5,477.1 398.5,477.1 398.5,476.4 399.5,476.4 399.5,475.8 400.5,475.8 400.5,475.9 401.5,475.9 401.5,476.5 402.5,476.5 402.5,477.2 403.5,477.2 403.5,477.9 404.5,477.9 404.5,478.5 405.5,478.5 405.5,478.0 406.5,478.0 406.5,477.0 407.5,477.0 407.5,476.0 408.5,476.0 408.5,475.0 409.5,475.0 409.5,474.0 410.5,474.0 410.5,474.2 411.5,474.2 411.5,474.5 412.5,474.5 412.5,474.9 413.5,474.9 413.5,475.2 414.5,475.2 414.5,475.4 415.5,475.4 415.5,474.4 416.5,474.4 416.5,473.4 417.5,473.4 417.5,472.4 418.5,472.4 418.5,470.7 419.5,470.7 419.5,469.0 420.5,469.0 420.5,467.2 421.5,467.2 421.5,465.5 422.5,465.5 422.5,463.7 423.5,463.7 423.5,462.0 424.5,462.0 424.5,461.3 425.5,461.3 425.5,461.6 426.5,461.6 426.5,461.9 427.5,461.9 427.5,462.3 428.5,462.3 428.5,462.6 429.5,462.6 429.5,460.9 430.5,460.9 430.5,458.4 431.5,458.4 431.5,455.9 432.5,455.9 432.5,453.7 433.5,453.7 433.5,451.7 434.5,451.7 434.5,449.6 435.5,449.6 435.5,447.3 436.5,447.3 436.5,444.3 437.5,444.3 437.5,441.3 438.5,441.3 438.5,438.3 439.5,438.3 439.5,435.4 440.5,435.4 440.5,432.5 441.5,432.5 441.5,429.6 442.5,429.6 442.5,426.6 443.5,426.6 443.5,423.6 444.5,423.6 444.5,420.6 445.5,420.6 445.5,417.4 446.5,417.4 446.5,414.0 447.5,414.0 447.5,411.9 448.5,411.9 448.5,414.9 449.5,414.9 449.5,418.0 450.5,418.0 450.5,421.0 451.5,421.0 451.5,414.3 452.5,414.3 452.5,407.6 453.5,407.6 453.5,401.7 454.5,401.7 454.5,396.4 455.5,396.4 455.5,391.0 456.5,391.0 456.5,385.7 457.5,385.7 457.5,380.4 458.5,380.4 458.5,376.5 459.5,376.5 459.5,372.9 460.5,372.9 460.5,369.4 461.5,369.4 461.5,367.7 462.5,367.7 462.5,367.2 463.5,367.2 463.5,366.7 464.5,366.7 464.5,366.1 465.5,366.1 465.5,365.4 466.5,365.4 466.5,364.6 467.5,364.6 467.5,364.1 468.5,364.1 468.5,364.7 469.5,364.7 469.5,365.3 470.5,365.3 470.5,365.9 471.5,365.9 471.5,367.3 472.5,367.3 472.5,372.0 473.5,372.0 473.5,376.7 474.5,376.7 474.5,382.0 475.5,382.0 475.5,387.6 476.5,387.6 476.5,393.1 477.5,393.1 477.5,397.9 478.5,397.9 478.5,402.3 479.5,402.3 479.5,406.6 480.5,406.6 480.5,411.7 481.5,411.7 481.5,418.4 482.5,418.4 482.5,425.1 483.5,425.1 483.5,428.0 484.5,428.0 484.5,430.5 485.5,430.5 485.5,433.0 486.5,433.0 486.5,437.1 487.5,437.1 487.5,441.7 488.5,441.7 488.5,446.2 489.5,446.2 489.5,450.3 490.5,450.3 490.5,454.3 491.5,454.3 491.5,457.7 492.5,457.7 492.5,461.0 493.5,461.0 493.5,464.2 494.5,464.2 494.5,467.2 495.5,467.2 495.5,470.2 496.5,470.2 496.5,473.7 497.5,473.7 497.5,478.4 498.5,478.4 498.5,483.0 499.5,483.0 499.5,499.7" fill="#d6d4d8"/>
<polygon points="346.5,499.7 346.5,499.1 347.5,499.1 347.5,499.0 348.5,499.0 348.5,498.9 349.5,498.9 349.5,498.8 350.5,498.8 350.5,498.6 351.5,498.6 351.5,498.5 352.5,498.5 352.5,498.4 353.5,498.4 353.5,498.3 354.5,498.3 354.5,498.2 355.5,498.2 355.5,498.1 356.5,498.1 356.5,497.4 357.5,497.4 357.5,495.9 358.5,495.9 358.5,494.4 359.5,494.4 359.5,493.1 360.5,493.1 360.5,492.6 361.5,492.6 361.5,492.1 362.5,492.1 362.5,491.6 363.5,491.6 363.5,491.1 364.5,491.1 364.5,490.6 365.5,490.6 365.5,490.1 366.5,490.1 366.5,489.4 367.5,489.4 367.5,488.6 368.5,488.6 368.5,487.9 369.5,487.9 369.5,487.1 370.5,487.1 370.5,486.3 371.5,486.3 371.5,485.6 372.5,485.6 372.5,484.8 373.5,484.8 373.5,484.2 374.5,484.2 374.5,483.5 375.5,483.5 375.5,482.8 376.5,482.8 376.5,482.2 377.5,482.2 377.5,481.0 378.5,481.0 378.5,479.6 379.5,479.6 379.5,478.1 380.5,478.1 380.5,477.0 381.5,477.0 381.5,476.7 382.5,476.7 382.5,476.3 383.5,476.3 383.5,476.0 384.5,476.0 384.5,475.7 385.5,475.7 385.5,476.2 386.5,476.2 386.5,477.5 387.5,477.5 387.5,478.8 388.5,478.8 388.5,480.2 389.5,480.2 389.5,481.5 390.5,481.5 390.5,481.9 391.5,481.9 391.5,481.9 392.5,481.9 392.5,481.3 393.5,481.3 393.5,480.3 394.5,480.3 394.5,479.3 395.5,479.3 395.5,478.4 396.5,478.4 396.5,477.8 397.5,477.8 397.5,477.1 398.5,477.1 398.5,476.4 399.5,476.4 399.5,475.8 400.5,475.8 400.5,475.9 401.5,475.9 401.5,476.5 402.5,476.5 402.5,477.2 403.5,477.2 403.5,477.9 404.5,477.9 404.5,478.5 405.5,478.5 405.5,478.0 406.5,478.0 406.5,477.0 407.5,477.0 407.5,476.0 408.5,476.0 408.5,475.0 409.5,475.0 409.5,474.0 410.5,474.0 410.5,474.2 411.5,474.2 411.5,474.5 412.5,474.5 412.5,474.9 413.5,474.9 413.5,475.2 414.5,475.2 414.5,475.4 415.5,475.4 415.5,474.4 416.5,474.4 416.5,473.4 417.5,473.4 417.5,472.4 418.5,472.4 418.5,470.7 419.5,470.7 419.5,469.0 420.5,469.0 420.5,467.2 421.5,467.2 421.5,465.5 422.5,465.5 422.5,463.7 423.5,463.7 423.5,462.0 424.5,462.0 424.5,461.3 425.5,461.3 425.5,461.6 426.5,461.6 426.5,461.9 427.5,461.9 427.5,462.3 428.5,462.3 428.5,462.6 429.5,462.6 429.5,460.9 430.5,460.9 430.5,458.4 431.5,458.4 431.5,455.9 432.5,455.9 432.5,453.7 433.5,453.7 433.5,451.7 434.5,451.7 434.5,449.6 435.5,449.6 435.5,447.3 436.5,447.3 436.5,444.3 437.5,444.3 437.5,441.3 438.5,441.3 438.5,438.3 439.5,438.3 439.5,435.4 440.5,435.4 440.5,432.5 441.5,432.5 441.5,429.6 442.5,429.6 442.5,426.6 443.5,426.6 443.5,423.6 444.5,423.6 444.5,420.6 445.5,420.6 445.5,417.4 446.5,417.4 446.5,414.0 447.5,414.0 447.5,411.9 448.5,411.9 448.5,414.9 449.5,414.9 449.5,418.0 450.5,418.0 450.5,421.0 451.5,421.0 451.5,414.3 452.5,414.3 452.5,407.6 453.5,407.6 453.5,401.7 454.5,401.7 454.5,396.4 455.5,396.4 455.5,391.0 456.5,391.0 456.5,385.7 457.5,385.7 457.5,380.4 458.5,380.4 458.5,376.5 459.5,376.5 459.5,372.9 460.5,372.9 460.5,369.4 461.5,369.4 461.5,367.7 462.5,367.7 462.5,367.2 463.5,367.2 463.5,366.7 464.5,366.7 464.5,366.1 465.5,366.1 465.5,365.4 466.5,365.4 466.5,364.6 467.5,364.6 467.5,364.1 468.5,364.1 468.5,364.7 469.5,364.7 469.5,365.3 470.5,365.3 470.5,365.9 471.5,365.9 471.5,367.3 472.5,367.3 472.5,372.0 473.5,372.0 473.5,376.7 474.5,376.7 474.5,382.0 475.5,382.0 475.5,387.6 476.5,387.6 476.5,393.1 477.5,393.1 477.5,397.9 478.5,397.9 478.5,402.3 479.5,402.3 479.5,406.6 480.5,406.6 480.5,411.7 481.5,411.7 481.5,418.4 482.5,418.4 482.5,425.1 483.5,425.1 483.5,428.0 484.5,428.0 484.5,430.5 485.5,430.5 485.5,433.0 486.5,433.0 486.5,437.1 487.5,437.1 487.5,441.7 488.5,441.7 488.5,446.2 489.5,446.2 489.5,450.3 490.5,450.3 490.5,454.3 491.5,454.3 491.5,457.7 492.5,457.7 492.5,461.0 493.5,461.0 493.5,464.2 494.5,464.2 494.5,467.2 495.5,467.2 495.5,470.2 496.5,470.2 496.5,473.7 497.5,473.7 497.5,478.4 498.5,478.4 498.5,483.0 499.5,483.0 499.5,499.7" fill="#d7d4cf" clip-path="url(#c7)"/>
<polyline points="346.5,499.1 347.5,499.1 347.5,499.0 348.5,499.0 348.5,498.9 349.5,498.9 349.5,498.8 350.5,498.8 350.5,498.6 351.5,498.6 351.5,498.5 352.5,498.5 352.5,498.4 353.5,498.4 353.5,498.3 354.5,498.3 354.5,498.2 355.5,498.2 355.5,498.1 356.5,498.1 356.5,497.4 357.5,497.4 357.5,495.9 358.5,495.9 358.5,494.4 359.5,494.4 359.5,493.1 360.5,493.1 360.5,492.6 361.5,492.6 361.5,492.1 362.5,492.1 362.5,491.6 363.5,491.6 363.5,491.1 364.5,491.1 364.5,490.6 365.5,490.6 365.5,490.1 366.5,490.1 366.5,489.4 367.5,489.4 367.5,488.6 368.5,488.6 368.5,487.9 369.5,487.9 369.5,487.1 370.5,487.1 370.5,486.3 371.5,486.3 371.5,485.6 372.5,485.6 372.5,484.8 373.5,484.8 373.5,484.2 374.5,484.2 374.5,483.5 375.5,483.5 375.5,482.8 376.5,482.8 376.5,482.2 377.5,482.2 377.5,481.0 378.5,481.0 378.5,479.6 379.5,479.6 379.5,478.1 380.5,478.1 380.5,477.0 381.5,477.0 381.5,476.7 382.5,476.7 382.5,476.3 383.5,476.3 383.5,476.0 384.5,476.0 384.5,475.7 385.5,475.7 385.5,476.2 386.5,476.2 386.5,477.5 387.5,477.5 387.5,478.8 388.5,478.8 388.5,480.2 389.5,480.2 389.5,481.5 390.5,481.5 390.5,481.9 391.5,481.9 391.5,481.9 392.5,481.9 392.5,481.3 393.5,481.3 393.5,480.3 394.5,480.3 394.5,479.3 395.5,479.3 395.5,478.4 396.5,478.4 396.5,477.8 397.5,477.8 397.5,477.1 398.5,477.1 398.5,476.4 399.5,476.4 399.5,475.8 400.5,475.8 400.5,475.9 401.5,475.9 401.5,476.5 402.5,476.5 402.5,477.2 403.5,477.2 403.5,477.9 404.5,477.9 404.5,478.5 405.5,478.5 405.5,478.0 406.5,478.0 406.5,477.0 407.5,477.0 407.5,476.0 408.5,476.0 408.5,475.0 409.5,475.0 409.5,474.0 410.5,474.0 410.5,474.2 411.5,474.2 411.5,474.5 412.5,474.5 412.5,474.9 413.5,474.9 413.5,475.2 414.5,475.2 414.5,475.4 415.5,475.4 415.5,474.4 416.5,474.4 416.5,473.4 417.5,473.4 417.5,472.4 418.5,472.4 418.5,470.7 419.5,470.7 419.5,469.0 420.5,469.0 420.5,467.2 421.5,467.2 421.5,465.5 422.5,465.5 422.5,463.7 423.5,463.7 423.5,462.0 424.5,462.0 424.5,461.3 425.5,461.3 425.5,461.6 426.5,461.6 426.5,461.9 427.5,461.9 427.5,462.3 428.5,462.3 428.5,462.6 429.5,462.6 429.5,460.9 430.5,460.9 430.5,458.4 431.5,458.4 431.5,455.9 432.5,455.9 432.5,453.7 433.5,453.7 433.5,451.7 434.5,451.7 434.5,449.6 435.5,449.6 435.5,447.3 436.5,447.3 436.5,444.3 437.5,444.3 437.5,441.3 438.5,441.3 438.5,438.3 439.5,438.3 439.5,435.4 440.5,435.4 440.5,432.5 441.5,432.5 441.5,429.6 442.5,429.6 442.5,426.6 443.5,426.6 443.5,423.6 444.5,423.6 444.5,420.6 445.5,420.6 445.5,417.4 446.5,417.4 446.5,414.0 447.5,414.0 447.5,411.9 448.5,411.9 448.5,414.9 449.5,414.9 449.5,418.0 450.5,418.0 450.5,421.0 451.5,421.0 451.5,414.3 452.5,414.3 452.5,407.6 453.5,407.6 453.5,401.7 454.5,401.7 454.5,396.4 455.5,396.4 455.5,391.0 456.5,391.0 456.5,385.7 457.5,385.7 457.5,380.4 458.5,380.4 458.5,376.5 459.5,376.5 459.5,372.9 460.5,372.9 460.5,369.4 461.5,369.4 461.5,367.7 462.5,367.7 462.5,367.2 463.5,367.2 463.5,366.7 464.5,366.7 464.5,366.1 465.5,366.1 465.5,365.4 466.5,365.4 466.5,364.6 467.5,364.6 467.5,364.1 468.5,364.1 468.5,364.7 469.5,364.7 469.5,365.3 470.5,365.3 470.5,365.9 471.5,365.9 471.5,367.3 472.5,367.3 472.5,372.0 473.5,372.0 473.5,376.7 474.5,376.7 474.5,382.0 475.5,382.0 475.5,387.6 476.5,387.6 476.5,393.1 477.5,393.1 477.5,397.9 478.5,397.9 478.5,402.3 479.5,402.3 479.5,406.6 480.5,406.6 480.5,411.7 481.5,411.7 481.5,418.4 482.5,418.4 482.5,425.1 483.5,425.1 483.5,428.0 484.5,428.0 484.5,430.5 485.5,430.5 485.5,433.0 486.5,433.0 486.5,437.1 487.5,437.1 487.5,441.7 488.5,441.7 488.5,446.2 489.5,446.2 489.5,450.3 490.5,450.3 490.5,454.3 491.5,454.3 491.5,457.7 492.5,457.7 492.5,461.0 493.5,461.0 493.5,464.2 494.5,464.2 494.5,467.2 495.5,467.2 495.5,470.2 496.5,470.2 496.5,473.7 497.5,473.7 497.5,478.4 498.5,478.4 498.5,483.0 499.5,483.0" fill="none" stroke="#7a7a7a" stroke-width="0.9" stroke-linejoin="miter"/>
<polyline points="330.5,499.0 331.5,499.0 331.5,497.7 332.5,497.7 332.5,496.5 333.5,496.5 333.5,495.3 334.5,495.3 334.5,494.1 335.5,494.1 335.5,492.9 336.5,492.9 336.5,491.9 337.5,491.9 337.5,490.9 338.5,490.9 338.5,489.8 339.5,489.8 339.5,488.8 340.5,488.8 340.5,485.7 341.5,485.7 341.5,480.6 342.5,480.6 342.5,475.5 343.5,475.5 343.5,471.0 344.5,471.0 344.5,466.5 345.5,466.5 345.5,462.0 346.5,462.0 346.5,457.1 347.5,457.1 347.5,452.0 348.5,452.0 348.5,447.0 349.5,447.0 349.5,441.4 350.5,441.4 350.5,435.4 351.5,435.4 351.5,429.0 352.5,429.0 352.5,421.0 353.5,421.0 353.5,412.9 354.5,412.9 354.5,405.4 355.5,405.4 355.5,398.1 356.5,398.1 356.5,391.0 357.5,391.0 357.5,384.3 358.5,384.3 358.5,377.6 359.5,377.6 359.5,373.6 360.5,373.6 360.5,369.6 361.5,369.6 361.5,367.2 362.5,367.2 362.5,366.0 363.5,366.0 363.5,364.8 364.5,364.8 364.5,364.1 365.5,364.1 365.5,364.3 366.5,364.3 366.5,364.5 367.5,364.5 367.5,364.7 368.5,364.7 368.5,366.9 369.5,366.9 369.5,372.3 370.5,372.3 370.5,377.6 371.5,377.6 371.5,384.3 372.5,384.3 372.5,391.0 373.5,391.0 373.5,398.9 374.5,398.9 374.5,407.6 375.5,407.6 375.5,415.8 376.5,415.8 376.5,422.6 377.5,422.6 377.5,429.3 378.5,429.3 378.5,435.7 379.5,435.7 379.5,442.1 380.5,442.1 380.5,447.8 381.5,447.8 381.5,451.8 382.5,451.8 382.5,455.9 383.5,455.9 383.5,459.9 384.5,459.9 384.5,463.7 385.5,463.7 385.5,467.5 386.5,467.5 386.5,470.0 387.5,470.0 387.5,472.5 388.5,472.5 388.5,475.0 389.5,475.0 389.5,477.7 390.5,477.7 390.5,480.5 391.5,480.5 391.5,483.3 392.5,483.3 392.5,486.1 393.5,486.1 393.5,488.3 394.5,488.3 394.5,490.4 395.5,490.4 395.5,492.4 396.5,492.4 396.5,493.9 397.5,493.9 397.5,495.2 398.5,495.2 398.5,496.4 399.5,496.4 399.5,497.6 400.5,497.6 400.5,498.9 401.5,498.9" fill="none" stroke="#1c1c1c" stroke-width="0.85" stroke-linejoin="miter"/>
<line x1="287.2" y1="363" x2="500.5" y2="363" stroke="#363636" stroke-width="1.4"/>
<line x1="287.7" y1="362.5" x2="287.7" y2="499.7" stroke="#3a3a3a" stroke-width="1.9"/>
<line x1="500.5" y1="362.3" x2="500.5" y2="500.7" stroke="#080808" stroke-width="2.1"/>
<line x1="286.9" y1="499.7" x2="501.5" y2="499.7" stroke="#080808" stroke-width="1.8"/>
<path d="M285.5 380.1H287.7 M285.5 397.2H287.7 M285.5 414.3H287.7 M285.5 431.4H287.7 M285.5 448.4H287.7 M285.5 465.5H287.7 M285.5 482.6H287.7 M285.5 499.7H287.7 M287.7 499.7V504.5 M303.7 499.7V503.3 M313.1 499.7V503.3 M319.7 499.7V503.3 M324.9 499.7V503.3 M329.1 499.7V503.3 M332.7 499.7V503.3 M335.7 499.7V503.3 M338.5 499.7V503.3 M340.9 499.7V504.5 M356.9 499.7V503.3 M366.3 499.7V503.3 M372.9 499.7V503.3 M378.1 499.7V503.3 M382.3 499.7V503.3 M385.9 499.7V503.3 M388.9 499.7V503.3 M391.7 499.7V503.3 M394.1 499.7V504.5 M410.1 499.7V503.3 M419.5 499.7V503.3 M426.1 499.7V503.3 M431.3 499.7V503.3 M435.5 499.7V503.3 M439.1 499.7V503.3 M442.1 499.7V503.3 M444.9 499.7V503.3 M447.3 499.7V504.5 M463.3 499.7V503.3 M472.7 499.7V503.3 M479.3 499.7V503.3 M484.5 499.7V503.3 M488.7 499.7V503.3 M492.3 499.7V503.3 M495.3 499.7V503.3 M498.1 499.7V503.3 M500.5 499.7V504.5" stroke="#111" stroke-width="1.35" fill="none"/>
<line x1="389.2" y1="457.4" x2="499.1" y2="457.4" stroke="#222" stroke-width="1.3"/>
<text x="0" y="0" transform="translate(399.5,474.2) scale(1.1,1)" font-family="Liberation Sans, sans-serif" font-size="11.5" letter-spacing="0.25" fill="#1a1a1a" stroke="#1a1a1a" stroke-width="0.15">91.85<tspan dx="1.6">%</tspan></text>
<text x="359.4" y="528.0" font-family="Liberation Serif, serif" font-size="17.8" fill="#000">CD90 PE</text>
<text transform="translate(279.9,370.5) rotate(-90)" text-anchor="middle" font-family="Liberation Serif, serif" font-size="17.8" fill="#000">39</text>
<text transform="translate(274.9,439.5) rotate(-90)" text-anchor="middle" font-family="Liberation Serif, serif" font-size="17.8" fill="#000">Events</text>
<text transform="translate(279.8,500.6) rotate(-90)" text-anchor="middle" font-family="Liberation Serif, serif" font-size="17.8" fill="#000">0</text>
<polygon points="584.5,499.5 585.5,499.5 585.5,498.5 586.5,498.5 586.5,497.5 587.5,497.5 587.5,496.5 588.5,496.5 588.5,495.5 589.5,495.5 589.5,494.5 590.5,494.5 590.5,493.4 591.5,493.4 591.5,492.3 592.5,492.3 592.5,491.1 593.5,491.1 593.5,489.9 594.5,489.9 594.5,488.8 595.5,488.8 595.5,485.1 596.5,485.1 596.5,479.8 597.5,479.8 597.5,474.4 598.5,474.4 598.5,469.1 599.5,469.1 599.5,463.8 600.5,463.8 600.5,458.4 601.5,458.4 601.5,453.0 602.5,453.0 602.5,447.4 603.5,447.4 603.5,441.4 604.5,441.4 604.5,435.4 605.5,435.4 605.5,427.4 606.5,427.4 606.5,416.2 607.5,416.2 607.5,411.4 608.5,411.4 608.5,403.3 609.5,403.3 609.5,395.7 610.5,395.7 610.5,389.7 611.5,389.7 611.5,383.7 612.5,383.7 612.5,378.7 613.5,378.7 613.5,374.0 614.5,374.0 614.5,370.4 615.5,370.4 615.5,368.4 616.5,368.4 616.5,366.4 617.5,366.4 617.5,366.4 618.5,366.4 618.5,366.4 619.5,366.4 619.5,366.4 620.5,366.4 620.5,366.4 621.5,366.4 621.5,370.4 622.5,370.4 622.5,374.4 623.5,374.4 623.5,378.8 624.5,378.8 624.5,383.5 625.5,383.5 625.5,388.8 626.5,388.8 626.5,396.1 627.5,396.1 627.5,403.4 628.5,403.4 628.5,411.1 629.5,411.1 629.5,418.8 630.5,418.8 630.5,426.4 631.5,426.4 631.5,433.7 632.5,433.7 632.5,441.1 633.5,441.1 633.5,446.6 634.5,446.6 634.5,452.0 635.5,452.0 635.5,456.4 636.5,456.4 636.5,459.9 637.5,459.9 637.5,463.4 638.5,463.4 638.5,467.1 639.5,467.1 639.5,471.1 640.5,471.1 640.5,475.1 641.5,475.1 641.5,478.9 642.5,478.9 642.5,481.3 643.5,481.3 643.5,483.6 644.5,483.6 644.5,486.0 645.5,486.0 645.5,488.4 646.5,488.4 646.5,490.4 647.5,490.4 647.5,491.7 648.5,491.7 648.5,493.1 649.5,493.1 649.5,494.4 650.5,494.4 650.5,495.7 651.5,495.7 651.5,496.8 652.5,496.8 652.5,497.6 653.5,497.6 653.5,498.4 654.5,498.4 654.5,499.2 655.5,499.2 655.5,500.8" fill="#fefcf8"/>
<polygon points="596.5,500.8 596.5,499.6 597.5,499.6 597.5,499.2 598.5,499.2 598.5,498.9 599.5,498.9 599.5,498.5 600.5,498.5 600.5,498.1 601.5,498.1 601.5,497.7 602.5,497.7 602.5,497.3 603.5,497.3 603.5,497.0 604.5,497.0 604.5,496.6 605.5,496.6 605.5,496.2 606.5,496.2 606.5,495.8 607.5,495.8 607.5,495.5 608.5,495.5 608.5,495.1 609.5,495.1 609.5,494.4 610.5,494.4 610.5,492.4 611.5,492.4 611.5,490.3 612.5,490.3 612.5,488.3 613.5,488.3 613.5,484.8 614.5,484.8 614.5,481.3 615.5,481.3 615.5,477.8 616.5,477.8 616.5,475.1 617.5,475.1 617.5,472.6 618.5,472.6 618.5,470.1 619.5,470.1 619.5,467.3 620.5,467.3 620.5,464.3 621.5,464.3 621.5,461.3 622.5,461.3 622.5,457.9 623.5,457.9 623.5,453.8 624.5,453.8 624.5,449.8 625.5,449.8 625.5,446.8 626.5,446.8 626.5,443.8 627.5,443.8 627.5,440.8 628.5,440.8 628.5,435.1 629.5,435.1 629.5,428.7 630.5,428.7 630.5,422.2 631.5,422.2 631.5,415.5 632.5,415.5 632.5,408.8 633.5,408.8 633.5,406.3 634.5,406.3 634.5,404.3 635.5,404.3 635.5,402.3 636.5,402.3 636.5,399.9 637.5,399.9 637.5,397.4 638.5,397.4 638.5,394.9 639.5,394.9 639.5,392.4 640.5,392.4 640.5,389.7 641.5,389.7 641.5,387.1 642.5,387.1 642.5,384.6 643.5,384.6 643.5,382.9 644.5,382.9 644.5,381.4 645.5,381.4 645.5,379.9 646.5,379.9 646.5,374.5 647.5,374.5 647.5,366.4 648.5,366.4 648.5,369.4 649.5,369.4 649.5,372.4 650.5,372.4 650.5,375.4 651.5,375.4 651.5,373.9 652.5,373.9 652.5,371.2 653.5,371.2 653.5,368.5 654.5,368.5 654.5,369.4 655.5,369.4 655.5,373.7 656.5,373.7 656.5,377.8 657.5,377.8 657.5,379.8 658.5,379.8 658.5,381.9 659.5,381.9 659.5,383.9 660.5,383.9 660.5,386.2 661.5,386.2 661.5,388.5 662.5,388.5 662.5,390.9 663.5,390.9 663.5,393.2 664.5,393.2 664.5,395.1 665.5,395.1 665.5,393.5 666.5,393.5 666.5,391.9 667.5,391.9 667.5,390.3 668.5,390.3 668.5,390.4 669.5,390.4 669.5,405.4 670.5,405.4 670.5,413.9 671.5,413.9 671.5,415.9 672.5,415.9 672.5,418.0 673.5,418.0 673.5,420.0 674.5,420.0 674.5,422.0 675.5,422.0 675.5,424.0 676.5,424.0 676.5,426.0 677.5,426.0 677.5,428.0 678.5,428.0 678.5,429.8 679.5,429.8 679.5,431.2 680.5,431.2 680.5,432.7 681.5,432.7 681.5,435.0 682.5,435.0 682.5,439.0 683.5,439.0 683.5,443.0 684.5,443.0 684.5,447.0 685.5,447.0 685.5,451.0 686.5,451.0 686.5,455.1 687.5,455.1 687.5,454.9 688.5,454.9 688.5,453.4 689.5,453.4 689.5,455.9 690.5,455.9 690.5,458.5 691.5,458.5 691.5,460.5 692.5,460.5 692.5,462.1 693.5,462.1 693.5,463.7 694.5,463.7 694.5,465.3 695.5,465.3 695.5,467.3 696.5,467.3 696.5,469.7 697.5,469.7 697.5,472.1 698.5,472.1 698.5,474.5 699.5,474.5 699.5,476.5 700.5,476.5 700.5,478.1 701.5,478.1 701.5,479.7 702.5,479.7 702.5,481.3 703.5,481.3 703.5,481.6 704.5,481.6 704.5,481.1 705.5,481.1 705.5,480.6 706.5,480.6 706.5,481.1 707.5,481.1 707.5,483.1 708.5,483.1 708.5,485.1 709.5,485.1 709.5,487.1 710.5,487.1 710.5,488.8 711.5,488.8 711.5,490.0 712.5,490.0 712.5,491.2 713.5,491.2 713.5,492.5 714.5,492.5 714.5,493.4 715.5,493.4 715.5,493.9 716.5,493.9 716.5,494.4 717.5,494.4 717.5,494.9 718.5,494.9 718.5,495.4 719.5,495.4 719.5,495.9 720.5,495.9 720.5,496.4 721.5,496.4 721.5,496.1 722.5,496.1 722.5,495.9 723.5,495.9 723.5,495.6 724.5,495.6 724.5,495.4 725.5,495.4 725.5,495.1 726.5,495.1 726.5,494.9 727.5,494.9 727.5,495.2 728.5,495.2 728.5,495.8 729.5,495.8 729.5,496.5 730.5,496.5 730.5,497.2 731.5,497.2 731.5,497.8 732.5,497.8 732.5,497.8 733.5,497.8 733.5,497.4 734.5,497.4 734.5,497.1 735.5,497.1 735.5,496.8 736.5,496.8 736.5,496.4 737.5,496.4 737.5,496.6 738.5,496.6 738.5,496.9 739.5,496.9 739.5,497.1 740.5,497.1 740.5,497.4 741.5,497.4 741.5,497.6 742.5,497.6 742.5,497.9 743.5,497.9 743.5,498.0 744.5,498.0 744.5,498.0 745.5,498.0 745.5,498.0 746.5,498.0 746.5,498.0 747.5,498.0 747.5,498.0 748.5,498.0 748.5,498.0 749.5,498.0 749.5,498.0 750.5,498.0 750.5,498.0 751.5,498.0 751.5,499.6 752.5,499.6 752.5,500.8" fill="#d6d4d8"/>
<polygon points="596.5,500.8 596.5,499.6 597.5,499.6 597.5,499.2 598.5,499.2 598.5,498.9 599.5,498.9 599.5,498.5 600.5,498.5 600.5,498.1 601.5,498.1 601.5,497.7 602.5,497.7 602.5,497.3 603.5,497.3 603.5,497.0 604.5,497.0 604.5,496.6 605.5,496.6 605.5,496.2 606.5,496.2 606.5,495.8 607.5,495.8 607.5,495.5 608.5,495.5 608.5,495.1 609.5,495.1 609.5,494.4 610.5,494.4 610.5,492.4 611.5,492.4 611.5,490.3 612.5,490.3 612.5,488.3 613.5,488.3 613.5,484.8 614.5,484.8 614.5,481.3 615.5,481.3 615.5,477.8 616.5,477.8 616.5,475.1 617.5,475.1 617.5,472.6 618.5,472.6 618.5,470.1 619.5,470.1 619.5,467.3 620.5,467.3 620.5,464.3 621.5,464.3 621.5,461.3 622.5,461.3 622.5,457.9 623.5,457.9 623.5,453.8 624.5,453.8 624.5,449.8 625.5,449.8 625.5,446.8 626.5,446.8 626.5,443.8 627.5,443.8 627.5,440.8 628.5,440.8 628.5,435.1 629.5,435.1 629.5,428.7 630.5,428.7 630.5,422.2 631.5,422.2 631.5,415.5 632.5,415.5 632.5,408.8 633.5,408.8 633.5,406.3 634.5,406.3 634.5,404.3 635.5,404.3 635.5,402.3 636.5,402.3 636.5,399.9 637.5,399.9 637.5,397.4 638.5,397.4 638.5,394.9 639.5,394.9 639.5,392.4 640.5,392.4 640.5,389.7 641.5,389.7 641.5,387.1 642.5,387.1 642.5,384.6 643.5,384.6 643.5,382.9 644.5,382.9 644.5,381.4 645.5,381.4 645.5,379.9 646.5,379.9 646.5,374.5 647.5,374.5 647.5,366.4 648.5,366.4 648.5,369.4 649.5,369.4 649.5,372.4 650.5,372.4 650.5,375.4 651.5,375.4 651.5,373.9 652.5,373.9 652.5,371.2 653.5,371.2 653.5,368.5 654.5,368.5 654.5,369.4 655.5,369.4 655.5,373.7 656.5,373.7 656.5,377.8 657.5,377.8 657.5,379.8 658.5,379.8 658.5,381.9 659.5,381.9 659.5,383.9 660.5,383.9 660.5,386.2 661.5,386.2 661.5,388.5 662.5,388.5 662.5,390.9 663.5,390.9 663.5,393.2 664.5,393.2 664.5,395.1 665.5,395.1 665.5,393.5 666.5,393.5 666.5,391.9 667.5,391.9 667.5,390.3 668.5,390.3 668.5,390.4 669.5,390.4 669.5,405.4 670.5,405.4 670.5,413.9 671.5,413.9 671.5,415.9 672.5,415.9 672.5,418.0 673.5,418.0 673.5,420.0 674.5,420.0 674.5,422.0 675.5,422.0 675.5,424.0 676.5,424.0 676.5,426.0 677.5,426.0 677.5,428.0 678.5,428.0 678.5,429.8 679.5,429.8 679.5,431.2 680.5,431.2 680.5,432.7 681.5,432.7 681.5,435.0 682.5,435.0 682.5,439.0 683.5,439.0 683.5,443.0 684.5,443.0 684.5,447.0 685.5,447.0 685.5,451.0 686.5,451.0 686.5,455.1 687.5,455.1 687.5,454.9 688.5,454.9 688.5,453.4 689.5,453.4 689.5,455.9 690.5,455.9 690.5,458.5 691.5,458.5 691.5,460.5 692.5,460.5 692.5,462.1 693.5,462.1 693.5,463.7 694.5,463.7 694.5,465.3 695.5,465.3 695.5,467.3 696.5,467.3 696.5,469.7 697.5,469.7 697.5,472.1 698.5,472.1 698.5,474.5 699.5,474.5 699.5,476.5 700.5,476.5 700.5,478.1 701.5,478.1 701.5,479.7 702.5,479.7 702.5,481.3 703.5,481.3 703.5,481.6 704.5,481.6 704.5,481.1 705.5,481.1 705.5,480.6 706.5,480.6 706.5,481.1 707.5,481.1 707.5,483.1 708.5,483.1 708.5,485.1 709.5,485.1 709.5,487.1 710.5,487.1 710.5,488.8 711.5,488.8 711.5,490.0 712.5,490.0 712.5,491.2 713.5,491.2 713.5,492.5 714.5,492.5 714.5,493.4 715.5,493.4 715.5,493.9 716.5,493.9 716.5,494.4 717.5,494.4 717.5,494.9 718.5,494.9 718.5,495.4 719.5,495.4 719.5,495.9 720.5,495.9 720.5,496.4 721.5,496.4 721.5,496.1 722.5,496.1 722.5,495.9 723.5,495.9 723.5,495.6 724.5,495.6 724.5,495.4 725.5,495.4 725.5,495.1 726.5,495.1 726.5,494.9 727.5,494.9 727.5,495.2 728.5,495.2 728.5,495.8 729.5,495.8 729.5,496.5 730.5,496.5 730.5,497.2 731.5,497.2 731.5,497.8 732.5,497.8 732.5,497.8 733.5,497.8 733.5,497.4 734.5,497.4 734.5,497.1 735.5,497.1 735.5,496.8 736.5,496.8 736.5,496.4 737.5,496.4 737.5,496.6 738.5,496.6 738.5,496.9 739.5,496.9 739.5,497.1 740.5,497.1 740.5,497.4 741.5,497.4 741.5,497.6 742.5,497.6 742.5,497.9 743.5,497.9 743.5,498.0 744.5,498.0 744.5,498.0 745.5,498.0 745.5,498.0 746.5,498.0 746.5,498.0 747.5,498.0 747.5,498.0 748.5,498.0 748.5,498.0 749.5,498.0 749.5,498.0 750.5,498.0 750.5,498.0 751.5,498.0 751.5,499.6 752.5,499.6 752.5,500.8" fill="#d7d4cf" clip-path="url(#c8)"/>
<polyline points="596.5,499.6 597.5,499.6 597.5,499.2 598.5,499.2 598.5,498.9 599.5,498.9 599.5,498.5 600.5,498.5 600.5,498.1 601.5,498.1 601.5,497.7 602.5,497.7 602.5,497.3 603.5,497.3 603.5,497.0 604.5,497.0 604.5,496.6 605.5,496.6 605.5,496.2 606.5,496.2 606.5,495.8 607.5,495.8 607.5,495.5 608.5,495.5 608.5,495.1 609.5,495.1 609.5,494.4 610.5,494.4 610.5,492.4 611.5,492.4 611.5,490.3 612.5,490.3 612.5,488.3 613.5,488.3 613.5,484.8 614.5,484.8 614.5,481.3 615.5,481.3 615.5,477.8 616.5,477.8 616.5,475.1 617.5,475.1 617.5,472.6 618.5,472.6 618.5,470.1 619.5,470.1 619.5,467.3 620.5,467.3 620.5,464.3 621.5,464.3 621.5,461.3 622.5,461.3 622.5,457.9 623.5,457.9 623.5,453.8 624.5,453.8 624.5,449.8 625.5,449.8 625.5,446.8 626.5,446.8 626.5,443.8 627.5,443.8 627.5,440.8 628.5,440.8 628.5,435.1 629.5,435.1 629.5,428.7 630.5,428.7 630.5,422.2 631.5,422.2 631.5,415.5 632.5,415.5 632.5,408.8 633.5,408.8 633.5,406.3 634.5,406.3 634.5,404.3 635.5,404.3 635.5,402.3 636.5,402.3 636.5,399.9 637.5,399.9 637.5,397.4 638.5,397.4 638.5,394.9 639.5,394.9 639.5,392.4 640.5,392.4 640.5,389.7 641.5,389.7 641.5,387.1 642.5,387.1 642.5,384.6 643.5,384.6 643.5,382.9 644.5,382.9 644.5,381.4 645.5,381.4 645.5,379.9 646.5,379.9 646.5,374.5 647.5,374.5 647.5,366.4 648.5,366.4 648.5,369.4 649.5,369.4 649.5,372.4 650.5,372.4 650.5,375.4 651.5,375.4 651.5,373.9 652.5,373.9 652.5,371.2 653.5,371.2 653.5,368.5 654.5,368.5 654.5,369.4 655.5,369.4 655.5,373.7 656.5,373.7 656.5,377.8 657.5,377.8 657.5,379.8 658.5,379.8 658.5,381.9 659.5,381.9 659.5,383.9 660.5,383.9 660.5,386.2 661.5,386.2 661.5,388.5 662.5,388.5 662.5,390.9 663.5,390.9 663.5,393.2 664.5,393.2 664.5,395.1 665.5,395.1 665.5,393.5 666.5,393.5 666.5,391.9 667.5,391.9 667.5,390.3 668.5,390.3 668.5,390.4 669.5,390.4 669.5,405.4 670.5,405.4 670.5,413.9 671.5,413.9 671.5,415.9 672.5,415.9 672.5,418.0 673.5,418.0 673.5,420.0 674.5,420.0 674.5,422.0 675.5,422.0 675.5,424.0 676.5,424.0 676.5,426.0 677.5,426.0 677.5,428.0 678.5,428.0 678.5,429.8 679.5,429.8 679.5,431.2 680.5,431.2 680.5,432.7 681.5,432.7 681.5,435.0 682.5,435.0 682.5,439.0 683.5,439.0 683.5,443.0 684.5,443.0 684.5,447.0 685.5,447.0 685.5,451.0 686.5,451.0 686.5,455.1 687.5,455.1 687.5,454.9 688.5,454.9 688.5,453.4 689.5,453.4 689.5,455.9 690.5,455.9 690.5,458.5 691.5,458.5 691.5,460.5 692.5,460.5 692.5,462.1 693.5,462.1 693.5,463.7 694.5,463.7 694.5,465.3 695.5,465.3 695.5,467.3 696.5,467.3 696.5,469.7 697.5,469.7 697.5,472.1 698.5,472.1 698.5,474.5 699.5,474.5 699.5,476.5 700.5,476.5 700.5,478.1 701.5,478.1 701.5,479.7 702.5,479.7 702.5,481.3 703.5,481.3 703.5,481.6 704.5,481.6 704.5,481.1 705.5,481.1 705.5,480.6 706.5,480.6 706.5,481.1 707.5,481.1 707.5,483.1 708.5,483.1 708.5,485.1 709.5,485.1 709.5,487.1 710.5,487.1 710.5,488.8 711.5,488.8 711.5,490.0 712.5,490.0 712.5,491.2 713.5,491.2 713.5,492.5 714.5,492.5 714.5,493.4 715.5,493.4 715.5,493.9 716.5,493.9 716.5,494.4 717.5,494.4 717.5,494.9 718.5,494.9 718.5,495.4 719.5,495.4 719.5,495.9 720.5,495.9 720.5,496.4 721.5,496.4 721.5,496.1 722.5,496.1 722.5,495.9 723.5,495.9 723.5,495.6 724.5,495.6 724.5,495.4 725.5,495.4 725.5,495.1 726.5,495.1 726.5,494.9 727.5,494.9 727.5,495.2 728.5,495.2 728.5,495.8 729.5,495.8 729.5,496.5 730.5,496.5 730.5,497.2 731.5,497.2 731.5,497.8 732.5,497.8 732.5,497.8 733.5,497.8 733.5,497.4 734.5,497.4 734.5,497.1 735.5,497.1 735.5,496.8 736.5,496.8 736.5,496.4 737.5,496.4 737.5,496.6 738.5,496.6 738.5,496.9 739.5,496.9 739.5,497.1 740.5,497.1 740.5,497.4 741.5,497.4 741.5,497.6 742.5,497.6 742.5,497.9 743.5,497.9 743.5,498.0 744.5,498.0 744.5,498.0 745.5,498.0 745.5,498.0 746.5,498.0 746.5,498.0 747.5,498.0 747.5,498.0 748.5,498.0 748.5,498.0 749.5,498.0 749.5,498.0 750.5,498.0 750.5,498.0 751.5,498.0 751.5,499.6 752.5,499.6" fill="none" stroke="#7a7a7a" stroke-width="0.9" stroke-linejoin="miter"/>
<rect x="755" y="364" width="1" height="141" fill="#a8a8a8"/>
<polyline points="584.5,499.5 585.5,499.5 585.5,498.5 586.5,498.5 586.5,497.5 587.5,497.5 587.5,496.5 588.5,496.5 588.5,495.5 589.5,495.5 589.5,494.5 590.5,494.5 590.5,493.4 591.5,493.4 591.5,492.3 592.5,492.3 592.5,491.1 593.5,491.1 593.5,489.9 594.5,489.9 594.5,488.8 595.5,488.8 595.5,485.1 596.5,485.1 596.5,479.8 597.5,479.8 597.5,474.4 598.5,474.4 598.5,469.1 599.5,469.1 599.5,463.8 600.5,463.8 600.5,458.4 601.5,458.4 601.5,453.0 602.5,453.0 602.5,447.4 603.5,447.4 603.5,441.4 604.5,441.4 604.5,435.4 605.5,435.4 605.5,427.4 606.5,427.4 606.5,416.2 607.5,416.2 607.5,411.4 608.5,411.4 608.5,403.3 609.5,403.3 609.5,395.7 610.5,395.7 610.5,389.7 611.5,389.7 611.5,383.7 612.5,383.7 612.5,378.7 613.5,378.7 613.5,374.0 614.5,374.0 614.5,370.4 615.5,370.4 615.5,368.4 616.5,368.4 616.5,366.4 617.5,366.4 617.5,366.4 618.5,366.4 618.5,366.4 619.5,366.4 619.5,366.4 620.5,366.4 620.5,366.4 621.5,366.4 621.5,370.4 622.5,370.4 622.5,374.4 623.5,374.4 623.5,378.8 624.5,378.8 624.5,383.5 625.5,383.5 625.5,388.8 626.5,388.8 626.5,396.1 627.5,396.1 627.5,403.4 628.5,403.4 628.5,411.1 629.5,411.1 629.5,418.8 630.5,418.8 630.5,426.4 631.5,426.4 631.5,433.7 632.5,433.7 632.5,441.1 633.5,441.1 633.5,446.6 634.5,446.6 634.5,452.0 635.5,452.0 635.5,456.4 636.5,456.4 636.5,459.9 637.5,459.9 637.5,463.4 638.5,463.4 638.5,467.1 639.5,467.1 639.5,471.1 640.5,471.1 640.5,475.1 641.5,475.1 641.5,478.9 642.5,478.9 642.5,481.3 643.5,481.3 643.5,483.6 644.5,483.6 644.5,486.0 645.5,486.0 645.5,488.4 646.5,488.4 646.5,490.4 647.5,490.4 647.5,491.7 648.5,491.7 648.5,493.1 649.5,493.1 649.5,494.4 650.5,494.4 650.5,495.7 651.5,495.7 651.5,496.8 652.5,496.8 652.5,497.6 653.5,497.6 653.5,498.4 654.5,498.4 654.5,499.2 655.5,499.2" fill="none" stroke="#1c1c1c" stroke-width="0.85" stroke-linejoin="miter"/>
<line x1="541.2" y1="364" x2="754" y2="364" stroke="#363636" stroke-width="1.4"/>
<line x1="541.7" y1="363.5" x2="541.7" y2="500.8" stroke="#3a3a3a" stroke-width="1.9"/>
<line x1="754" y1="363.3" x2="754" y2="501.8" stroke="#080808" stroke-width="2.1"/>
<line x1="540.9000000000001" y1="500.8" x2="755" y2="500.8" stroke="#080808" stroke-width="1.8"/>
<path d="M539.5 381.1H541.7 M539.5 398.2H541.7 M539.5 415.3H541.7 M539.5 432.4H541.7 M539.5 449.5H541.7 M539.5 466.6H541.7 M539.5 483.7H541.7 M539.5 500.8H541.7 M541.7 500.8V505.6 M557.7 500.8V504.4 M567.0 500.8V504.4 M573.7 500.8V504.4 M578.8 500.8V504.4 M583.0 500.8V504.4 M586.6 500.8V504.4 M589.6 500.8V504.4 M592.3 500.8V504.4 M594.8 500.8V505.6 M610.8 500.8V504.4 M620.1 500.8V504.4 M626.7 500.8V504.4 M631.9 500.8V504.4 M636.1 500.8V504.4 M639.6 500.8V504.4 M642.7 500.8V504.4 M645.4 500.8V504.4 M647.9 500.8V505.6 M663.8 500.8V504.4 M673.2 500.8V504.4 M679.8 500.8V504.4 M684.9 500.8V504.4 M689.2 500.8V504.4 M692.7 500.8V504.4 M695.8 500.8V504.4 M698.5 500.8V504.4 M700.9 500.8V505.6 M716.9 500.8V504.4 M726.2 500.8V504.4 M732.9 500.8V504.4 M738.0 500.8V504.4 M742.2 500.8V504.4 M745.8 500.8V504.4 M748.9 500.8V504.4 M751.6 500.8V504.4 M754.0 500.8V505.6" stroke="#111" stroke-width="1.35" fill="none"/>
<line x1="646" y1="459.8" x2="753" y2="459.8" stroke="#222" stroke-width="1.3"/>
<text x="0" y="0" transform="translate(655.9,476.6) scale(1.1,1)" font-family="Liberation Sans, sans-serif" font-size="11.5" letter-spacing="0.25" fill="#1a1a1a" stroke="#1a1a1a" stroke-width="0.15">65.50<tspan dx="1.6">%</tspan></text>
<text x="613.4" y="528.0" font-family="Liberation Serif, serif" font-size="17.8" fill="#000">CD105 PE</text>
<text transform="translate(533.6,371.0) rotate(-90)" text-anchor="middle" font-family="Liberation Serif, serif" font-size="17.8" fill="#000">39</text>
<text transform="translate(528.6,439.5) rotate(-90)" text-anchor="middle" font-family="Liberation Serif, serif" font-size="17.8" fill="#000">Events</text>
<text transform="translate(533.6,501.0) rotate(-90)" text-anchor="middle" font-family="Liberation Serif, serif" font-size="17.8" fill="#000">0</text>
<polygon points="70.5,683.1 71.5,683.1 71.5,682.0 72.5,682.0 72.5,680.8 73.5,680.8 73.5,679.7 74.5,679.7 74.5,678.6 75.5,678.6 75.5,677.5 76.5,677.5 76.5,676.5 77.5,676.5 77.5,675.5 78.5,675.5 78.5,674.5 79.5,674.5 79.5,673.5 80.5,673.5 80.5,670.4 81.5,670.4 81.5,665.3 82.5,665.3 82.5,660.1 83.5,660.1 83.5,655.6 84.5,655.6 84.5,651.1 85.5,651.1 85.5,646.6 86.5,646.6 86.5,642.1 87.5,642.1 87.5,637.5 88.5,637.5 88.5,633.0 89.5,633.0 89.5,627.2 90.5,627.2 90.5,620.5 91.5,620.5 91.5,613.7 92.5,613.7 92.5,606.4 93.5,606.4 93.5,599.0 94.5,599.0 94.5,591.1 95.5,591.1 95.5,583.1 96.5,583.1 96.5,575.9 97.5,575.9 97.5,569.9 98.5,569.9 98.5,563.9 99.5,563.9 99.5,559.2 100.5,559.2 100.5,554.5 101.5,554.5 101.5,551.9 102.5,551.9 102.5,550.6 103.5,550.6 103.5,549.4 104.5,549.4 104.5,548.7 105.5,548.7 105.5,549.0 106.5,549.0 106.5,549.2 107.5,549.2 107.5,550.3 108.5,550.3 108.5,555.0 109.5,555.0 109.5,559.7 110.5,559.7 110.5,565.4 111.5,565.4 111.5,571.5 112.5,571.5 112.5,575.1 113.5,575.1 113.5,586.3 114.5,586.3 114.5,594.3 115.5,594.3 115.5,601.0 116.5,601.0 116.5,607.7 117.5,607.7 117.5,613.9 118.5,613.9 118.5,619.6 119.5,619.6 119.5,625.3 120.5,625.3 120.5,630.7 121.5,630.7 121.5,636.1 122.5,636.1 122.5,640.2 123.5,640.2 123.5,643.6 124.5,643.6 124.5,647.1 125.5,647.1 125.5,650.6 126.5,650.6 126.5,654.1 127.5,654.1 127.5,657.5 128.5,657.5 128.5,661.0 129.5,661.0 129.5,664.1 130.5,664.1 130.5,667.1 131.5,667.1 131.5,670.1 132.5,670.1 132.5,672.5 133.5,672.5 133.5,674.5 134.5,674.5 134.5,676.6 135.5,676.6 135.5,678.1 136.5,678.1 136.5,679.0 137.5,679.0 137.5,679.8 138.5,679.8 138.5,680.7 139.5,680.7 139.5,681.5 140.5,681.5 140.5,682.4 141.5,682.4 141.5,683.2 142.5,683.2" fill="#fefcf8"/>
<polygon points="94.5,683.9 94.5,683.2 95.5,683.2 95.5,682.6 96.5,682.6 96.5,682.0 97.5,682.0 97.5,681.4 98.5,681.4 98.5,680.8 99.5,680.8 99.5,680.2 100.5,680.2 100.5,679.6 101.5,679.6 101.5,678.6 102.5,678.6 102.5,677.3 103.5,677.3 103.5,675.9 104.5,675.9 104.5,674.6 105.5,674.6 105.5,673.3 106.5,673.3 106.5,671.0 107.5,671.0 107.5,668.4 108.5,668.4 108.5,665.9 109.5,665.9 109.5,663.1 110.5,663.1 110.5,660.1 111.5,660.1 111.5,657.1 112.5,657.1 112.5,653.7 113.5,653.7 113.5,649.7 114.5,649.7 114.5,645.7 115.5,645.7 115.5,641.3 116.5,641.3 116.5,635.2 117.5,635.2 117.5,629.2 118.5,629.2 118.5,622.4 119.5,622.4 119.5,615.3 120.5,615.3 120.5,608.0 121.5,608.0 121.5,599.9 122.5,599.9 122.5,591.9 123.5,591.9 123.5,583.9 124.5,583.9 124.5,571.9 125.5,571.9 125.5,569.9 126.5,569.9 126.5,565.9 127.5,565.9 127.5,562.0 128.5,562.0 128.5,559.5 129.5,559.5 129.5,555.5 130.5,555.5 130.5,551.2 131.5,551.2 131.5,549.3 132.5,549.3 132.5,550.9 133.5,550.9 133.5,552.6 134.5,552.6 134.5,557.3 135.5,557.3 135.5,562.0 136.5,562.0 136.5,563.1 137.5,563.1 137.5,561.7 138.5,561.7 138.5,561.4 139.5,561.4 139.5,565.5 140.5,565.5 140.5,574.9 141.5,574.9 141.5,587.9 142.5,587.9 142.5,594.3 143.5,594.3 143.5,600.8 144.5,600.8 144.5,604.0 145.5,604.0 145.5,614.0 146.5,614.0 146.5,620.6 147.5,620.6 147.5,626.6 148.5,626.6 148.5,632.7 149.5,632.7 149.5,638.7 150.5,638.7 150.5,644.7 151.5,644.7 151.5,650.1 152.5,650.1 152.5,654.1 153.5,654.1 153.5,658.1 154.5,658.1 154.5,660.8 155.5,660.8 155.5,663.2 156.5,663.2 156.5,665.8 157.5,665.8 157.5,667.6 158.5,667.6 158.5,669.3 159.5,669.3 159.5,670.9 160.5,670.9 160.5,672.5 161.5,672.5 161.5,674.4 162.5,674.4 162.5,676.4 163.5,676.4 163.5,678.4 164.5,678.4 164.5,680.2 165.5,680.2 165.5,681.8 166.5,681.8 166.5,683.2 167.5,683.2 167.5,683.9" fill="#d6d4d8"/>
<polygon points="94.5,683.9 94.5,683.2 95.5,683.2 95.5,682.6 96.5,682.6 96.5,682.0 97.5,682.0 97.5,681.4 98.5,681.4 98.5,680.8 99.5,680.8 99.5,680.2 100.5,680.2 100.5,679.6 101.5,679.6 101.5,678.6 102.5,678.6 102.5,677.3 103.5,677.3 103.5,675.9 104.5,675.9 104.5,674.6 105.5,674.6 105.5,673.3 106.5,673.3 106.5,671.0 107.5,671.0 107.5,668.4 108.5,668.4 108.5,665.9 109.5,665.9 109.5,663.1 110.5,663.1 110.5,660.1 111.5,660.1 111.5,657.1 112.5,657.1 112.5,653.7 113.5,653.7 113.5,649.7 114.5,649.7 114.5,645.7 115.5,645.7 115.5,641.3 116.5,641.3 116.5,635.2 117.5,635.2 117.5,629.2 118.5,629.2 118.5,622.4 119.5,622.4 119.5,615.3 120.5,615.3 120.5,608.0 121.5,608.0 121.5,599.9 122.5,599.9 122.5,591.9 123.5,591.9 123.5,583.9 124.5,583.9 124.5,571.9 125.5,571.9 125.5,569.9 126.5,569.9 126.5,565.9 127.5,565.9 127.5,562.0 128.5,562.0 128.5,559.5 129.5,559.5 129.5,555.5 130.5,555.5 130.5,551.2 131.5,551.2 131.5,549.3 132.5,549.3 132.5,550.9 133.5,550.9 133.5,552.6 134.5,552.6 134.5,557.3 135.5,557.3 135.5,562.0 136.5,562.0 136.5,563.1 137.5,563.1 137.5,561.7 138.5,561.7 138.5,561.4 139.5,561.4 139.5,565.5 140.5,565.5 140.5,574.9 141.5,574.9 141.5,587.9 142.5,587.9 142.5,594.3 143.5,594.3 143.5,600.8 144.5,600.8 144.5,604.0 145.5,604.0 145.5,614.0 146.5,614.0 146.5,620.6 147.5,620.6 147.5,626.6 148.5,626.6 148.5,632.7 149.5,632.7 149.5,638.7 150.5,638.7 150.5,644.7 151.5,644.7 151.5,650.1 152.5,650.1 152.5,654.1 153.5,654.1 153.5,658.1 154.5,658.1 154.5,660.8 155.5,660.8 155.5,663.2 156.5,663.2 156.5,665.8 157.5,665.8 157.5,667.6 158.5,667.6 158.5,669.3 159.5,669.3 159.5,670.9 160.5,670.9 160.5,672.5 161.5,672.5 161.5,674.4 162.5,674.4 162.5,676.4 163.5,676.4 163.5,678.4 164.5,678.4 164.5,680.2 165.5,680.2 165.5,681.8 166.5,681.8 166.5,683.2 167.5,683.2 167.5,683.9" fill="#d7d4cf" clip-path="url(#c9)"/>
<polyline points="94.5,683.2 95.5,683.2 95.5,682.6 96.5,682.6 96.5,682.0 97.5,682.0 97.5,681.4 98.5,681.4 98.5,680.8 99.5,680.8 99.5,680.2 100.5,680.2 100.5,679.6 101.5,679.6 101.5,678.6 102.5,678.6 102.5,677.3 103.5,677.3 103.5,675.9 104.5,675.9 104.5,674.6 105.5,674.6 105.5,673.3 106.5,673.3 106.5,671.0 107.5,671.0 107.5,668.4 108.5,668.4 108.5,665.9 109.5,665.9 109.5,663.1 110.5,663.1 110.5,660.1 111.5,660.1 111.5,657.1 112.5,657.1 112.5,653.7 113.5,653.7 113.5,649.7 114.5,649.7 114.5,645.7 115.5,645.7 115.5,641.3 116.5,641.3 116.5,635.2 117.5,635.2 117.5,629.2 118.5,629.2 118.5,622.4 119.5,622.4 119.5,615.3 120.5,615.3 120.5,608.0 121.5,608.0 121.5,599.9 122.5,599.9 122.5,591.9 123.5,591.9 123.5,583.9 124.5,583.9 124.5,571.9 125.5,571.9 125.5,569.9 126.5,569.9 126.5,565.9 127.5,565.9 127.5,562.0 128.5,562.0 128.5,559.5 129.5,559.5 129.5,555.5 130.5,555.5 130.5,551.2 131.5,551.2 131.5,549.3 132.5,549.3 132.5,550.9 133.5,550.9 133.5,552.6 134.5,552.6 134.5,557.3 135.5,557.3 135.5,562.0 136.5,562.0 136.5,563.1 137.5,563.1 137.5,561.7 138.5,561.7 138.5,561.4 139.5,561.4 139.5,565.5 140.5,565.5 140.5,574.9 141.5,574.9 141.5,587.9 142.5,587.9 142.5,594.3 143.5,594.3 143.5,600.8 144.5,600.8 144.5,604.0 145.5,604.0 145.5,614.0 146.5,614.0 146.5,620.6 147.5,620.6 147.5,626.6 148.5,626.6 148.5,632.7 149.5,632.7 149.5,638.7 150.5,638.7 150.5,644.7 151.5,644.7 151.5,650.1 152.5,650.1 152.5,654.1 153.5,654.1 153.5,658.1 154.5,658.1 154.5,660.8 155.5,660.8 155.5,663.2 156.5,663.2 156.5,665.8 157.5,665.8 157.5,667.6 158.5,667.6 158.5,669.3 159.5,669.3 159.5,670.9 160.5,670.9 160.5,672.5 161.5,672.5 161.5,674.4 162.5,674.4 162.5,676.4 163.5,676.4 163.5,678.4 164.5,678.4 164.5,680.2 165.5,680.2 165.5,681.8 166.5,681.8 166.5,683.2 167.5,683.2" fill="none" stroke="#7a7a7a" stroke-width="0.9" stroke-linejoin="miter"/>
<polyline points="70.5,683.1 71.5,683.1 71.5,682.0 72.5,682.0 72.5,680.8 73.5,680.8 73.5,679.7 74.5,679.7 74.5,678.6 75.5,678.6 75.5,677.5 76.5,677.5 76.5,676.5 77.5,676.5 77.5,675.5 78.5,675.5 78.5,674.5 79.5,674.5 79.5,673.5 80.5,673.5 80.5,670.4 81.5,670.4 81.5,665.3 82.5,665.3 82.5,660.1 83.5,660.1 83.5,655.6 84.5,655.6 84.5,651.1 85.5,651.1 85.5,646.6 86.5,646.6 86.5,642.1 87.5,642.1 87.5,637.5 88.5,637.5 88.5,633.0 89.5,633.0 89.5,627.2 90.5,627.2 90.5,620.5 91.5,620.5 91.5,613.7 92.5,613.7 92.5,606.4 93.5,606.4 93.5,599.0 94.5,599.0 94.5,591.1 95.5,591.1 95.5,583.1 96.5,583.1 96.5,575.9 97.5,575.9 97.5,569.9 98.5,569.9 98.5,563.9 99.5,563.9 99.5,559.2 100.5,559.2 100.5,554.5 101.5,554.5 101.5,551.9 102.5,551.9 102.5,550.6 103.5,550.6 103.5,549.4 104.5,549.4 104.5,548.7 105.5,548.7 105.5,549.0 106.5,549.0 106.5,549.2 107.5,549.2 107.5,550.3 108.5,550.3 108.5,555.0 109.5,555.0 109.5,559.7 110.5,559.7 110.5,565.4 111.5,565.4 111.5,571.5 112.5,571.5 112.5,575.1 113.5,575.1 113.5,586.3 114.5,586.3 114.5,594.3 115.5,594.3 115.5,601.0 116.5,601.0 116.5,607.7 117.5,607.7 117.5,613.9 118.5,613.9 118.5,619.6 119.5,619.6 119.5,625.3 120.5,625.3 120.5,630.7 121.5,630.7 121.5,636.1 122.5,636.1 122.5,640.2 123.5,640.2 123.5,643.6 124.5,643.6 124.5,647.1 125.5,647.1 125.5,650.6 126.5,650.6 126.5,654.1 127.5,654.1 127.5,657.5 128.5,657.5 128.5,661.0 129.5,661.0 129.5,664.1 130.5,664.1 130.5,667.1 131.5,667.1 131.5,670.1 132.5,670.1 132.5,672.5 133.5,672.5 133.5,674.5 134.5,674.5 134.5,676.6 135.5,676.6 135.5,678.1 136.5,678.1 136.5,679.0 137.5,679.0 137.5,679.8 138.5,679.8 138.5,680.7 139.5,680.7 139.5,681.5 140.5,681.5 140.5,682.4 141.5,682.4 141.5,683.2 142.5,683.2" fill="none" stroke="#1c1c1c" stroke-width="0.85" stroke-linejoin="miter"/>
<line x1="27.5" y1="547.5" x2="240.5" y2="547.5" stroke="#363636" stroke-width="1.4"/>
<line x1="28" y1="547.0" x2="28" y2="683.9" stroke="#3a3a3a" stroke-width="1.9"/>
<line x1="240.5" y1="546.8" x2="240.5" y2="684.9" stroke="#080808" stroke-width="2.1"/>
<line x1="27.2" y1="683.9" x2="241.5" y2="683.9" stroke="#080808" stroke-width="1.8"/>
<path d="M25.8 564.5H28 M25.8 581.6H28 M25.8 598.6H28 M25.8 615.7H28 M25.8 632.8H28 M25.8 649.8H28 M25.8 666.9H28 M25.8 683.9H28 M28.0 683.9V688.7 M44.0 683.9V687.5 M53.3 683.9V687.5 M60.0 683.9V687.5 M65.1 683.9V687.5 M69.3 683.9V687.5 M72.9 683.9V687.5 M76.0 683.9V687.5 M78.7 683.9V687.5 M81.1 683.9V688.7 M97.1 683.9V687.5 M106.5 683.9V687.5 M113.1 683.9V687.5 M118.3 683.9V687.5 M122.5 683.9V687.5 M126.0 683.9V687.5 M129.1 683.9V687.5 M131.8 683.9V687.5 M134.2 683.9V688.7 M150.2 683.9V687.5 M159.6 683.9V687.5 M166.2 683.9V687.5 M171.4 683.9V687.5 M175.6 683.9V687.5 M179.1 683.9V687.5 M182.2 683.9V687.5 M184.9 683.9V687.5 M187.4 683.9V688.7 M203.4 683.9V687.5 M212.7 683.9V687.5 M219.4 683.9V687.5 M224.5 683.9V687.5 M228.7 683.9V687.5 M232.3 683.9V687.5 M235.4 683.9V687.5 M238.1 683.9V687.5 M240.5 683.9V688.7" stroke="#111" stroke-width="1.35" fill="none"/>
<line x1="131.1" y1="644.1" x2="232.7" y2="644.1" stroke="#222" stroke-width="1.3"/>
<text x="0" y="0" transform="translate(141.1,661.2) scale(1.1,1)" font-family="Liberation Sans, sans-serif" font-size="11.5" letter-spacing="0.25" fill="#1a1a1a" stroke="#1a1a1a" stroke-width="0.15">47.51<tspan dx="1.6">%</tspan></text>
<text x="98.6" y="711.0" font-family="Liberation Serif, serif" font-size="17.8" fill="#000">CD166 PE</text>
<text transform="translate(18.2,552.4) rotate(-90)" text-anchor="middle" font-family="Liberation Serif, serif" font-size="17.8" fill="#000">74</text>
<text transform="translate(14.0,622.3) rotate(-90)" text-anchor="middle" font-family="Liberation Serif, serif" font-size="17.8" fill="#000">Events</text>
<text transform="translate(18.2,683.8) rotate(-90)" text-anchor="middle" font-family="Liberation Serif, serif" font-size="17.8" fill="#000">0</text>
<polygon points="330.5,682.3 331.5,682.3 331.5,681.2 332.5,681.2 332.5,680.0 333.5,680.0 333.5,678.9 334.5,678.9 334.5,677.8 335.5,677.8 335.5,676.6 336.5,676.6 336.5,675.5 337.5,675.5 337.5,674.3 338.5,674.3 338.5,673.1 339.5,673.1 339.5,671.9 340.5,671.9 340.5,668.7 341.5,668.7 341.5,663.6 342.5,663.6 342.5,658.5 343.5,658.5 343.5,654.0 344.5,654.0 344.5,649.5 345.5,649.5 345.5,645.0 346.5,645.0 346.5,640.1 347.5,640.1 347.5,635.0 348.5,635.0 348.5,630.0 349.5,630.0 349.5,624.4 350.5,624.4 350.5,618.4 351.5,618.4 351.5,612.0 352.5,612.0 352.5,604.0 353.5,604.0 353.5,595.9 354.5,595.9 354.5,588.4 355.5,588.4 355.5,581.1 356.5,581.1 356.5,574.0 357.5,574.0 357.5,567.3 358.5,567.3 358.5,560.6 359.5,560.6 359.5,556.6 360.5,556.6 360.5,552.6 361.5,552.6 361.5,550.2 362.5,550.2 362.5,549.0 363.5,549.0 363.5,547.8 364.5,547.8 364.5,547.1 365.5,547.1 365.5,547.3 366.5,547.3 366.5,547.5 367.5,547.5 367.5,547.7 368.5,547.7 368.5,549.9 369.5,549.9 369.5,555.3 370.5,555.3 370.5,560.6 371.5,560.6 371.5,567.3 372.5,567.3 372.5,574.0 373.5,574.0 373.5,581.9 374.5,581.9 374.5,590.6 375.5,590.6 375.5,598.8 376.5,598.8 376.5,605.5 377.5,605.5 377.5,612.3 378.5,612.3 378.5,619.7 379.5,619.7 379.5,627.4 380.5,627.4 380.5,634.0 381.5,634.0 381.5,638.1 382.5,638.1 382.5,642.1 383.5,642.1 383.5,646.1 384.5,646.1 384.5,650.1 385.5,650.1 385.5,654.1 386.5,654.1 386.5,656.8 387.5,656.8 387.5,659.1 388.5,659.1 388.5,661.3 389.5,661.3 389.5,663.3 390.5,663.3 390.5,665.3 391.5,665.3 391.5,667.3 392.5,667.3 392.5,669.6 393.5,669.6 393.5,672.2 394.5,672.2 394.5,674.7 395.5,674.7 395.5,676.4 396.5,676.4 396.5,676.9 397.5,676.9 397.5,677.4 398.5,677.4 398.5,677.9 399.5,677.9 399.5,678.4 400.5,678.4 400.5,680.0 401.5,680.0 401.5,682.4 402.5,682.4" fill="#fefcf8"/>
<polygon points="408.5,683.2 408.5,681.2 409.5,681.2 409.5,678.7 410.5,678.7 410.5,676.3 411.5,676.3 411.5,674.0 412.5,674.0 412.5,672.0 413.5,672.0 413.5,669.9 414.5,669.9 414.5,667.8 415.5,667.8 415.5,664.8 416.5,664.8 416.5,661.8 417.5,661.8 417.5,658.8 418.5,658.8 418.5,652.2 419.5,652.2 419.5,645.2 420.5,645.2 420.5,638.2 421.5,638.2 421.5,630.9 422.5,630.9 422.5,623.6 423.5,623.6 423.5,616.6 424.5,616.6 424.5,610.6 425.5,610.6 425.5,604.6 426.5,604.6 426.5,599.8 427.5,599.8 427.5,595.1 428.5,595.1 428.5,589.7 429.5,589.7 429.5,583.7 430.5,583.7 430.5,578.0 431.5,578.0 431.5,574.6 432.5,574.6 432.5,571.3 433.5,571.3 433.5,566.1 434.5,566.1 434.5,560.0 435.5,560.0 435.5,554.3 436.5,554.3 436.5,549.3 437.5,549.3 437.5,547.8 438.5,547.8 438.5,547.8 439.5,547.8 439.5,547.8 440.5,547.8 440.5,549.7 441.5,549.7 441.5,553.6 442.5,553.6 442.5,557.4 443.5,557.4 443.5,560.4 444.5,560.4 444.5,563.5 445.5,563.5 445.5,566.5 446.5,566.5 446.5,572.4 447.5,572.4 447.5,579.1 448.5,579.1 448.5,585.5 449.5,585.5 449.5,591.5 450.5,591.5 450.5,597.5 451.5,597.5 451.5,603.5 452.5,603.5 452.5,609.6 453.5,609.6 453.5,615.6 454.5,615.6 454.5,621.6 455.5,621.6 455.5,628.0 456.5,628.0 456.5,636.1 457.5,636.1 457.5,643.3 458.5,643.3 458.5,650.0 459.5,650.0 459.5,656.4 460.5,656.4 460.5,661.7 461.5,661.7 461.5,667.0 462.5,667.0 462.5,668.9 463.5,668.9 463.5,669.9 464.5,669.9 464.5,670.9 465.5,670.9 465.5,672.9 466.5,672.9 466.5,675.6 467.5,675.6 467.5,677.9 468.5,677.9 468.5,678.6 469.5,678.6 469.5,679.3 470.5,679.3 470.5,679.9 471.5,679.9 471.5,680.6 472.5,680.6 472.5,681.2 473.5,681.2 473.5,681.8 474.5,681.8 474.5,682.4 475.5,682.4 475.5,683.2" fill="#d6d4d8"/>
<polygon points="408.5,683.2 408.5,681.2 409.5,681.2 409.5,678.7 410.5,678.7 410.5,676.3 411.5,676.3 411.5,674.0 412.5,674.0 412.5,672.0 413.5,672.0 413.5,669.9 414.5,669.9 414.5,667.8 415.5,667.8 415.5,664.8 416.5,664.8 416.5,661.8 417.5,661.8 417.5,658.8 418.5,658.8 418.5,652.2 419.5,652.2 419.5,645.2 420.5,645.2 420.5,638.2 421.5,638.2 421.5,630.9 422.5,630.9 422.5,623.6 423.5,623.6 423.5,616.6 424.5,616.6 424.5,610.6 425.5,610.6 425.5,604.6 426.5,604.6 426.5,599.8 427.5,599.8 427.5,595.1 428.5,595.1 428.5,589.7 429.5,589.7 429.5,583.7 430.5,583.7 430.5,578.0 431.5,578.0 431.5,574.6 432.5,574.6 432.5,571.3 433.5,571.3 433.5,566.1 434.5,566.1 434.5,560.0 435.5,560.0 435.5,554.3 436.5,554.3 436.5,549.3 437.5,549.3 437.5,547.8 438.5,547.8 438.5,547.8 439.5,547.8 439.5,547.8 440.5,547.8 440.5,549.7 441.5,549.7 441.5,553.6 442.5,553.6 442.5,557.4 443.5,557.4 443.5,560.4 444.5,560.4 444.5,563.5 445.5,563.5 445.5,566.5 446.5,566.5 446.5,572.4 447.5,572.4 447.5,579.1 448.5,579.1 448.5,585.5 449.5,585.5 449.5,591.5 450.5,591.5 450.5,597.5 451.5,597.5 451.5,603.5 452.5,603.5 452.5,609.6 453.5,609.6 453.5,615.6 454.5,615.6 454.5,621.6 455.5,621.6 455.5,628.0 456.5,628.0 456.5,636.1 457.5,636.1 457.5,643.3 458.5,643.3 458.5,650.0 459.5,650.0 459.5,656.4 460.5,656.4 460.5,661.7 461.5,661.7 461.5,667.0 462.5,667.0 462.5,668.9 463.5,668.9 463.5,669.9 464.5,669.9 464.5,670.9 465.5,670.9 465.5,672.9 466.5,672.9 466.5,675.6 467.5,675.6 467.5,677.9 468.5,677.9 468.5,678.6 469.5,678.6 469.5,679.3 470.5,679.3 470.5,679.9 471.5,679.9 471.5,680.6 472.5,680.6 472.5,681.2 473.5,681.2 473.5,681.8 474.5,681.8 474.5,682.4 475.5,682.4 475.5,683.2" fill="#d7d4cf" clip-path="url(#c10)"/>
<polyline points="408.5,681.2 409.5,681.2 409.5,678.7 410.5,678.7 410.5,676.3 411.5,676.3 411.5,674.0 412.5,674.0 412.5,672.0 413.5,672.0 413.5,669.9 414.5,669.9 414.5,667.8 415.5,667.8 415.5,664.8 416.5,664.8 416.5,661.8 417.5,661.8 417.5,658.8 418.5,658.8 418.5,652.2 419.5,652.2 419.5,645.2 420.5,645.2 420.5,638.2 421.5,638.2 421.5,630.9 422.5,630.9 422.5,623.6 423.5,623.6 423.5,616.6 424.5,616.6 424.5,610.6 425.5,610.6 425.5,604.6 426.5,604.6 426.5,599.8 427.5,599.8 427.5,595.1 428.5,595.1 428.5,589.7 429.5,589.7 429.5,583.7 430.5,583.7 430.5,578.0 431.5,578.0 431.5,574.6 432.5,574.6 432.5,571.3 433.5,571.3 433.5,566.1 434.5,566.1 434.5,560.0 435.5,560.0 435.5,554.3 436.5,554.3 436.5,549.3 437.5,549.3 437.5,547.8 438.5,547.8 438.5,547.8 439.5,547.8 439.5,547.8 440.5,547.8 440.5,549.7 441.5,549.7 441.5,553.6 442.5,553.6 442.5,557.4 443.5,557.4 443.5,560.4 444.5,560.4 444.5,563.5 445.5,563.5 445.5,566.5 446.5,566.5 446.5,572.4 447.5,572.4 447.5,579.1 448.5,579.1 448.5,585.5 449.5,585.5 449.5,591.5 450.5,591.5 450.5,597.5 451.5,597.5 451.5,603.5 452.5,603.5 452.5,609.6 453.5,609.6 453.5,615.6 454.5,615.6 454.5,621.6 455.5,621.6 455.5,628.0 456.5,628.0 456.5,636.1 457.5,636.1 457.5,643.3 458.5,643.3 458.5,650.0 459.5,650.0 459.5,656.4 460.5,656.4 460.5,661.7 461.5,661.7 461.5,667.0 462.5,667.0 462.5,668.9 463.5,668.9 463.5,669.9 464.5,669.9 464.5,670.9 465.5,670.9 465.5,672.9 466.5,672.9 466.5,675.6 467.5,675.6 467.5,677.9 468.5,677.9 468.5,678.6 469.5,678.6 469.5,679.3 470.5,679.3 470.5,679.9 471.5,679.9 471.5,680.6 472.5,680.6 472.5,681.2 473.5,681.2 473.5,681.8 474.5,681.8 474.5,682.4 475.5,682.4" fill="none" stroke="#7a7a7a" stroke-width="0.9" stroke-linejoin="miter"/>
<polyline points="330.5,682.3 331.5,682.3 331.5,681.2 332.5,681.2 332.5,680.0 333.5,680.0 333.5,678.9 334.5,678.9 334.5,677.8 335.5,677.8 335.5,676.6 336.5,676.6 336.5,675.5 337.5,675.5 337.5,674.3 338.5,674.3 338.5,673.1 339.5,673.1 339.5,671.9 340.5,671.9 340.5,668.7 341.5,668.7 341.5,663.6 342.5,663.6 342.5,658.5 343.5,658.5 343.5,654.0 344.5,654.0 344.5,649.5 345.5,649.5 345.5,645.0 346.5,645.0 346.5,640.1 347.5,640.1 347.5,635.0 348.5,635.0 348.5,630.0 349.5,630.0 349.5,624.4 350.5,624.4 350.5,618.4 351.5,618.4 351.5,612.0 352.5,612.0 352.5,604.0 353.5,604.0 353.5,595.9 354.5,595.9 354.5,588.4 355.5,588.4 355.5,581.1 356.5,581.1 356.5,574.0 357.5,574.0 357.5,567.3 358.5,567.3 358.5,560.6 359.5,560.6 359.5,556.6 360.5,556.6 360.5,552.6 361.5,552.6 361.5,550.2 362.5,550.2 362.5,549.0 363.5,549.0 363.5,547.8 364.5,547.8 364.5,547.1 365.5,547.1 365.5,547.3 366.5,547.3 366.5,547.5 367.5,547.5 367.5,547.7 368.5,547.7 368.5,549.9 369.5,549.9 369.5,555.3 370.5,555.3 370.5,560.6 371.5,560.6 371.5,567.3 372.5,567.3 372.5,574.0 373.5,574.0 373.5,581.9 374.5,581.9 374.5,590.6 375.5,590.6 375.5,598.8 376.5,598.8 376.5,605.5 377.5,605.5 377.5,612.3 378.5,612.3 378.5,619.7 379.5,619.7 379.5,627.4 380.5,627.4 380.5,634.0 381.5,634.0 381.5,638.1 382.5,638.1 382.5,642.1 383.5,642.1 383.5,646.1 384.5,646.1 384.5,650.1 385.5,650.1 385.5,654.1 386.5,654.1 386.5,656.8 387.5,656.8 387.5,659.1 388.5,659.1 388.5,661.3 389.5,661.3 389.5,663.3 390.5,663.3 390.5,665.3 391.5,665.3 391.5,667.3 392.5,667.3 392.5,669.6 393.5,669.6 393.5,672.2 394.5,672.2 394.5,674.7 395.5,674.7 395.5,676.4 396.5,676.4 396.5,676.9 397.5,676.9 397.5,677.4 398.5,677.4 398.5,677.9 399.5,677.9 399.5,678.4 400.5,678.4 400.5,680.0 401.5,680.0 401.5,682.4 402.5,682.4" fill="none" stroke="#1c1c1c" stroke-width="0.85" stroke-linejoin="miter"/>
<line x1="287.2" y1="546.7" x2="500.2" y2="546.7" stroke="#363636" stroke-width="1.4"/>
<line x1="287.7" y1="546.2" x2="287.7" y2="683.2" stroke="#3a3a3a" stroke-width="1.9"/>
<line x1="500.2" y1="546.0" x2="500.2" y2="684.2" stroke="#080808" stroke-width="2.1"/>
<line x1="286.9" y1="683.2" x2="501.2" y2="683.2" stroke="#080808" stroke-width="1.8"/>
<path d="M285.5 563.8H287.7 M285.5 580.8H287.7 M285.5 597.9H287.7 M285.5 615.0H287.7 M285.5 632.0H287.7 M285.5 649.1H287.7 M285.5 666.1H287.7 M285.5 683.2H287.7 M287.7 683.2V688.0 M303.7 683.2V686.8 M313.0 683.2V686.8 M319.7 683.2V686.8 M324.8 683.2V686.8 M329.0 683.2V686.8 M332.6 683.2V686.8 M335.7 683.2V686.8 M338.4 683.2V686.8 M340.8 683.2V688.0 M356.8 683.2V686.8 M366.2 683.2V686.8 M372.8 683.2V686.8 M378.0 683.2V686.8 M382.2 683.2V686.8 M385.7 683.2V686.8 M388.8 683.2V686.8 M391.5 683.2V686.8 M393.9 683.2V688.0 M409.9 683.2V686.8 M419.3 683.2V686.8 M425.9 683.2V686.8 M431.1 683.2V686.8 M435.3 683.2V686.8 M438.8 683.2V686.8 M441.9 683.2V686.8 M444.6 683.2V686.8 M447.1 683.2V688.0 M463.1 683.2V686.8 M472.4 683.2V686.8 M479.1 683.2V686.8 M484.2 683.2V686.8 M488.4 683.2V686.8 M492.0 683.2V686.8 M495.1 683.2V686.8 M497.8 683.2V686.8 M500.2 683.2V688.0" stroke="#111" stroke-width="1.35" fill="none"/>
<line x1="391.6" y1="644.6" x2="495.1" y2="644.6" stroke="#222" stroke-width="1.3"/>
<text x="0" y="0" transform="translate(402.2,662.0) scale(1.1,1)" font-family="Liberation Sans, sans-serif" font-size="11.5" letter-spacing="0.25" fill="#1a1a1a" stroke="#1a1a1a" stroke-width="0.15">99.13<tspan dx="1.6">%</tspan></text>
<text x="357.9" y="710.6" font-family="Liberation Serif, serif" font-size="17.8" fill="#000">CD13 PE</text>
<text transform="translate(277.4,552.0) rotate(-90)" text-anchor="middle" font-family="Liberation Serif, serif" font-size="17.8" fill="#000">22</text>
<text transform="translate(273.2,621.5) rotate(-90)" text-anchor="middle" font-family="Liberation Serif, serif" font-size="17.8" fill="#000">Events</text>
<text transform="translate(277.4,683.4) rotate(-90)" text-anchor="middle" font-family="Liberation Serif, serif" font-size="17.8" fill="#000">0</text>
<polygon points="582.5,681.8 583.5,681.8 583.5,680.9 584.5,680.9 584.5,680.0 585.5,680.0 585.5,679.0 586.5,679.0 586.5,678.1 587.5,678.1 587.5,677.3 588.5,677.3 588.5,676.7 589.5,676.7 589.5,676.0 590.5,676.0 590.5,675.4 591.5,675.4 591.5,674.7 592.5,674.7 592.5,670.3 593.5,670.3 593.5,664.9 594.5,664.9 594.5,659.9 595.5,659.9 595.5,655.4 596.5,655.4 596.5,650.9 597.5,650.9 597.5,646.4 598.5,646.4 598.5,641.9 599.5,641.9 599.5,637.3 600.5,637.3 600.5,632.8 601.5,632.8 601.5,626.1 602.5,626.1 602.5,619.5 603.5,619.5 603.5,612.0 604.5,612.0 604.5,603.9 605.5,603.9 605.5,596.0 606.5,596.0 606.5,588.7 607.5,588.7 607.5,581.4 608.5,581.4 608.5,575.1 609.5,575.1 609.5,569.1 610.5,569.1 610.5,563.6 611.5,563.6 611.5,558.9 612.5,558.9 612.5,554.2 613.5,554.2 613.5,552.2 614.5,552.2 614.5,550.2 615.5,550.2 615.5,549.3 616.5,549.3 616.5,549.1 617.5,549.1 617.5,548.9 618.5,548.9 618.5,548.7 619.5,548.7 619.5,550.8 620.5,550.8 620.5,554.5 621.5,554.5 621.5,558.3 622.5,558.3 622.5,563.0 623.5,563.0 623.5,567.8 624.5,567.8 624.5,575.1 625.5,575.1 625.5,583.1 626.5,583.1 626.5,587.9 627.5,587.9 627.5,598.7 628.5,598.7 628.5,606.4 629.5,606.4 629.5,613.2 630.5,613.2 630.5,619.9 631.5,619.9 631.5,623.2 632.5,623.2 632.5,632.3 633.5,632.3 633.5,638.1 634.5,638.1 634.5,641.6 635.5,641.6 635.5,645.0 636.5,645.0 636.5,648.5 637.5,648.5 637.5,652.5 638.5,652.5 638.5,656.5 639.5,656.5 639.5,660.5 640.5,660.5 640.5,663.4 641.5,663.4 641.5,665.8 642.5,665.8 642.5,668.2 643.5,668.2 643.5,670.6 644.5,670.6 644.5,673.2 645.5,673.2 645.5,675.9 646.5,675.9 646.5,677.9 647.5,677.9 647.5,678.2 648.5,678.2 648.5,678.6 649.5,678.6 649.5,678.9 650.5,678.9 650.5,679.2 651.5,679.2 651.5,679.9 652.5,679.9 652.5,680.8 653.5,680.8 653.5,681.7 654.5,681.7 654.5,682.3 655.5,682.3 655.5,683.5" fill="#fefcf8"/>
<polygon points="572.5,683.5 572.5,682.2 573.5,682.2 573.5,681.3 574.5,681.3 574.5,680.3 575.5,680.3 575.5,679.4 576.5,679.4 576.5,678.5 577.5,678.5 577.5,677.2 578.5,677.2 578.5,675.2 579.5,675.2 579.5,673.1 580.5,673.1 580.5,671.1 581.5,671.1 581.5,669.1 582.5,669.1 582.5,667.1 583.5,667.1 583.5,665.1 584.5,665.1 584.5,661.3 585.5,661.3 585.5,657.6 586.5,657.6 586.5,654.6 587.5,654.6 587.5,651.6 588.5,651.6 588.5,648.5 589.5,648.5 589.5,644.7 590.5,644.7 590.5,640.8 591.5,640.8 591.5,636.9 592.5,636.9 592.5,632.8 593.5,632.8 593.5,628.3 594.5,628.3 594.5,621.6 595.5,621.6 595.5,614.9 596.5,614.9 596.5,612.0 597.5,612.0 597.5,610.0 598.5,610.0 598.5,608.0 599.5,608.0 599.5,601.2 600.5,601.2 600.5,591.1 601.5,591.1 601.5,582.1 602.5,582.1 602.5,575.4 603.5,575.4 603.5,572.0 604.5,572.0 604.5,568.7 605.5,568.7 605.5,563.3 606.5,563.3 606.5,557.9 607.5,557.9 607.5,553.8 608.5,553.8 608.5,550.5 609.5,550.5 609.5,547.8 610.5,547.8 610.5,547.8 611.5,547.8 611.5,547.8 612.5,547.8 612.5,547.8 613.5,547.8 613.5,549.3 614.5,549.3 614.5,550.8 615.5,550.8 615.5,552.3 616.5,552.3 616.5,555.8 617.5,555.8 617.5,559.9 618.5,559.9 618.5,564.4 619.5,564.4 619.5,569.8 620.5,569.8 620.5,575.1 621.5,575.1 621.5,581.8 622.5,581.8 622.5,588.4 623.5,588.4 623.5,595.9 624.5,595.9 624.5,604.0 625.5,604.0 625.5,612.0 626.5,612.0 626.5,620.0 627.5,620.0 627.5,628.0 628.5,628.0 628.5,633.7 629.5,633.7 629.5,638.9 630.5,638.9 630.5,643.8 631.5,643.8 631.5,648.3 632.5,648.3 632.5,652.9 633.5,652.9 633.5,657.3 634.5,657.3 634.5,661.3 635.5,661.3 635.5,665.3 636.5,665.3 636.5,667.4 637.5,667.4 637.5,668.8 638.5,668.8 638.5,670.7 639.5,670.7 639.5,674.1 640.5,674.1 640.5,677.5 641.5,677.5 641.5,679.5 642.5,679.5 642.5,681.4 643.5,681.4 643.5,683.5" fill="#d6d4d8"/>
<polygon points="572.5,683.5 572.5,682.2 573.5,682.2 573.5,681.3 574.5,681.3 574.5,680.3 575.5,680.3 575.5,679.4 576.5,679.4 576.5,678.5 577.5,678.5 577.5,677.2 578.5,677.2 578.5,675.2 579.5,675.2 579.5,673.1 580.5,673.1 580.5,671.1 581.5,671.1 581.5,669.1 582.5,669.1 582.5,667.1 583.5,667.1 583.5,665.1 584.5,665.1 584.5,661.3 585.5,661.3 585.5,657.6 586.5,657.6 586.5,654.6 587.5,654.6 587.5,651.6 588.5,651.6 588.5,648.5 589.5,648.5 589.5,644.7 590.5,644.7 590.5,640.8 591.5,640.8 591.5,636.9 592.5,636.9 592.5,632.8 593.5,632.8 593.5,628.3 594.5,628.3 594.5,621.6 595.5,621.6 595.5,614.9 596.5,614.9 596.5,612.0 597.5,612.0 597.5,610.0 598.5,610.0 598.5,608.0 599.5,608.0 599.5,601.2 600.5,601.2 600.5,591.1 601.5,591.1 601.5,582.1 602.5,582.1 602.5,575.4 603.5,575.4 603.5,572.0 604.5,572.0 604.5,568.7 605.5,568.7 605.5,563.3 606.5,563.3 606.5,557.9 607.5,557.9 607.5,553.8 608.5,553.8 608.5,550.5 609.5,550.5 609.5,547.8 610.5,547.8 610.5,547.8 611.5,547.8 611.5,547.8 612.5,547.8 612.5,547.8 613.5,547.8 613.5,549.3 614.5,549.3 614.5,550.8 615.5,550.8 615.5,552.3 616.5,552.3 616.5,555.8 617.5,555.8 617.5,559.9 618.5,559.9 618.5,564.4 619.5,564.4 619.5,569.8 620.5,569.8 620.5,575.1 621.5,575.1 621.5,581.8 622.5,581.8 622.5,588.4 623.5,588.4 623.5,595.9 624.5,595.9 624.5,604.0 625.5,604.0 625.5,612.0 626.5,612.0 626.5,620.0 627.5,620.0 627.5,628.0 628.5,628.0 628.5,633.7 629.5,633.7 629.5,638.9 630.5,638.9 630.5,643.8 631.5,643.8 631.5,648.3 632.5,648.3 632.5,652.9 633.5,652.9 633.5,657.3 634.5,657.3 634.5,661.3 635.5,661.3 635.5,665.3 636.5,665.3 636.5,667.4 637.5,667.4 637.5,668.8 638.5,668.8 638.5,670.7 639.5,670.7 639.5,674.1 640.5,674.1 640.5,677.5 641.5,677.5 641.5,679.5 642.5,679.5 642.5,681.4 643.5,681.4 643.5,683.5" fill="#d7d4cf" clip-path="url(#c11)"/>
<polyline points="572.5,682.2 573.5,682.2 573.5,681.3 574.5,681.3 574.5,680.3 575.5,680.3 575.5,679.4 576.5,679.4 576.5,678.5 577.5,678.5 577.5,677.2 578.5,677.2 578.5,675.2 579.5,675.2 579.5,673.1 580.5,673.1 580.5,671.1 581.5,671.1 581.5,669.1 582.5,669.1 582.5,667.1 583.5,667.1 583.5,665.1 584.5,665.1 584.5,661.3 585.5,661.3 585.5,657.6 586.5,657.6 586.5,654.6 587.5,654.6 587.5,651.6 588.5,651.6 588.5,648.5 589.5,648.5 589.5,644.7 590.5,644.7 590.5,640.8 591.5,640.8 591.5,636.9 592.5,636.9 592.5,632.8 593.5,632.8 593.5,628.3 594.5,628.3 594.5,621.6 595.5,621.6 595.5,614.9 596.5,614.9 596.5,612.0 597.5,612.0 597.5,610.0 598.5,610.0 598.5,608.0 599.5,608.0 599.5,601.2 600.5,601.2 600.5,591.1 601.5,591.1 601.5,582.1 602.5,582.1 602.5,575.4 603.5,575.4 603.5,572.0 604.5,572.0 604.5,568.7 605.5,568.7 605.5,563.3 606.5,563.3 606.5,557.9 607.5,557.9 607.5,553.8 608.5,553.8 608.5,550.5 609.5,550.5 609.5,547.8 610.5,547.8 610.5,547.8 611.5,547.8 611.5,547.8 612.5,547.8 612.5,547.8 613.5,547.8 613.5,549.3 614.5,549.3 614.5,550.8 615.5,550.8 615.5,552.3 616.5,552.3 616.5,555.8 617.5,555.8 617.5,559.9 618.5,559.9 618.5,564.4 619.5,564.4 619.5,569.8 620.5,569.8 620.5,575.1 621.5,575.1 621.5,581.8 622.5,581.8 622.5,588.4 623.5,588.4 623.5,595.9 624.5,595.9 624.5,604.0 625.5,604.0 625.5,612.0 626.5,612.0 626.5,620.0 627.5,620.0 627.5,628.0 628.5,628.0 628.5,633.7 629.5,633.7 629.5,638.9 630.5,638.9 630.5,643.8 631.5,643.8 631.5,648.3 632.5,648.3 632.5,652.9 633.5,652.9 633.5,657.3 634.5,657.3 634.5,661.3 635.5,661.3 635.5,665.3 636.5,665.3 636.5,667.4 637.5,667.4 637.5,668.8 638.5,668.8 638.5,670.7 639.5,670.7 639.5,674.1 640.5,674.1 640.5,677.5 641.5,677.5 641.5,679.5 642.5,679.5 642.5,681.4 643.5,681.4" fill="none" stroke="#7a7a7a" stroke-width="0.9" stroke-linejoin="miter"/>
<polyline points="582.5,681.8 583.5,681.8 583.5,680.9 584.5,680.9 584.5,680.0 585.5,680.0 585.5,679.0 586.5,679.0 586.5,678.1 587.5,678.1 587.5,677.3 588.5,677.3 588.5,676.7 589.5,676.7 589.5,676.0 590.5,676.0 590.5,675.4 591.5,675.4 591.5,674.7 592.5,674.7 592.5,670.3 593.5,670.3 593.5,664.9 594.5,664.9 594.5,659.9 595.5,659.9 595.5,655.4 596.5,655.4 596.5,650.9 597.5,650.9 597.5,646.4 598.5,646.4 598.5,641.9 599.5,641.9 599.5,637.3 600.5,637.3 600.5,632.8 601.5,632.8 601.5,626.1 602.5,626.1 602.5,619.5 603.5,619.5 603.5,612.0 604.5,612.0 604.5,603.9 605.5,603.9 605.5,596.0 606.5,596.0 606.5,588.7 607.5,588.7 607.5,581.4 608.5,581.4 608.5,575.1 609.5,575.1 609.5,569.1 610.5,569.1 610.5,563.6 611.5,563.6 611.5,558.9 612.5,558.9 612.5,554.2 613.5,554.2 613.5,552.2 614.5,552.2 614.5,550.2 615.5,550.2 615.5,549.3 616.5,549.3 616.5,549.1 617.5,549.1 617.5,548.9 618.5,548.9 618.5,548.7 619.5,548.7 619.5,550.8 620.5,550.8 620.5,554.5 621.5,554.5 621.5,558.3 622.5,558.3 622.5,563.0 623.5,563.0 623.5,567.8 624.5,567.8 624.5,575.1 625.5,575.1 625.5,583.1 626.5,583.1 626.5,587.9 627.5,587.9 627.5,598.7 628.5,598.7 628.5,606.4 629.5,606.4 629.5,613.2 630.5,613.2 630.5,619.9 631.5,619.9 631.5,623.2 632.5,623.2 632.5,632.3 633.5,632.3 633.5,638.1 634.5,638.1 634.5,641.6 635.5,641.6 635.5,645.0 636.5,645.0 636.5,648.5 637.5,648.5 637.5,652.5 638.5,652.5 638.5,656.5 639.5,656.5 639.5,660.5 640.5,660.5 640.5,663.4 641.5,663.4 641.5,665.8 642.5,665.8 642.5,668.2 643.5,668.2 643.5,670.6 644.5,670.6 644.5,673.2 645.5,673.2 645.5,675.9 646.5,675.9 646.5,677.9 647.5,677.9 647.5,678.2 648.5,678.2 648.5,678.6 649.5,678.6 649.5,678.9 650.5,678.9 650.5,679.2 651.5,679.2 651.5,679.9 652.5,679.9 652.5,680.8 653.5,680.8 653.5,681.7 654.5,681.7 654.5,682.3 655.5,682.3" fill="none" stroke="#1c1c1c" stroke-width="0.85" stroke-linejoin="miter"/>
<line x1="539.5" y1="547" x2="752.5" y2="547" stroke="#363636" stroke-width="1.4"/>
<line x1="540" y1="546.5" x2="540" y2="683.5" stroke="#3a3a3a" stroke-width="1.9"/>
<line x1="752.5" y1="546.3" x2="752.5" y2="684.5" stroke="#080808" stroke-width="2.1"/>
<line x1="539.2" y1="683.5" x2="753.5" y2="683.5" stroke="#080808" stroke-width="1.8"/>
<path d="M537.8 564.1H540 M537.8 581.1H540 M537.8 598.2H540 M537.8 615.2H540 M537.8 632.3H540 M537.8 649.4H540 M537.8 666.4H540 M537.8 683.5H540 M540.0 683.5V688.3 M556.0 683.5V687.1 M565.3 683.5V687.1 M572.0 683.5V687.1 M577.1 683.5V687.1 M581.3 683.5V687.1 M584.9 683.5V687.1 M588.0 683.5V687.1 M590.7 683.5V687.1 M593.1 683.5V688.3 M609.1 683.5V687.1 M618.5 683.5V687.1 M625.1 683.5V687.1 M630.3 683.5V687.1 M634.5 683.5V687.1 M638.0 683.5V687.1 M641.1 683.5V687.1 M643.8 683.5V687.1 M646.2 683.5V688.3 M662.2 683.5V687.1 M671.6 683.5V687.1 M678.2 683.5V687.1 M683.4 683.5V687.1 M687.6 683.5V687.1 M691.1 683.5V687.1 M694.2 683.5V687.1 M696.9 683.5V687.1 M699.4 683.5V688.3 M715.4 683.5V687.1 M724.7 683.5V687.1 M731.4 683.5V687.1 M736.5 683.5V687.1 M740.7 683.5V687.1 M744.3 683.5V687.1 M747.4 683.5V687.1 M750.1 683.5V687.1 M752.5 683.5V688.3" stroke="#111" stroke-width="1.35" fill="none"/>
<line x1="642.4" y1="641.2" x2="748.3" y2="641.2" stroke="#222" stroke-width="1.3"/>
<text x="0" y="0" transform="translate(653.0,658.0) scale(1.1,1)" font-family="Liberation Sans, sans-serif" font-size="11.5" letter-spacing="0.25" fill="#1a1a1a" stroke="#1a1a1a" stroke-width="0.15">0.43<tspan dx="1.6">%</tspan></text>
<text x="611.5" y="710.6" font-family="Liberation Serif, serif" font-size="17.8" fill="#000">CD106 PE</text>
<text transform="translate(531.9,553.7) rotate(-90)" text-anchor="middle" font-family="Liberation Serif, serif" font-size="17.8" fill="#000">67</text>
<text transform="translate(526.9,622.3) rotate(-90)" text-anchor="middle" font-family="Liberation Serif, serif" font-size="17.8" fill="#000">Events</text>
<text transform="translate(531.1,685.0) rotate(-90)" text-anchor="middle" font-family="Liberation Serif, serif" font-size="17.8" fill="#000">0</text>
<polygon points="30.5,866.0 30.5,830.0 31.5,830.0 31.5,857.0 32.5,857.0 32.5,855.3 33.5,855.3 33.5,853.7 34.5,853.7 34.5,852.1 35.5,852.1 35.5,850.8 36.5,850.8 36.5,850.2 37.5,850.2 37.5,849.5 38.5,849.5 38.5,848.8 39.5,848.8 39.5,848.2 40.5,848.2 40.5,845.5 41.5,845.5 41.5,841.5 42.5,841.5 42.5,842.0 43.5,842.0 43.5,842.5 44.5,842.5 44.5,843.0 45.5,843.0 45.5,840.8 46.5,840.8 46.5,837.4 47.5,837.4 47.5,835.0 48.5,835.0 48.5,834.5 49.5,834.5 49.5,834.0 50.5,834.0 50.5,833.8 51.5,833.8 51.5,836.8 52.5,836.8 52.5,836.5 53.5,836.5 53.5,832.9 54.5,832.9 54.5,829.3 55.5,829.3 55.5,825.7 56.5,825.7 56.5,824.6 57.5,824.6 57.5,825.9 58.5,825.9 58.5,826.8 59.5,826.8 59.5,824.0 60.5,824.0 60.5,821.2 61.5,821.2 61.5,818.3 62.5,818.3 62.5,815.6 63.5,815.6 63.5,814.1 64.5,814.1 64.5,812.6 65.5,812.6 65.5,811.1 66.5,811.1 66.5,806.2 67.5,806.2 67.5,800.9 68.5,800.9 68.5,799.2 69.5,799.2 69.5,801.2 70.5,801.2 70.5,801.9 71.5,801.9 71.5,785.4 72.5,785.4 72.5,784.1 73.5,784.1 73.5,781.4 74.5,781.4 74.5,778.5 75.5,778.5 75.5,773.1 76.5,773.1 76.5,767.7 77.5,767.7 77.5,761.9 78.5,761.9 78.5,756.4 79.5,756.4 79.5,755.8 80.5,755.8 80.5,755.2 81.5,755.2 81.5,748.9 82.5,748.9 82.5,738.8 83.5,738.8 83.5,736.8 84.5,736.8 84.5,734.8 85.5,734.8 85.5,733.1 86.5,733.1 86.5,731.5 87.5,731.5 87.5,732.5 88.5,732.5 88.5,733.6 89.5,733.6 89.5,734.9 90.5,734.9 90.5,736.4 91.5,736.4 91.5,737.9 92.5,737.9 92.5,737.2 93.5,737.2 93.5,733.2 94.5,733.2 94.5,737.2 95.5,737.2 95.5,743.3 96.5,743.3 96.5,748.3 97.5,748.3 97.5,751.8 98.5,751.8 98.5,755.3 99.5,755.3 99.5,759.2 100.5,759.2 100.5,764.5 101.5,764.5 101.5,769.8 102.5,769.8 102.5,779.0 103.5,779.0 103.5,789.4 104.5,789.4 104.5,797.0 105.5,797.0 105.5,798.0 106.5,798.0 106.5,804.1 107.5,804.1 107.5,811.4 108.5,811.4 108.5,817.4 109.5,817.4 109.5,821.4 110.5,821.4 110.5,825.5 111.5,825.5 111.5,829.3 112.5,829.3 112.5,832.1 113.5,832.1 113.5,834.9 114.5,834.9 114.5,837.7 115.5,837.7 115.5,840.4 116.5,840.4 116.5,842.7 117.5,842.7 117.5,845.1 118.5,845.1 118.5,847.4 119.5,847.4 119.5,849.9 120.5,849.9 120.5,853.9 121.5,853.9 121.5,858.0 122.5,858.0 122.5,859.7 123.5,859.7 123.5,860.3 124.5,860.3 124.5,861.4 125.5,861.4 125.5,863.3 126.5,863.3 126.5,865.3 127.5,865.3" fill="#fefcf8"/>
<rect x="28.4" y="802.5" width="2.5" height="32.5" fill="#1515b0"/>
<polyline points="30.5,830.0 31.5,830.0 31.5,857.0 32.5,857.0 32.5,855.3 33.5,855.3 33.5,853.7 34.5,853.7 34.5,852.1 35.5,852.1 35.5,850.8 36.5,850.8 36.5,850.2 37.5,850.2 37.5,849.5 38.5,849.5 38.5,848.8 39.5,848.8 39.5,848.2 40.5,848.2 40.5,845.5 41.5,845.5 41.5,841.5 42.5,841.5 42.5,842.0 43.5,842.0 43.5,842.5 44.5,842.5 44.5,843.0 45.5,843.0 45.5,840.8 46.5,840.8 46.5,837.4 47.5,837.4 47.5,835.0 48.5,835.0 48.5,834.5 49.5,834.5 49.5,834.0 50.5,834.0 50.5,833.8 51.5,833.8 51.5,836.8 52.5,836.8 52.5,836.5 53.5,836.5 53.5,832.9 54.5,832.9 54.5,829.3 55.5,829.3 55.5,825.7 56.5,825.7 56.5,824.6 57.5,824.6 57.5,825.9 58.5,825.9 58.5,826.8 59.5,826.8 59.5,824.0 60.5,824.0 60.5,821.2 61.5,821.2 61.5,818.3 62.5,818.3 62.5,815.6 63.5,815.6 63.5,814.1 64.5,814.1 64.5,812.6 65.5,812.6 65.5,811.1 66.5,811.1 66.5,806.2 67.5,806.2 67.5,800.9 68.5,800.9 68.5,799.2 69.5,799.2 69.5,801.2 70.5,801.2 70.5,801.9 71.5,801.9 71.5,785.4 72.5,785.4 72.5,784.1 73.5,784.1 73.5,781.4 74.5,781.4 74.5,778.5 75.5,778.5 75.5,773.1 76.5,773.1 76.5,767.7 77.5,767.7 77.5,761.9 78.5,761.9 78.5,756.4 79.5,756.4 79.5,755.8 80.5,755.8 80.5,755.2 81.5,755.2 81.5,748.9 82.5,748.9 82.5,738.8 83.5,738.8 83.5,736.8 84.5,736.8 84.5,734.8 85.5,734.8 85.5,733.1 86.5,733.1 86.5,731.5 87.5,731.5 87.5,732.5 88.5,732.5 88.5,733.6 89.5,733.6 89.5,734.9 90.5,734.9 90.5,736.4 91.5,736.4 91.5,737.9 92.5,737.9 92.5,737.2 93.5,737.2 93.5,733.2 94.5,733.2 94.5,737.2 95.5,737.2 95.5,743.3 96.5,743.3 96.5,748.3 97.5,748.3 97.5,751.8 98.5,751.8 98.5,755.3 99.5,755.3 99.5,759.2 100.5,759.2 100.5,764.5 101.5,764.5 101.5,769.8 102.5,769.8 102.5,779.0 103.5,779.0 103.5,789.4 104.5,789.4 104.5,797.0 105.5,797.0 105.5,798.0 106.5,798.0 106.5,804.1 107.5,804.1 107.5,811.4 108.5,811.4 108.5,817.4 109.5,817.4 109.5,821.4 110.5,821.4 110.5,825.5 111.5,825.5 111.5,829.3 112.5,829.3 112.5,832.1 113.5,832.1 113.5,834.9 114.5,834.9 114.5,837.7 115.5,837.7 115.5,840.4 116.5,840.4 116.5,842.7 117.5,842.7 117.5,845.1 118.5,845.1 118.5,847.4 119.5,847.4 119.5,849.9 120.5,849.9 120.5,853.9 121.5,853.9 121.5,858.0 122.5,858.0 122.5,859.7 123.5,859.7 123.5,860.3 124.5,860.3 124.5,861.4 125.5,861.4 125.5,863.3 126.5,863.3 126.5,865.3 127.5,865.3" fill="none" stroke="#1c1c1c" stroke-width="0.85" stroke-linejoin="miter"/>
<rect x="28.6" y="730.9" width="212.9" height="135.10000000000002" fill="none" stroke="#0c0cc0" stroke-width="2.5"/>
<path d="M26.4 747.8H28.6 M26.4 764.7H28.6 M26.4 781.6H28.6 M26.4 798.5H28.6 M26.4 815.3H28.6 M26.4 832.2H28.6 M26.4 849.1H28.6 M26.4 866.0H28.6 M28.6 866V870.8 M44.6 866V869.6 M54.0 866V869.6 M60.6 866V869.6 M65.8 866V869.6 M70.0 866V869.6 M73.6 866V869.6 M76.7 866V869.6 M79.4 866V869.6 M81.8 866V870.8 M97.8 866V869.6 M107.2 866V869.6 M113.9 866V869.6 M119.0 866V869.6 M123.2 866V869.6 M126.8 866V869.6 M129.9 866V869.6 M132.6 866V869.6 M135.1 866V870.8 M151.1 866V869.6 M160.4 866V869.6 M167.1 866V869.6 M172.3 866V869.6 M176.5 866V869.6 M180.0 866V869.6 M183.1 866V869.6 M185.8 866V869.6 M188.3 866V870.8 M204.3 866V869.6 M213.7 866V869.6 M220.3 866V869.6 M225.5 866V869.6 M229.7 866V869.6 M233.3 866V869.6 M236.3 866V869.6 M239.1 866V869.6 M241.5 866V870.8" stroke="#111" stroke-width="1.35" fill="none"/>
<text x="99.4" y="893.2" font-family="Liberation Serif, serif" font-size="17.8" fill="#000">IgG FITC</text>
<text transform="translate(19.5,735.9) rotate(-90)" text-anchor="middle" font-family="Liberation Serif, serif" font-size="17.8" fill="#000">42</text>
<text transform="translate(15.7,804.5) rotate(-90)" text-anchor="middle" font-family="Liberation Serif, serif" font-size="17.8" fill="#000">Events</text>
<text transform="translate(19.5,867.2) rotate(-90)" text-anchor="middle" font-family="Liberation Serif, serif" font-size="17.8" fill="#000">0</text>
<polygon points="329.5,864.4 330.5,864.4 330.5,863.3 331.5,863.3 331.5,862.2 332.5,862.2 332.5,861.1 333.5,861.1 333.5,860.1 334.5,860.1 334.5,859.0 335.5,859.0 335.5,857.9 336.5,857.9 336.5,856.8 337.5,856.8 337.5,855.5 338.5,855.5 338.5,854.3 339.5,854.3 339.5,853.1 340.5,853.1 340.5,851.9 341.5,851.9 341.5,845.8 342.5,845.8 342.5,839.9 343.5,839.9 343.5,834.6 344.5,834.6 344.5,829.4 345.5,829.4 345.5,824.1 346.5,824.1 346.5,818.9 347.5,818.9 347.5,813.6 348.5,813.6 348.5,808.3 349.5,808.3 349.5,802.8 350.5,802.8 350.5,797.4 351.5,797.4 351.5,790.7 352.5,790.7 352.5,779.4 353.5,779.4 353.5,774.6 354.5,774.6 354.5,766.5 355.5,766.5 355.5,760.0 356.5,760.0 356.5,754.1 357.5,754.1 357.5,748.2 358.5,748.2 358.5,742.2 359.5,742.2 359.5,736.1 360.5,736.1 360.5,734.0 361.5,734.0 361.5,732.4 362.5,732.4 362.5,730.8 363.5,730.8 363.5,730.8 364.5,730.8 364.5,730.8 365.5,730.8 365.5,730.8 366.5,730.8 366.5,731.7 367.5,731.7 367.5,736.2 368.5,736.2 368.5,740.6 369.5,740.6 369.5,744.5 370.5,744.5 370.5,748.4 371.5,748.4 371.5,750.8 372.5,750.8 372.5,762.1 373.5,762.1 373.5,766.1 374.5,766.1 374.5,777.3 375.5,777.3 375.5,784.8 376.5,784.8 376.5,791.6 377.5,791.6 377.5,798.2 378.5,798.2 378.5,804.8 379.5,804.8 379.5,810.1 380.5,810.1 380.5,815.1 381.5,815.1 381.5,820.2 382.5,820.2 382.5,825.2 383.5,825.2 383.5,829.7 384.5,829.7 384.5,834.2 385.5,834.2 385.5,838.7 386.5,838.7 386.5,842.8 387.5,842.8 387.5,845.3 388.5,845.3 388.5,847.9 389.5,847.9 389.5,850.4 390.5,850.4 390.5,852.7 391.5,852.7 391.5,854.7 392.5,854.7 392.5,856.7 393.5,856.7 393.5,858.7 394.5,858.7 394.5,859.8 395.5,859.8 395.5,860.3 396.5,860.3 396.5,860.8 397.5,860.8 397.5,861.3 398.5,861.3 398.5,862.0 399.5,862.0 399.5,862.9 400.5,862.9 400.5,863.8 401.5,863.8 401.5,864.7 402.5,864.7" fill="#fefcf8"/>
<polyline points="329.5,864.4 330.5,864.4 330.5,863.3 331.5,863.3 331.5,862.2 332.5,862.2 332.5,861.1 333.5,861.1 333.5,860.1 334.5,860.1 334.5,859.0 335.5,859.0 335.5,857.9 336.5,857.9 336.5,856.8 337.5,856.8 337.5,855.5 338.5,855.5 338.5,854.3 339.5,854.3 339.5,853.1 340.5,853.1 340.5,851.9 341.5,851.9 341.5,845.8 342.5,845.8 342.5,839.9 343.5,839.9 343.5,834.6 344.5,834.6 344.5,829.4 345.5,829.4 345.5,824.1 346.5,824.1 346.5,818.9 347.5,818.9 347.5,813.6 348.5,813.6 348.5,808.3 349.5,808.3 349.5,802.8 350.5,802.8 350.5,797.4 351.5,797.4 351.5,790.7 352.5,790.7 352.5,779.4 353.5,779.4 353.5,774.6 354.5,774.6 354.5,766.5 355.5,766.5 355.5,760.0 356.5,760.0 356.5,754.1 357.5,754.1 357.5,748.2 358.5,748.2 358.5,742.2 359.5,742.2 359.5,736.1 360.5,736.1 360.5,734.0 361.5,734.0 361.5,732.4 362.5,732.4 362.5,730.8 363.5,730.8 363.5,730.8 364.5,730.8 364.5,730.8 365.5,730.8 365.5,730.8 366.5,730.8 366.5,731.7 367.5,731.7 367.5,736.2 368.5,736.2 368.5,740.6 369.5,740.6 369.5,744.5 370.5,744.5 370.5,748.4 371.5,748.4 371.5,750.8 372.5,750.8 372.5,762.1 373.5,762.1 373.5,766.1 374.5,766.1 374.5,777.3 375.5,777.3 375.5,784.8 376.5,784.8 376.5,791.6 377.5,791.6 377.5,798.2 378.5,798.2 378.5,804.8 379.5,804.8 379.5,810.1 380.5,810.1 380.5,815.1 381.5,815.1 381.5,820.2 382.5,820.2 382.5,825.2 383.5,825.2 383.5,829.7 384.5,829.7 384.5,834.2 385.5,834.2 385.5,838.7 386.5,838.7 386.5,842.8 387.5,842.8 387.5,845.3 388.5,845.3 388.5,847.9 389.5,847.9 389.5,850.4 390.5,850.4 390.5,852.7 391.5,852.7 391.5,854.7 392.5,854.7 392.5,856.7 393.5,856.7 393.5,858.7 394.5,858.7 394.5,859.8 395.5,859.8 395.5,860.3 396.5,860.3 396.5,860.8 397.5,860.8 397.5,861.3 398.5,861.3 398.5,862.0 399.5,862.0 399.5,862.9 400.5,862.9 400.5,863.8 401.5,863.8 401.5,864.7 402.5,864.7" fill="none" stroke="#1c1c1c" stroke-width="0.85" stroke-linejoin="miter"/>
<rect x="287.5" y="729.4" width="211.89999999999998" height="135.70000000000005" fill="none" stroke="#0c0cc0" stroke-width="2.5"/>
<path d="M285.3 746.4H287.5 M285.3 763.3H287.5 M285.3 780.3H287.5 M285.3 797.2H287.5 M285.3 814.2H287.5 M285.3 831.2H287.5 M285.3 848.1H287.5 M285.3 865.1H287.5 M287.5 865.1V869.9 M303.4 865.1V868.7 M312.8 865.1V868.7 M319.4 865.1V868.7 M324.5 865.1V868.7 M328.7 865.1V868.7 M332.3 865.1V868.7 M335.3 865.1V868.7 M338.1 865.1V868.7 M340.5 865.1V869.9 M356.4 865.1V868.7 M365.8 865.1V868.7 M372.4 865.1V868.7 M377.5 865.1V868.7 M381.7 865.1V868.7 M385.2 865.1V868.7 M388.3 865.1V868.7 M391.0 865.1V868.7 M393.4 865.1V869.9 M409.4 865.1V868.7 M418.7 865.1V868.7 M425.3 865.1V868.7 M430.5 865.1V868.7 M434.7 865.1V868.7 M438.2 865.1V868.7 M441.3 865.1V868.7 M444.0 865.1V868.7 M446.4 865.1V869.9 M462.4 865.1V868.7 M471.7 865.1V868.7 M478.3 865.1V868.7 M483.5 865.1V868.7 M487.6 865.1V868.7 M491.2 865.1V868.7 M494.3 865.1V868.7 M497.0 865.1V868.7 M499.4 865.1V869.9" stroke="#111" stroke-width="1.35" fill="none"/>
<text x="357.8" y="892.0" font-family="Liberation Serif, serif" font-size="17.8" fill="#000">IgG PE</text>
<text transform="translate(277.4,733.4) rotate(-90)" text-anchor="middle" font-family="Liberation Serif, serif" font-size="17.8" fill="#000">72</text>
<text transform="translate(272.4,802.8) rotate(-90)" text-anchor="middle" font-family="Liberation Serif, serif" font-size="17.8" fill="#000">Events</text>
<text transform="translate(276.6,865.5) rotate(-90)" text-anchor="middle" font-family="Liberation Serif, serif" font-size="17.8" fill="#000">0</text>
</svg>
</body></html>
